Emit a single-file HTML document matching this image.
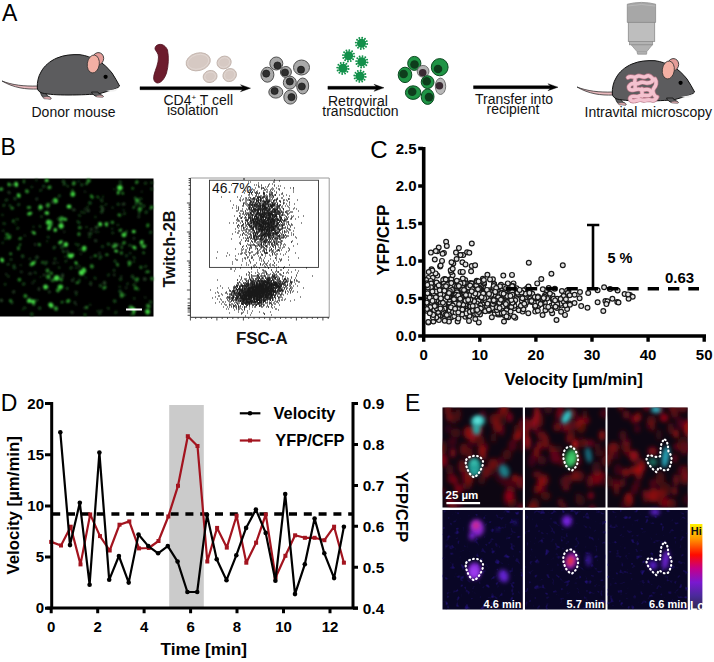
<!DOCTYPE html>
<html><head><meta charset="utf-8"><style>
html,body{margin:0;padding:0;background:#fff;width:714px;height:662px;overflow:hidden}
svg{display:block;font-family:"Liberation Sans",sans-serif}
</style></head><body>
<svg width="714" height="662" viewBox="0 0 714 662">

<defs>
<filter id="blur1" x="-5%" y="-5%" width="110%" height="110%"><feGaussianBlur stdDeviation="0.9"/></filter>
<filter id="bl15" x="-10%" y="-10%" width="120%" height="120%"><feGaussianBlur stdDeviation="1.9"/></filter>
<filter id="bl2" x="-60%" y="-60%" width="220%" height="220%"><feGaussianBlur stdDeviation="2"/></filter>
<filter id="redn0" x="0" y="0" width="100%" height="100%" color-interpolation-filters="sRGB">
<feTurbulence type="fractalNoise" baseFrequency="0.11 0.075" numOctaves="1" seed="3"/><feGaussianBlur stdDeviation="1.3"/>
<feColorMatrix type="matrix" values="1.7 0 0 0 -0.7  0 0 0 0 0.025  -0.2 0 0 0 0.17  0 0 0 0 1"/>
</filter>
<filter id="blun0" x="0" y="0" width="100%" height="100%" color-interpolation-filters="sRGB">
<feTurbulence type="fractalNoise" baseFrequency="0.2" numOctaves="2" seed="43"/>
<feColorMatrix type="matrix" values="0 0 0 0 0.17  0 0 0 0 0.08  0 0 0 0 0.62  0 0 2.6 0 -1.62"/>
</filter>
<filter id="redn1" x="0" y="0" width="100%" height="100%" color-interpolation-filters="sRGB">
<feTurbulence type="fractalNoise" baseFrequency="0.11 0.075" numOctaves="1" seed="8"/><feGaussianBlur stdDeviation="1.3"/>
<feColorMatrix type="matrix" values="1.7 0 0 0 -0.7  0 0 0 0 0.025  -0.2 0 0 0 0.17  0 0 0 0 1"/>
</filter>
<filter id="blun1" x="0" y="0" width="100%" height="100%" color-interpolation-filters="sRGB">
<feTurbulence type="fractalNoise" baseFrequency="0.2" numOctaves="2" seed="48"/>
<feColorMatrix type="matrix" values="0 0 0 0 0.17  0 0 0 0 0.08  0 0 0 0 0.62  0 0 2.6 0 -1.62"/>
</filter>
<filter id="redn2" x="0" y="0" width="100%" height="100%" color-interpolation-filters="sRGB">
<feTurbulence type="fractalNoise" baseFrequency="0.11 0.075" numOctaves="1" seed="13"/><feGaussianBlur stdDeviation="1.3"/>
<feColorMatrix type="matrix" values="1.7 0 0 0 -0.7  0 0 0 0 0.025  -0.2 0 0 0 0.17  0 0 0 0 1"/>
</filter>
<filter id="blun2" x="0" y="0" width="100%" height="100%" color-interpolation-filters="sRGB">
<feTurbulence type="fractalNoise" baseFrequency="0.2" numOctaves="2" seed="53"/>
<feColorMatrix type="matrix" values="0 0 0 0 0.17  0 0 0 0 0.08  0 0 0 0 0.62  0 0 2.6 0 -1.62"/>
</filter>
<linearGradient id="cbar" x1="0" y1="0" x2="0" y2="1">
<stop offset="0" stop-color="#fff200"/><stop offset="0.17" stop-color="#ff9a00"/><stop offset="0.36" stop-color="#ff0a00"/>
<stop offset="0.52" stop-color="#c4008a"/><stop offset="0.68" stop-color="#7a18d0"/><stop offset="0.84" stop-color="#4a2a9a"/><stop offset="1" stop-color="#302848"/>
</linearGradient>
<clipPath id="clipE"><rect x="442.5" y="407.5" width="80.3" height="100"/><rect x="525" y="407.5" width="80.5" height="100"/><rect x="607.5" y="407.5" width="80.2" height="100"/>
<rect x="442.5" y="510" width="80.3" height="99.5"/><rect x="525" y="510" width="80.5" height="99.5"/><rect x="607.5" y="510" width="80.2" height="99.5"/></clipPath>
</defs>

<rect width="714" height="662" fill="#fff"/>
<g id="A">
<text x="2" y="20.5" font-size="23" font-weight="normal" text-anchor="start" fill="#000" >A</text>
<g transform="translate(0,0)">
<path d="M2,81 C12,85 24,86.5 38,86 L38,89 C26,89.5 14,88 2,81 Z" fill="#e9b9bd" stroke="#333" stroke-width="0.8"/>
<path d="M40,88 C40,93 41.5,96 43.5,97.8 L51,99 C51.5,97.8 49.5,96.6 47.5,96 C46.5,94.5 46.5,92.5 46,90.5 Z" fill="#5c5c5e" stroke="#111" stroke-width="0.8"/>
<path d="M43,97.5 C45,96.5 48,96.3 50.5,97.3 C51.5,98 51,99.2 49.5,99.2 L44,98.8 Z" fill="#e2a9ae" stroke="#555" stroke-width="0.5"/>
<path d="M37.3,88 C37,82 38.5,76 41,72 C44,66 50,61 57,58 C64,55 72,54.3 80,54.7 C86,55.5 91,57.5 97,60 C103,63 108,68 112,73 C115,77.5 117.5,82 119.6,86 C118,88 115.5,89 112,90 C108,91 104,92.5 100,93.5 C92,94.5 80,95 68,95 C58,95 48,94.5 42,93 C39,92 37.5,90 37.3,88 Z" fill="#5c5c5e" stroke="#111" stroke-width="1"/>
<path d="M91.5,92 C92.5,94.5 94.5,96 97,96.5 L103.2,96.8 C103.6,95.8 102,95 100,94.6 C99,93.8 98.5,93 98,92 Z" fill="#5c5c5e" stroke="#111" stroke-width="0.8"/>
<path d="M96,96 C98,95 101,94.8 103,95.8 C103.8,96.5 103.2,97.2 102,97.2 L96.5,97 Z" fill="#e2a9ae" stroke="#555" stroke-width="0.5"/>
<path d="M106,91 C110,90 114,89.5 118,88 L116,91 C113,92 109,92 106,91 Z" fill="#f2f2f2"/>
<ellipse cx="98" cy="58.8" rx="5.6" ry="6.3" fill="#e49c98" stroke="#333" stroke-width="0.8" transform="rotate(20 98 58.8)"/>
<ellipse cx="93.3" cy="64" rx="6" ry="9" fill="#f3b0a4" stroke="#333" stroke-width="0.8" transform="rotate(8 93.3 64)"/>
<circle cx="105.6" cy="76.8" r="2.1" fill="#000"/>
</g>
<text x="31.5" y="116.5" font-size="14" font-weight="normal" text-anchor="start" fill="#111" >Donor mouse</text>
<path d="M156,46 C159,43 165,44 167.5,50 C169,57 168.5,66 166.5,73 C164.5,79 161,83 157.5,83 C154,82.5 153,79 154,75 C155.5,69 158.5,64 158.5,57 C158.5,53 155.5,51 155,49 C155,47.5 155.5,46.5 156,46 Z" fill="#6d1c2d" stroke="#4e0f1e" stroke-width="0.8"/>
<ellipse cx="198.2" cy="61.8" rx="12.3" ry="8.8" transform="rotate(-15 198.2 61.8)" fill="#d6c9c3" stroke="#c3b5ae" stroke-width="0.9"/>
<ellipse cx="198.2" cy="61.8" rx="10.700000000000001" ry="7.200000000000001" transform="rotate(-15 198.2 61.8)" fill="none" stroke="#e2d8d3" stroke-width="0.8"/>
<ellipse cx="224.1" cy="62.5" rx="7.2" ry="6.3" transform="rotate(-20 224.1 62.5)" fill="#d6c9c3" stroke="#c3b5ae" stroke-width="0.9"/>
<ellipse cx="224.1" cy="62.5" rx="5.6" ry="4.699999999999999" transform="rotate(-20 224.1 62.5)" fill="none" stroke="#e2d8d3" stroke-width="0.8"/>
<ellipse cx="210.1" cy="76.5" rx="7" ry="6" transform="rotate(-15 210.1 76.5)" fill="#d6c9c3" stroke="#c3b5ae" stroke-width="0.9"/>
<ellipse cx="210.1" cy="76.5" rx="5.4" ry="4.4" transform="rotate(-15 210.1 76.5)" fill="none" stroke="#e2d8d3" stroke-width="0.8"/>
<ellipse cx="229.7" cy="75.1" rx="7" ry="6.3" transform="rotate(-35 229.7 75.1)" fill="#d6c9c3" stroke="#c3b5ae" stroke-width="0.9"/>
<ellipse cx="229.7" cy="75.1" rx="5.4" ry="4.699999999999999" transform="rotate(-35 229.7 75.1)" fill="none" stroke="#e2d8d3" stroke-width="0.8"/>
<path d="M140,86.7 H242.5 L240.5,84.7 L250.5,88.2 L240.5,91.7 L242.5,89.7 H140 Z" fill="#000" stroke="#000" stroke-width="0.4" stroke-linejoin="round"/>
<text x="163.5" y="105.1" font-size="14" font-weight="normal" text-anchor="start" fill="#111" >CD4<tspan font-size="8" dy="-5">+</tspan><tspan dy="5"> T cell</tspan></text>
<text x="167" y="115.1" font-size="14" font-weight="normal" text-anchor="start" fill="#111" >isolation</text>
<ellipse cx="276.3" cy="63.5" rx="6.5" ry="6.5" fill="#a9a9a9" stroke="#505050" stroke-width="1"/>
<circle cx="277.5" cy="65.5" r="3.6" fill="#2e2e2e" stroke="#111" stroke-width="0.6"/>
<ellipse cx="267.4" cy="74.7" rx="6.5" ry="7.5" fill="#a9a9a9" stroke="#505050" stroke-width="1"/>
<circle cx="266.2" cy="73.6" r="3.6" fill="#2e2e2e" stroke="#111" stroke-width="0.6"/>
<ellipse cx="285.9" cy="72" rx="5.5" ry="5.5" fill="#a9a9a9" stroke="#505050" stroke-width="1"/>
<circle cx="285" cy="72.5" r="3.6" fill="#2e2e2e" stroke="#111" stroke-width="0.6"/>
<ellipse cx="301.5" cy="67.5" rx="8" ry="7.5" fill="#a9a9a9" stroke="#505050" stroke-width="1"/>
<circle cx="301" cy="69.7" r="3.6" fill="#2e2e2e" stroke="#111" stroke-width="0.6"/>
<ellipse cx="289.8" cy="82.6" rx="6.5" ry="6.5" fill="#a9a9a9" stroke="#505050" stroke-width="1"/>
<circle cx="289.8" cy="81.5" r="3.6" fill="#2e2e2e" stroke="#111" stroke-width="0.6"/>
<ellipse cx="302.7" cy="86" rx="6" ry="8" fill="#a9a9a9" stroke="#505050" stroke-width="1"/>
<circle cx="301.8" cy="86.5" r="3.6" fill="#2e2e2e" stroke="#111" stroke-width="0.6"/>
<ellipse cx="275.8" cy="92.1" rx="7" ry="6" fill="#a9a9a9" stroke="#505050" stroke-width="1"/>
<circle cx="274.6" cy="91" r="3.6" fill="#2e2e2e" stroke="#111" stroke-width="0.6"/>
<ellipse cx="290.3" cy="97.1" rx="6.5" ry="7" fill="#a9a9a9" stroke="#505050" stroke-width="1"/>
<circle cx="291.5" cy="97.1" r="3.6" fill="#2e2e2e" stroke="#111" stroke-width="0.6"/>
<g fill="#12904a"><circle cx="361.5" cy="43.3" r="4.5"/><circle cx="367.2" cy="44" r="0.95"/><circle cx="366" cy="46.8" r="0.95"/><circle cx="363.7" cy="48.6" r="0.95"/><circle cx="360.8" cy="49" r="0.95"/><circle cx="358" cy="47.8" r="0.95"/><circle cx="356.2" cy="45.5" r="0.95"/><circle cx="355.8" cy="42.6" r="0.95"/><circle cx="357" cy="39.8" r="0.95"/><circle cx="359.3" cy="38" r="0.95"/><circle cx="362.2" cy="37.6" r="0.95"/><circle cx="365" cy="38.8" r="0.95"/><circle cx="366.8" cy="41.1" r="0.95"/></g>
<path d="M365.3,43.8L366.9,44M364.5,45.6L365.8,46.6M363,46.8L363.6,48.3M361,47.1L360.8,48.7M359.2,46.3L358.2,47.6M358,44.8L356.5,45.4M357.7,42.8L356.1,42.6M358.5,41L357.2,40M360,39.8L359.4,38.3M362,39.5L362.2,37.9M363.8,40.3L364.8,39M365,41.8L366.5,41.2" stroke="#12904a" stroke-width="0.9"/>
<g fill="#12904a"><circle cx="348.6" cy="55.8" r="4.5"/><circle cx="354.3" cy="56.5" r="0.95"/><circle cx="353.1" cy="59.3" r="0.95"/><circle cx="350.8" cy="61.1" r="0.95"/><circle cx="347.9" cy="61.5" r="0.95"/><circle cx="345.1" cy="60.3" r="0.95"/><circle cx="343.3" cy="58" r="0.95"/><circle cx="342.9" cy="55.1" r="0.95"/><circle cx="344.1" cy="52.3" r="0.95"/><circle cx="346.4" cy="50.5" r="0.95"/><circle cx="349.3" cy="50.1" r="0.95"/><circle cx="352.1" cy="51.3" r="0.95"/><circle cx="353.9" cy="53.6" r="0.95"/></g>
<path d="M352.4,56.3L354,56.5M351.6,58.1L352.9,59.1M350.1,59.3L350.7,60.8M348.1,59.6L347.9,61.2M346.3,58.8L345.3,60.1M345.1,57.3L343.6,57.9M344.8,55.3L343.2,55.1M345.6,53.5L344.3,52.5M347.1,52.3L346.5,50.8M349.1,52L349.3,50.4M350.9,52.8L351.9,51.5M352.1,54.3L353.6,53.7" stroke="#12904a" stroke-width="0.9"/>
<g fill="#12904a"><circle cx="361.8" cy="61.8" r="4.5"/><circle cx="367.5" cy="62.5" r="0.95"/><circle cx="366.3" cy="65.3" r="0.95"/><circle cx="364" cy="67.1" r="0.95"/><circle cx="361.1" cy="67.5" r="0.95"/><circle cx="358.3" cy="66.3" r="0.95"/><circle cx="356.5" cy="64" r="0.95"/><circle cx="356.1" cy="61.1" r="0.95"/><circle cx="357.3" cy="58.3" r="0.95"/><circle cx="359.6" cy="56.5" r="0.95"/><circle cx="362.5" cy="56.1" r="0.95"/><circle cx="365.3" cy="57.3" r="0.95"/><circle cx="367.1" cy="59.6" r="0.95"/></g>
<path d="M365.6,62.3L367.2,62.5M364.8,64.1L366.1,65.1M363.3,65.3L363.9,66.8M361.3,65.6L361.1,67.2M359.5,64.8L358.5,66.1M358.3,63.3L356.8,63.9M358,61.3L356.4,61.1M358.8,59.5L357.5,58.5M360.3,58.3L359.7,56.8M362.3,58L362.5,56.4M364.1,58.8L365.1,57.5M365.3,60.3L366.8,59.7" stroke="#12904a" stroke-width="0.9"/>
<g fill="#12904a"><circle cx="342.9" cy="68.3" r="4.5"/><circle cx="348.6" cy="69" r="0.95"/><circle cx="347.4" cy="71.8" r="0.95"/><circle cx="345.1" cy="73.6" r="0.95"/><circle cx="342.2" cy="74" r="0.95"/><circle cx="339.4" cy="72.8" r="0.95"/><circle cx="337.6" cy="70.5" r="0.95"/><circle cx="337.2" cy="67.6" r="0.95"/><circle cx="338.4" cy="64.8" r="0.95"/><circle cx="340.7" cy="63" r="0.95"/><circle cx="343.6" cy="62.6" r="0.95"/><circle cx="346.4" cy="63.8" r="0.95"/><circle cx="348.2" cy="66.1" r="0.95"/></g>
<path d="M346.7,68.8L348.3,69M345.9,70.6L347.2,71.6M344.4,71.8L345,73.3M342.4,72.1L342.2,73.7M340.6,71.3L339.6,72.6M339.4,69.8L337.9,70.4M339.1,67.8L337.5,67.6M339.9,66L338.6,65M341.4,64.8L340.8,63.3M343.4,64.5L343.6,62.9M345.2,65.3L346.2,64M346.4,66.8L347.9,66.2" stroke="#12904a" stroke-width="0.9"/>
<g fill="#12904a"><circle cx="360" cy="76.2" r="4.5"/><circle cx="365.7" cy="76.9" r="0.95"/><circle cx="364.5" cy="79.7" r="0.95"/><circle cx="362.2" cy="81.5" r="0.95"/><circle cx="359.3" cy="81.9" r="0.95"/><circle cx="356.5" cy="80.7" r="0.95"/><circle cx="354.7" cy="78.4" r="0.95"/><circle cx="354.3" cy="75.5" r="0.95"/><circle cx="355.5" cy="72.7" r="0.95"/><circle cx="357.8" cy="70.9" r="0.95"/><circle cx="360.7" cy="70.5" r="0.95"/><circle cx="363.5" cy="71.7" r="0.95"/><circle cx="365.3" cy="74" r="0.95"/></g>
<path d="M363.8,76.7L365.4,76.9M363,78.5L364.3,79.5M361.5,79.7L362.1,81.2M359.5,80L359.3,81.6M357.7,79.2L356.7,80.5M356.5,77.7L355,78.3M356.2,75.7L354.6,75.5M357,73.9L355.7,72.9M358.5,72.7L357.9,71.2M360.5,72.4L360.7,70.8M362.3,73.2L363.3,71.9M363.5,74.7L365,74.1" stroke="#12904a" stroke-width="0.9"/>
<path d="M327.9,86.3 H376 L374,84.3 L384,87.8 L374,91.3 L376,89.3 H327.9 Z" fill="#000" stroke="#000" stroke-width="0.4" stroke-linejoin="round"/>
<text x="328" y="106" font-size="14" font-weight="normal" text-anchor="start" fill="#111" >Retroviral</text>
<text x="322.3" y="116.1" font-size="14" font-weight="normal" text-anchor="start" fill="#111" >transduction</text>
<ellipse cx="414.3" cy="63.4" rx="6.6" ry="7" fill="#1f9445" stroke="#0d4a22" stroke-width="1"/>
<circle cx="414.5" cy="64.5" r="4.3" fill="#0e3d1c"/>
<ellipse cx="405" cy="74.9" rx="6.8" ry="7.7" fill="#1f9445" stroke="#0d4a22" stroke-width="1"/>
<circle cx="403.6" cy="74" r="4.3" fill="#0e3d1c"/>
<ellipse cx="423.1" cy="71.3" rx="5.9" ry="5.9" fill="#b0b0b0" stroke="#666" stroke-width="0.9"/>
<circle cx="422.7" cy="72.7" r="3.8" fill="#3a2a33"/>
<ellipse cx="439.7" cy="67.2" rx="8.4" ry="8.6" fill="#1f9445" stroke="#0d4a22" stroke-width="1"/>
<circle cx="438" cy="69" r="4.3" fill="#0e3d1c"/>
<ellipse cx="427.6" cy="82.1" rx="6.4" ry="6.4" fill="#1f9445" stroke="#0d4a22" stroke-width="1"/>
<circle cx="426.7" cy="81.3" r="4.3" fill="#0e3d1c"/>
<ellipse cx="440.5" cy="86.3" rx="5.2" ry="8.2" fill="#b8b8b8" stroke="#666" stroke-width="0.9"/>
<circle cx="439.4" cy="85.8" r="3.8" fill="#3a2a33"/>
<ellipse cx="413.1" cy="92.6" rx="7.7" ry="6.8" fill="#1f9445" stroke="#0d4a22" stroke-width="1"/>
<circle cx="412.2" cy="91.7" r="4.3" fill="#0e3d1c"/>
<ellipse cx="427.6" cy="96.7" rx="6.4" ry="7.7" fill="#1f9445" stroke="#0d4a22" stroke-width="1"/>
<circle cx="429" cy="97.1" r="4.3" fill="#0e3d1c"/>
<path d="M473.5,85.7 H550 L548,83.7 L558,87.2 L548,90.7 L550,88.7 H473.5 Z" fill="#000" stroke="#000" stroke-width="0.4" stroke-linejoin="round"/>
<text x="475" y="104.2" font-size="14" font-weight="normal" text-anchor="start" fill="#111" >Transfer into</text>
<text x="486.5" y="113.8" font-size="14" font-weight="normal" text-anchor="start" fill="#111" >recipient</text>
<path d="M627.3,4.2 Q641.5,0.6 655.6,4.2 V22.4 H627.3 Z" fill="#a7a7a7" stroke="#8c8c8c" stroke-width="0.8"/>
<path d="M627.6,6 Q641.5,3 655.3,6" fill="none" stroke="#b8b8b8" stroke-width="1"/>
<rect x="628.3" y="22.4" width="26.4" height="19" fill="#bebebe" stroke="#8c8c8c" stroke-width="0.8"/>
<rect x="629.5" y="41.4" width="23.2" height="3.4" fill="#b3b3b3" stroke="#8c8c8c" stroke-width="0.7"/>
<path d="M631.2,44.8 L652.3,44.8 L646.8,51.6 L646.6,54.2 L637.6,54.2 L637,51.6 Z" fill="#b2b2b2" stroke="#8c8c8c" stroke-width="0.7"/>
<path d="M637,51.6 H646.8" stroke="#999" stroke-width="0.6"/>
<g transform="translate(575,6)">
<path d="M2,81 C12,85 24,86.5 38,86 L38,89 C26,89.5 14,88 2,81 Z" fill="#e9b9bd" stroke="#333" stroke-width="0.8"/>
<path d="M40,88 C40,93 41.5,96 43.5,97.8 L51,99 C51.5,97.8 49.5,96.6 47.5,96 C46.5,94.5 46.5,92.5 46,90.5 Z" fill="#5c5c5e" stroke="#111" stroke-width="0.8"/>
<path d="M43,97.5 C45,96.5 48,96.3 50.5,97.3 C51.5,98 51,99.2 49.5,99.2 L44,98.8 Z" fill="#e2a9ae" stroke="#555" stroke-width="0.5"/>
<path d="M37.3,88 C37,82 38.5,76 41,72 C44,66 50,61 57,58 C64,55 72,54.3 80,54.7 C86,55.5 91,57.5 97,60 C103,63 108,68 112,73 C115,77.5 117.5,82 119.6,86 C118,88 115.5,89 112,90 C108,91 104,92.5 100,93.5 C92,94.5 80,95 68,95 C58,95 48,94.5 42,93 C39,92 37.5,90 37.3,88 Z" fill="#5c5c5e" stroke="#111" stroke-width="1"/>
<path d="M91.5,92 C92.5,94.5 94.5,96 97,96.5 L103.2,96.8 C103.6,95.8 102,95 100,94.6 C99,93.8 98.5,93 98,92 Z" fill="#5c5c5e" stroke="#111" stroke-width="0.8"/>
<path d="M96,96 C98,95 101,94.8 103,95.8 C103.8,96.5 103.2,97.2 102,97.2 L96.5,97 Z" fill="#e2a9ae" stroke="#555" stroke-width="0.5"/>
<path d="M106,91 C110,90 114,89.5 118,88 L116,91 C113,92 109,92 106,91 Z" fill="#f2f2f2"/>
<ellipse cx="98" cy="58.8" rx="5.6" ry="6.3" fill="#e49c98" stroke="#333" stroke-width="0.8" transform="rotate(20 98 58.8)"/>
<ellipse cx="93.3" cy="64" rx="6" ry="9" fill="#f3b0a4" stroke="#333" stroke-width="0.8" transform="rotate(8 93.3 64)"/>
<circle cx="105.6" cy="76.8" r="2.1" fill="#000"/>
<path d="M53,71.5 c3,-2.5 6,1 9,-1 c3,-2 6,2 9,0 c3,-2 5,0 6.5,2 c1,3 -2,4.5 -5,4.5 c-3,0 -5,-2 -8,0 c-3,2 -6,-1 -9,1.5 c-2.5,2 -2,5 1,5.5 c3,0.5 6,-2 9,-0.5 c3,1.5 6,-1.5 9,0.5 c2.5,2 2,5 -1,5.5 c-3,0.5 -6,-1.5 -9,0.5 c-3,2 -6,-1 -8.5,1 c-2,2 0,4.5 3,4 c3,-0.5 5,-2 8,-1 c3,1 6,-1 9,0 c3,1 5,-1 6,-3 M80,73 c2,3 1,7 -1,9 c-2,2 -1,6 1,8 M60,74 c-1,3 1,5 0,8 M67,83 c-1,2 1,4 0,7" fill="none" stroke="#b87888" stroke-width="4.8" stroke-linecap="round" stroke-linejoin="round"/>
<path d="M53,71.5 c3,-2.5 6,1 9,-1 c3,-2 6,2 9,0 c3,-2 5,0 6.5,2 c1,3 -2,4.5 -5,4.5 c-3,0 -5,-2 -8,0 c-3,2 -6,-1 -9,1.5 c-2.5,2 -2,5 1,5.5 c3,0.5 6,-2 9,-0.5 c3,1.5 6,-1.5 9,0.5 c2.5,2 2,5 -1,5.5 c-3,0.5 -6,-1.5 -9,0.5 c-3,2 -6,-1 -8.5,1 c-2,2 0,4.5 3,4 c3,-0.5 5,-2 8,-1 c3,1 6,-1 9,0 c3,1 5,-1 6,-3 M80,73 c2,3 1,7 -1,9 c-2,2 -1,6 1,8 M60,74 c-1,3 1,5 0,8 M67,83 c-1,2 1,4 0,7" fill="none" stroke="#f4c2cf" stroke-width="3.4" stroke-linecap="round" stroke-linejoin="round"/>
</g>
<text x="584.5" y="116.7" font-size="14" font-weight="normal" text-anchor="start" fill="#111" >Intravital microscopy</text>
</g>
<g id="B">
<text x="0.5" y="155.3" font-size="23" font-weight="normal" text-anchor="start" fill="#000" >B</text>
<rect x="0" y="178.5" width="153.5" height="138" fill="#000"/>
<g filter="url(#blur1)">
<ellipse cx="69.3" cy="255.6" rx="2.3" ry="1.9" transform="rotate(83 69.3 255.6)" fill="#3ccc3c"/>
<ellipse cx="122.4" cy="244.2" rx="1.4" ry="0.9" transform="rotate(33 122.4 244.2)" fill="#1a4a1e"/>
<ellipse cx="90.9" cy="233.5" rx="1.6" ry="1.3" transform="rotate(133 90.9 233.5)" fill="#1a4a1e"/>
<ellipse cx="10" cy="205.7" rx="1.4" ry="1.1" transform="rotate(5 10 205.7)" fill="#1e5220"/>
<ellipse cx="79.4" cy="266.4" rx="1.4" ry="1" transform="rotate(119 79.4 266.4)" fill="#1a4a1e"/>
<ellipse cx="107.9" cy="222.6" rx="1.1" ry="1" transform="rotate(52 107.9 222.6)" fill="#173f1a"/>
<ellipse cx="17.3" cy="219.3" rx="1.6" ry="1.1" transform="rotate(3 17.3 219.3)" fill="#1a4a1e"/>
<ellipse cx="72" cy="312.3" rx="1.6" ry="1.4" transform="rotate(13 72 312.3)" fill="#2a4a2c"/>
<ellipse cx="51.9" cy="222" rx="1.8" ry="1.2" transform="rotate(73 51.9 222)" fill="#1a4a1e"/>
<ellipse cx="2.7" cy="242.8" rx="1.2" ry="0.9" transform="rotate(122 2.7 242.8)" fill="#1e5220"/>
<ellipse cx="64.3" cy="231.8" rx="1" ry="0.9" transform="rotate(178 64.3 231.8)" fill="#2a4a2c"/>
<ellipse cx="151.7" cy="182.7" rx="1.5" ry="1.3" transform="rotate(179 151.7 182.7)" fill="#1a4a1e"/>
<ellipse cx="150.4" cy="208.8" rx="1.3" ry="0.9" transform="rotate(139 150.4 208.8)" fill="#1a4a1e"/>
<ellipse cx="12.2" cy="208.2" rx="1.7" ry="1.4" transform="rotate(2 12.2 208.2)" fill="#2a8a2c"/>
<ellipse cx="145.8" cy="245.3" rx="1.2" ry="0.8" transform="rotate(155 145.8 245.3)" fill="#1e5220"/>
<ellipse cx="124.5" cy="213.7" rx="1.8" ry="1.3" transform="rotate(133 124.5 213.7)" fill="#173f1a"/>
<ellipse cx="134.2" cy="261.5" rx="1" ry="1" transform="rotate(18 134.2 261.5)" fill="#1e5220"/>
<ellipse cx="112.7" cy="232.9" rx="1.4" ry="1.2" transform="rotate(162 112.7 232.9)" fill="#1a4a1e"/>
<ellipse cx="20.1" cy="244.7" rx="1.4" ry="0.9" transform="rotate(110 20.1 244.7)" fill="#2a8a2c"/>
<ellipse cx="114.1" cy="189.3" rx="1" ry="0.7" transform="rotate(44 114.1 189.3)" fill="#1e5220"/>
<ellipse cx="14.9" cy="198.7" rx="1.7" ry="1.3" transform="rotate(59 14.9 198.7)" fill="#1e5220"/>
<ellipse cx="90.1" cy="304.7" rx="1.3" ry="0.8" transform="rotate(64 90.1 304.7)" fill="#1a4a1e"/>
<ellipse cx="73.8" cy="278.6" rx="1.1" ry="0.9" transform="rotate(179 73.8 278.6)" fill="#1a4a1e"/>
<ellipse cx="136.9" cy="279.5" rx="2.3" ry="1.6" transform="rotate(142 136.9 279.5)" fill="#269026"/>
<ellipse cx="72.5" cy="190.5" rx="1.3" ry="1" transform="rotate(169 72.5 190.5)" fill="#2a8a2c"/>
<ellipse cx="95.4" cy="231.6" rx="1.1" ry="0.9" transform="rotate(109 95.4 231.6)" fill="#2a4a2c"/>
<ellipse cx="133.8" cy="278.3" rx="1.5" ry="1.2" transform="rotate(132 133.8 278.3)" fill="#1a4a1e"/>
<ellipse cx="79.3" cy="249.5" rx="1" ry="1" transform="rotate(15 79.3 249.5)" fill="#1a4a1e"/>
<ellipse cx="76.1" cy="263" rx="1.8" ry="1.3" transform="rotate(46 76.1 263)" fill="#3ccc3c"/>
<ellipse cx="79.3" cy="281.8" rx="1.4" ry="1" transform="rotate(167 79.3 281.8)" fill="#173f1a"/>
<ellipse cx="101.6" cy="206.8" rx="1.8" ry="1.7" transform="rotate(145 101.6 206.8)" fill="#173f1a"/>
<ellipse cx="34.2" cy="304.3" rx="1.3" ry="1.3" transform="rotate(24 34.2 304.3)" fill="#1a4a1e"/>
<ellipse cx="108.4" cy="308.3" rx="1.4" ry="1" transform="rotate(30 108.4 308.3)" fill="#1e5220"/>
<ellipse cx="126.5" cy="231.6" rx="1.6" ry="1.5" transform="rotate(120 126.5 231.6)" fill="#173f1a"/>
<ellipse cx="49.4" cy="291.9" rx="1.6" ry="1.1" transform="rotate(109 49.4 291.9)" fill="#2a4a2c"/>
<ellipse cx="47.7" cy="286.9" rx="1.4" ry="0.9" transform="rotate(24 47.7 286.9)" fill="#2a4a2c"/>
<ellipse cx="36.8" cy="199" rx="1.4" ry="1.2" transform="rotate(113 36.8 199)" fill="#2a4a2c"/>
<ellipse cx="145.7" cy="272.4" rx="1.2" ry="0.7" transform="rotate(85 145.7 272.4)" fill="#173f1a"/>
<ellipse cx="81.8" cy="184.9" rx="1.5" ry="1.5" transform="rotate(140 81.8 184.9)" fill="#1e5220"/>
<ellipse cx="60.4" cy="286.9" rx="2.7" ry="2.4" transform="rotate(15 60.4 286.9)" fill="#3ccc3c"/>
<ellipse cx="69" cy="206.6" rx="2.4" ry="2" transform="rotate(1 69 206.6)" fill="#46dc46"/>
<ellipse cx="71" cy="267.9" rx="1.7" ry="1.5" transform="rotate(129 71 267.9)" fill="#1a4a1e"/>
<ellipse cx="33.2" cy="301.5" rx="2.3" ry="2.1" transform="rotate(175 33.2 301.5)" fill="#46dc46"/>
<ellipse cx="40.5" cy="277" rx="1" ry="0.8" transform="rotate(90 40.5 277)" fill="#173f1a"/>
<ellipse cx="117" cy="245.8" rx="1.1" ry="1" transform="rotate(145 117 245.8)" fill="#1e5220"/>
<ellipse cx="81.5" cy="272.7" rx="2.8" ry="2.7" transform="rotate(84 81.5 272.7)" fill="#46dc46"/>
<ellipse cx="143.8" cy="246.5" rx="2" ry="1.6" transform="rotate(15 143.8 246.5)" fill="#46dc46"/>
<ellipse cx="126.5" cy="255.8" rx="1.8" ry="1.3" transform="rotate(92 126.5 255.8)" fill="#173f1a"/>
<ellipse cx="145.2" cy="297.5" rx="1.1" ry="0.9" transform="rotate(54 145.2 297.5)" fill="#2a4a2c"/>
<ellipse cx="87.5" cy="207.1" rx="1.5" ry="0.9" transform="rotate(90 87.5 207.1)" fill="#1a4a1e"/>
<ellipse cx="78.9" cy="234.1" rx="1.8" ry="1.6" transform="rotate(101 78.9 234.1)" fill="#2a8a2c"/>
<ellipse cx="141.6" cy="242" rx="2.2" ry="1.5" transform="rotate(144 141.6 242)" fill="#46dc46"/>
<ellipse cx="20.2" cy="238.5" rx="1.8" ry="1.3" transform="rotate(162 20.2 238.5)" fill="#2a8a2c"/>
<ellipse cx="64.4" cy="184" rx="1.9" ry="1.2" transform="rotate(126 64.4 184)" fill="#1e5220"/>
<ellipse cx="35.3" cy="272.7" rx="1.6" ry="1" transform="rotate(63 35.3 272.7)" fill="#1a4a1e"/>
<ellipse cx="129.6" cy="264.2" rx="2.3" ry="1.3" transform="rotate(126 129.6 264.2)" fill="#269026"/>
<ellipse cx="63.4" cy="251.5" rx="1.6" ry="1.3" transform="rotate(36 63.4 251.5)" fill="#1e5220"/>
<ellipse cx="129.5" cy="262.6" rx="2.1" ry="1.9" transform="rotate(41 129.5 262.6)" fill="#2a8a2c"/>
<ellipse cx="48.7" cy="222.5" rx="2.8" ry="2.7" transform="rotate(39 48.7 222.5)" fill="#3ccc3c"/>
<ellipse cx="135.2" cy="197.9" rx="1.4" ry="1.4" transform="rotate(69 135.2 197.9)" fill="#1e5220"/>
<ellipse cx="31.3" cy="264.8" rx="1.9" ry="1.4" transform="rotate(17 31.3 264.8)" fill="#2f9a30"/>
<ellipse cx="18.4" cy="248.3" rx="2.1" ry="1.3" transform="rotate(90 18.4 248.3)" fill="#2a8a2c"/>
<ellipse cx="73.8" cy="183.3" rx="2.3" ry="1.8" transform="rotate(110 73.8 183.3)" fill="#2a8a2c"/>
<ellipse cx="28.9" cy="207.5" rx="2.3" ry="1.4" transform="rotate(178 28.9 207.5)" fill="#2a8a2c"/>
<ellipse cx="21.3" cy="271.9" rx="1.4" ry="1" transform="rotate(17 21.3 271.9)" fill="#2a4a2c"/>
<ellipse cx="65.9" cy="261.1" rx="1.8" ry="1.2" transform="rotate(126 65.9 261.1)" fill="#173f1a"/>
<ellipse cx="55.3" cy="230" rx="1.9" ry="1.7" transform="rotate(108 55.3 230)" fill="#46dc46"/>
<ellipse cx="135.9" cy="288.2" rx="2" ry="1.5" transform="rotate(154 135.9 288.2)" fill="#269026"/>
<ellipse cx="29.8" cy="258.9" rx="1.3" ry="0.8" transform="rotate(137 29.8 258.9)" fill="#1e5220"/>
<ellipse cx="124" cy="234.8" rx="2.5" ry="2.3" transform="rotate(158 124 234.8)" fill="#3ccc3c"/>
<ellipse cx="62.3" cy="277.6" rx="1.4" ry="0.9" transform="rotate(61 62.3 277.6)" fill="#2a4a2c"/>
<ellipse cx="150.6" cy="301.9" rx="1.9" ry="1.3" transform="rotate(49 150.6 301.9)" fill="#1e5220"/>
<ellipse cx="100.6" cy="256.9" rx="1.9" ry="1.6" transform="rotate(70 100.6 256.9)" fill="#1a4a1e"/>
<ellipse cx="116" cy="312.3" rx="1.7" ry="1.2" transform="rotate(110 116 312.3)" fill="#173f1a"/>
<ellipse cx="77.2" cy="282.8" rx="1.6" ry="1.1" transform="rotate(1 77.2 282.8)" fill="#2f9a30"/>
<ellipse cx="84.1" cy="248.6" rx="2.8" ry="2.4" transform="rotate(102 84.1 248.6)" fill="#3ccc3c"/>
<ellipse cx="84" cy="270.2" rx="2.7" ry="2.1" transform="rotate(69 84 270.2)" fill="#3ccc3c"/>
<ellipse cx="130.2" cy="253.2" rx="1.4" ry="1" transform="rotate(77 130.2 253.2)" fill="#173f1a"/>
<ellipse cx="91.3" cy="229.4" rx="1.5" ry="1.1" transform="rotate(117 91.3 229.4)" fill="#2a4a2c"/>
<ellipse cx="5.1" cy="284.3" rx="1.4" ry="1.2" transform="rotate(113 5.1 284.3)" fill="#1a4a1e"/>
<ellipse cx="136.5" cy="281" rx="1.9" ry="1.2" transform="rotate(177 136.5 281)" fill="#1e5220"/>
<ellipse cx="65.9" cy="244.5" rx="2.3" ry="2.3" transform="rotate(43 65.9 244.5)" fill="#46dc46"/>
<ellipse cx="22.8" cy="309.6" rx="1" ry="0.8" transform="rotate(127 22.8 309.6)" fill="#1a4a1e"/>
<ellipse cx="31.8" cy="187" rx="1.4" ry="1.2" transform="rotate(22 31.8 187)" fill="#173f1a"/>
<ellipse cx="91.8" cy="266.3" rx="2.1" ry="1.9" transform="rotate(65 91.8 266.3)" fill="#2a8a2c"/>
<ellipse cx="144.8" cy="279.1" rx="1.8" ry="1.6" transform="rotate(20 144.8 279.1)" fill="#2a4a2c"/>
<ellipse cx="42.5" cy="262.3" rx="1.5" ry="1" transform="rotate(125 42.5 262.3)" fill="#2a8a2c"/>
<ellipse cx="29.7" cy="213.6" rx="2.7" ry="1.6" transform="rotate(164 29.7 213.6)" fill="#3ccc3c"/>
<ellipse cx="2.4" cy="215" rx="1.2" ry="0.9" transform="rotate(6 2.4 215)" fill="#1a4a1e"/>
<ellipse cx="138.8" cy="201.7" rx="1.4" ry="1.1" transform="rotate(176 138.8 201.7)" fill="#2a4a2c"/>
<ellipse cx="52.9" cy="280.6" rx="1.4" ry="1.3" transform="rotate(13 52.9 280.6)" fill="#269026"/>
<ellipse cx="127.5" cy="283.8" rx="1.4" ry="0.9" transform="rotate(134 127.5 283.8)" fill="#1e5220"/>
<ellipse cx="99.7" cy="313.5" rx="1.7" ry="1.6" transform="rotate(98 99.7 313.5)" fill="#173f1a"/>
<ellipse cx="99.7" cy="258.4" rx="1.5" ry="1.2" transform="rotate(58 99.7 258.4)" fill="#173f1a"/>
<ellipse cx="124.1" cy="242.6" rx="1.6" ry="1.6" transform="rotate(1 124.1 242.6)" fill="#269026"/>
<ellipse cx="13.3" cy="221" rx="1.6" ry="1" transform="rotate(124 13.3 221)" fill="#2f9a30"/>
<ellipse cx="100.2" cy="224.2" rx="2.2" ry="1.9" transform="rotate(58 100.2 224.2)" fill="#46dc46"/>
<ellipse cx="67.1" cy="288.4" rx="1.4" ry="1.3" transform="rotate(57 67.1 288.4)" fill="#1e5220"/>
<ellipse cx="13.7" cy="291.9" rx="1.5" ry="1.4" transform="rotate(121 13.7 291.9)" fill="#2a4a2c"/>
<ellipse cx="121.4" cy="253" rx="1.5" ry="1.3" transform="rotate(101 121.4 253)" fill="#2f9a30"/>
<ellipse cx="123.6" cy="209.9" rx="1.3" ry="0.8" transform="rotate(28 123.6 209.9)" fill="#173f1a"/>
<ellipse cx="10.7" cy="253.8" rx="1.4" ry="1.2" transform="rotate(15 10.7 253.8)" fill="#2f9a30"/>
<ellipse cx="13.8" cy="265.6" rx="1.6" ry="1.1" transform="rotate(134 13.8 265.6)" fill="#1e5220"/>
<ellipse cx="74.8" cy="302.5" rx="1.3" ry="1.2" transform="rotate(82 74.8 302.5)" fill="#2a4a2c"/>
<ellipse cx="102.5" cy="246.6" rx="1.6" ry="1.6" transform="rotate(129 102.5 246.6)" fill="#173f1a"/>
<ellipse cx="115.3" cy="313.1" rx="1.3" ry="0.9" transform="rotate(0 115.3 313.1)" fill="#173f1a"/>
<ellipse cx="145.6" cy="266.4" rx="1.7" ry="1.3" transform="rotate(127 145.6 266.4)" fill="#173f1a"/>
<ellipse cx="139.2" cy="213.2" rx="1.6" ry="1.2" transform="rotate(114 139.2 213.2)" fill="#173f1a"/>
<ellipse cx="65.2" cy="219.4" rx="2.1" ry="1.4" transform="rotate(10 65.2 219.4)" fill="#3ccc3c"/>
<ellipse cx="118.2" cy="204.2" rx="1.5" ry="1.5" transform="rotate(82 118.2 204.2)" fill="#1a4a1e"/>
<ellipse cx="48.2" cy="206.7" rx="1.5" ry="1.2" transform="rotate(105 48.2 206.7)" fill="#1e5220"/>
<ellipse cx="67.7" cy="300.8" rx="1.8" ry="1.6" transform="rotate(163 67.7 300.8)" fill="#173f1a"/>
<ellipse cx="129.9" cy="245.4" rx="1.6" ry="1.4" transform="rotate(172 129.9 245.4)" fill="#1a4a1e"/>
<ellipse cx="73.9" cy="209.8" rx="1.7" ry="1.3" transform="rotate(170 73.9 209.8)" fill="#2a4a2c"/>
<ellipse cx="119.9" cy="187.8" rx="2.7" ry="2.6" transform="rotate(160 119.9 187.8)" fill="#46dc46"/>
<ellipse cx="121.3" cy="276.3" rx="1.1" ry="0.8" transform="rotate(28 121.3 276.3)" fill="#2a4a2c"/>
<ellipse cx="138.1" cy="289.4" rx="1.6" ry="1.3" transform="rotate(133 138.1 289.4)" fill="#1a4a1e"/>
<ellipse cx="23.7" cy="284" rx="1.8" ry="1.6" transform="rotate(147 23.7 284)" fill="#1a4a1e"/>
<ellipse cx="54.1" cy="263" rx="1.6" ry="1" transform="rotate(160 54.1 263)" fill="#2a4a2c"/>
<ellipse cx="3.9" cy="205.3" rx="1.7" ry="1.3" transform="rotate(122 3.9 205.3)" fill="#1a4a1e"/>
<ellipse cx="83" cy="251" rx="1.3" ry="0.9" transform="rotate(149 83 251)" fill="#1a4a1e"/>
<ellipse cx="85" cy="314.6" rx="1.4" ry="0.8" transform="rotate(12 85 314.6)" fill="#269026"/>
<ellipse cx="60.5" cy="242.3" rx="2.5" ry="1.5" transform="rotate(149 60.5 242.3)" fill="#46dc46"/>
<ellipse cx="108.5" cy="244.2" rx="1.7" ry="1.6" transform="rotate(20 108.5 244.2)" fill="#1e5220"/>
<ellipse cx="137.1" cy="200.5" rx="2.1" ry="2.1" transform="rotate(168 137.1 200.5)" fill="#2f9a30"/>
<ellipse cx="84.9" cy="191.7" rx="1.1" ry="0.8" transform="rotate(67 84.9 191.7)" fill="#2a4a2c"/>
<ellipse cx="86" cy="277.7" rx="1.1" ry="0.7" transform="rotate(148 86 277.7)" fill="#1a4a1e"/>
<ellipse cx="20.8" cy="265.1" rx="1" ry="0.8" transform="rotate(34 20.8 265.1)" fill="#1a4a1e"/>
<ellipse cx="16.2" cy="184.4" rx="2.6" ry="1.9" transform="rotate(78 16.2 184.4)" fill="#46dc46"/>
<ellipse cx="141" cy="198.8" rx="1.6" ry="1.3" transform="rotate(26 141 198.8)" fill="#173f1a"/>
<ellipse cx="95.1" cy="278.1" rx="1.7" ry="1.2" transform="rotate(57 95.1 278.1)" fill="#1a4a1e"/>
<ellipse cx="40.4" cy="205.5" rx="1.5" ry="1" transform="rotate(79 40.4 205.5)" fill="#2a4a2c"/>
<ellipse cx="120.1" cy="291.4" rx="1.7" ry="1.6" transform="rotate(28 120.1 291.4)" fill="#1e5220"/>
<ellipse cx="54.2" cy="247.6" rx="1.9" ry="1.5" transform="rotate(128 54.2 247.6)" fill="#1e5220"/>
<ellipse cx="86.7" cy="183.6" rx="1.4" ry="1.1" transform="rotate(139 86.7 183.6)" fill="#2f9a30"/>
<ellipse cx="106.3" cy="224.4" rx="2.3" ry="1.5" transform="rotate(65 106.3 224.4)" fill="#3ccc3c"/>
<ellipse cx="37" cy="256.9" rx="1.8" ry="1.2" transform="rotate(11 37 256.9)" fill="#2a4a2c"/>
<ellipse cx="91.8" cy="196.6" rx="2.3" ry="1.5" transform="rotate(51 91.8 196.6)" fill="#269026"/>
<ellipse cx="55.8" cy="202.4" rx="1.4" ry="1.1" transform="rotate(146 55.8 202.4)" fill="#1e5220"/>
<ellipse cx="47.5" cy="270.6" rx="2" ry="1.8" transform="rotate(68 47.5 270.6)" fill="#2a8a2c"/>
<ellipse cx="24.9" cy="235.6" rx="1.1" ry="0.8" transform="rotate(95 24.9 235.6)" fill="#2a4a2c"/>
<ellipse cx="79.5" cy="215.6" rx="1.6" ry="1" transform="rotate(59 79.5 215.6)" fill="#1e5220"/>
<ellipse cx="61.9" cy="247.2" rx="1.8" ry="1.7" transform="rotate(62 61.9 247.2)" fill="#173f1a"/>
<ellipse cx="114.5" cy="245.6" rx="2.7" ry="2" transform="rotate(150 114.5 245.6)" fill="#46dc46"/>
<ellipse cx="18.7" cy="195.5" rx="2.3" ry="1.8" transform="rotate(59 18.7 195.5)" fill="#3ccc3c"/>
<ellipse cx="49.4" cy="187.4" rx="2.1" ry="1.7" transform="rotate(162 49.4 187.4)" fill="#2f9a30"/>
<ellipse cx="134.3" cy="298.4" rx="1.2" ry="1.2" transform="rotate(151 134.3 298.4)" fill="#1a4a1e"/>
<ellipse cx="72.8" cy="194.2" rx="2.5" ry="2.4" transform="rotate(98 72.8 194.2)" fill="#3ccc3c"/>
<ellipse cx="151.9" cy="278.7" rx="1.9" ry="1.5" transform="rotate(66 151.9 278.7)" fill="#2a8a2c"/>
<ellipse cx="34.5" cy="280.8" rx="1.1" ry="1" transform="rotate(162 34.5 280.8)" fill="#1a4a1e"/>
<ellipse cx="134.2" cy="257.7" rx="1.7" ry="1" transform="rotate(53 134.2 257.7)" fill="#1e5220"/>
<ellipse cx="10.5" cy="300.8" rx="1.7" ry="1.4" transform="rotate(71 10.5 300.8)" fill="#2a8a2c"/>
<ellipse cx="47.2" cy="241.4" rx="1.1" ry="1" transform="rotate(58 47.2 241.4)" fill="#173f1a"/>
<ellipse cx="133.7" cy="207.4" rx="1.4" ry="0.9" transform="rotate(124 133.7 207.4)" fill="#2f9a30"/>
<ellipse cx="136.8" cy="182.2" rx="1.9" ry="1.5" transform="rotate(125 136.8 182.2)" fill="#2a8a2c"/>
<ellipse cx="29.9" cy="298.8" rx="1.7" ry="1.2" transform="rotate(19 29.9 298.8)" fill="#2a4a2c"/>
<ellipse cx="132.3" cy="276.3" rx="1.8" ry="1.4" transform="rotate(125 132.3 276.3)" fill="#1a4a1e"/>
<ellipse cx="26.6" cy="296.3" rx="1.2" ry="1.1" transform="rotate(124 26.6 296.3)" fill="#2a4a2c"/>
<ellipse cx="120.4" cy="230.3" rx="1.9" ry="1.3" transform="rotate(159 120.4 230.3)" fill="#2f9a30"/>
<ellipse cx="136.2" cy="204.4" rx="1.6" ry="1.3" transform="rotate(23 136.2 204.4)" fill="#1a4a1e"/>
<ellipse cx="67.5" cy="251.3" rx="1.5" ry="1.1" transform="rotate(8 67.5 251.3)" fill="#2a4a2c"/>
<ellipse cx="64.9" cy="256.8" rx="1.2" ry="0.8" transform="rotate(177 64.9 256.8)" fill="#1a4a1e"/>
<ellipse cx="29.1" cy="301.1" rx="2.3" ry="2" transform="rotate(6 29.1 301.1)" fill="#46dc46"/>
<ellipse cx="1.4" cy="300.4" rx="1.7" ry="1.6" transform="rotate(11 1.4 300.4)" fill="#2a4a2c"/>
<ellipse cx="100.4" cy="285.7" rx="1.8" ry="1.5" transform="rotate(91 100.4 285.7)" fill="#1e5220"/>
<ellipse cx="90.7" cy="284.1" rx="1.6" ry="1.3" transform="rotate(78 90.7 284.1)" fill="#2a4a2c"/>
<ellipse cx="119.8" cy="286.8" rx="1.2" ry="1" transform="rotate(88 119.8 286.8)" fill="#173f1a"/>
<ellipse cx="40.5" cy="207.3" rx="2.2" ry="2.1" transform="rotate(9 40.5 207.3)" fill="#46dc46"/>
<ellipse cx="23.9" cy="182.4" rx="1.4" ry="1" transform="rotate(78 23.9 182.4)" fill="#1a4a1e"/>
<ellipse cx="12" cy="302.5" rx="1.7" ry="1.2" transform="rotate(97 12 302.5)" fill="#1e5220"/>
<ellipse cx="9.2" cy="237.4" rx="2.1" ry="1.9" transform="rotate(147 9.2 237.4)" fill="#269026"/>
<ellipse cx="76.3" cy="267.8" rx="1.2" ry="1" transform="rotate(68 76.3 267.8)" fill="#173f1a"/>
<ellipse cx="10.2" cy="235.4" rx="1.9" ry="1.2" transform="rotate(38 10.2 235.4)" fill="#173f1a"/>
<ellipse cx="115.1" cy="261.1" rx="1.5" ry="1.5" transform="rotate(134 115.1 261.1)" fill="#1a4a1e"/>
<ellipse cx="37.3" cy="300.2" rx="1.3" ry="1" transform="rotate(70 37.3 300.2)" fill="#1a4a1e"/>
<ellipse cx="147.7" cy="271.8" rx="2" ry="1.3" transform="rotate(175 147.7 271.8)" fill="#2a8a2c"/>
<ellipse cx="84.3" cy="212.6" rx="1.3" ry="1" transform="rotate(167 84.3 212.6)" fill="#1e5220"/>
<ellipse cx="7" cy="234.4" rx="1.7" ry="1.4" transform="rotate(10 7 234.4)" fill="#269026"/>
<ellipse cx="140.5" cy="203.9" rx="1.5" ry="1.1" transform="rotate(168 140.5 203.9)" fill="#2a8a2c"/>
<ellipse cx="33.5" cy="226.9" rx="1.1" ry="0.8" transform="rotate(98 33.5 226.9)" fill="#1e5220"/>
<ellipse cx="90.7" cy="282.5" rx="1.6" ry="1.1" transform="rotate(88 90.7 282.5)" fill="#173f1a"/>
<ellipse cx="31.9" cy="231.7" rx="1.3" ry="0.9" transform="rotate(124 31.9 231.7)" fill="#1a4a1e"/>
<ellipse cx="79.4" cy="280.1" rx="1.6" ry="1.1" transform="rotate(102 79.4 280.1)" fill="#1a4a1e"/>
<ellipse cx="55.5" cy="200.7" rx="2.6" ry="2.3" transform="rotate(64 55.5 200.7)" fill="#3ccc3c"/>
<ellipse cx="4.1" cy="223.5" rx="1.8" ry="1.3" transform="rotate(14 4.1 223.5)" fill="#1a4a1e"/>
<ellipse cx="46.6" cy="262.1" rx="1.5" ry="1" transform="rotate(33 46.6 262.1)" fill="#1e5220"/>
<ellipse cx="48.2" cy="237.2" rx="1.6" ry="1.2" transform="rotate(24 48.2 237.2)" fill="#173f1a"/>
<ellipse cx="101.6" cy="199.9" rx="1.6" ry="1.3" transform="rotate(50 101.6 199.9)" fill="#173f1a"/>
<ellipse cx="79" cy="228" rx="1.6" ry="1" transform="rotate(66 79 228)" fill="#1a4a1e"/>
<ellipse cx="113.8" cy="245.2" rx="1.7" ry="1.4" transform="rotate(137 113.8 245.2)" fill="#1a4a1e"/>
<ellipse cx="139.8" cy="209.2" rx="2.4" ry="2.2" transform="rotate(119 139.8 209.2)" fill="#2a8a2c"/>
<ellipse cx="119.3" cy="215" rx="1.8" ry="1.4" transform="rotate(21 119.3 215)" fill="#2f9a30"/>
<ellipse cx="44" cy="275" rx="1.2" ry="1.1" transform="rotate(166 44 275)" fill="#2a4a2c"/>
<ellipse cx="101.4" cy="212.4" rx="1.4" ry="0.9" transform="rotate(61 101.4 212.4)" fill="#2a4a2c"/>
<ellipse cx="106.9" cy="254.7" rx="1.7" ry="1.2" transform="rotate(4 106.9 254.7)" fill="#2a8a2c"/>
<ellipse cx="138.8" cy="216.7" rx="1.3" ry="1.1" transform="rotate(152 138.8 216.7)" fill="#2a4a2c"/>
<ellipse cx="11.9" cy="184.8" rx="1.3" ry="1.2" transform="rotate(67 11.9 184.8)" fill="#1e5220"/>
<ellipse cx="98" cy="231.9" rx="1" ry="0.9" transform="rotate(161 98 231.9)" fill="#1e5220"/>
<ellipse cx="117.5" cy="264.7" rx="1.8" ry="1.2" transform="rotate(73 117.5 264.7)" fill="#2f9a30"/>
<ellipse cx="133.8" cy="231.6" rx="1.9" ry="1.6" transform="rotate(6 133.8 231.6)" fill="#46dc46"/>
<ellipse cx="75.8" cy="243.9" rx="1.2" ry="0.9" transform="rotate(108 75.8 243.9)" fill="#1e5220"/>
<ellipse cx="36.4" cy="180.1" rx="1.2" ry="1" transform="rotate(70 36.4 180.1)" fill="#1a4a1e"/>
<ellipse cx="95.3" cy="255.7" rx="1.7" ry="1.2" transform="rotate(174 95.3 255.7)" fill="#2a8a2c"/>
<ellipse cx="48.3" cy="276.7" rx="2.4" ry="2.2" transform="rotate(123 48.3 276.7)" fill="#2a8a2c"/>
<ellipse cx="51.3" cy="273.1" rx="1.8" ry="1.3" transform="rotate(52 51.3 273.1)" fill="#269026"/>
<ellipse cx="81.6" cy="212" rx="1.2" ry="0.9" transform="rotate(58 81.6 212)" fill="#1e5220"/>
<ellipse cx="133.5" cy="313.5" rx="1.6" ry="1.5" transform="rotate(159 133.5 313.5)" fill="#269026"/>
<ellipse cx="117.6" cy="244.9" rx="1.8" ry="1.1" transform="rotate(155 117.6 244.9)" fill="#2a4a2c"/>
<ellipse cx="61" cy="279.8" rx="2" ry="1.4" transform="rotate(45 61 279.8)" fill="#269026"/>
<ellipse cx="50.4" cy="225.1" rx="2.2" ry="1.8" transform="rotate(151 50.4 225.1)" fill="#2f9a30"/>
<ellipse cx="97.8" cy="197" rx="1.5" ry="0.9" transform="rotate(48 97.8 197)" fill="#269026"/>
<ellipse cx="102.1" cy="211.2" rx="1.5" ry="1.5" transform="rotate(2 102.1 211.2)" fill="#1e5220"/>
<ellipse cx="41.5" cy="216.6" rx="1.3" ry="1.2" transform="rotate(119 41.5 216.6)" fill="#1e5220"/>
<ellipse cx="8.4" cy="276.3" rx="1.3" ry="1.1" transform="rotate(7 8.4 276.3)" fill="#1a4a1e"/>
<ellipse cx="62.1" cy="302.1" rx="1.5" ry="0.9" transform="rotate(154 62.1 302.1)" fill="#2f9a30"/>
<ellipse cx="121.9" cy="293.2" rx="1.6" ry="1.4" transform="rotate(70 121.9 293.2)" fill="#173f1a"/>
<ellipse cx="102.9" cy="209.2" rx="1.4" ry="1.3" transform="rotate(155 102.9 209.2)" fill="#2a4a2c"/>
<ellipse cx="134" cy="238.4" rx="1.2" ry="1" transform="rotate(159 134 238.4)" fill="#2a4a2c"/>
<ellipse cx="95.4" cy="217" rx="1.3" ry="0.9" transform="rotate(86 95.4 217)" fill="#1a4a1e"/>
<ellipse cx="23.9" cy="181" rx="1.3" ry="0.9" transform="rotate(120 23.9 181)" fill="#2a8a2c"/>
<ellipse cx="151.6" cy="207.3" rx="1.8" ry="1.6" transform="rotate(87 151.6 207.3)" fill="#2f9a30"/>
<ellipse cx="85.2" cy="209" rx="1.2" ry="0.8" transform="rotate(148 85.2 209)" fill="#2a4a2c"/>
<ellipse cx="131.6" cy="314.2" rx="1.7" ry="1.1" transform="rotate(150 131.6 314.2)" fill="#1a4a1e"/>
<ellipse cx="143.6" cy="252.8" rx="1.3" ry="1.1" transform="rotate(48 143.6 252.8)" fill="#2a8a2c"/>
<ellipse cx="78.7" cy="181.4" rx="1" ry="0.8" transform="rotate(172 78.7 181.4)" fill="#1e5220"/>
<ellipse cx="120.6" cy="279.3" rx="1.7" ry="1.6" transform="rotate(144 120.6 279.3)" fill="#1a4a1e"/>
<ellipse cx="142.4" cy="245.1" rx="2.3" ry="1.9" transform="rotate(73 142.4 245.1)" fill="#2a8a2c"/>
<ellipse cx="88.1" cy="210.7" rx="1.6" ry="1.5" transform="rotate(66 88.1 210.7)" fill="#2a4a2c"/>
<ellipse cx="95.7" cy="240.7" rx="1.6" ry="1.3" transform="rotate(12 95.7 240.7)" fill="#2a4a2c"/>
<ellipse cx="51.6" cy="280.1" rx="1.5" ry="1.3" transform="rotate(133 51.6 280.1)" fill="#1e5220"/>
<ellipse cx="53.5" cy="201" rx="1" ry="0.8" transform="rotate(32 53.5 201)" fill="#1a4a1e"/>
<ellipse cx="61.9" cy="223.4" rx="1.2" ry="1.1" transform="rotate(171 61.9 223.4)" fill="#2a4a2c"/>
<ellipse cx="11" cy="259.5" rx="1.4" ry="1.4" transform="rotate(57 11 259.5)" fill="#173f1a"/>
<ellipse cx="62.6" cy="275.3" rx="1.6" ry="1.6" transform="rotate(49 62.6 275.3)" fill="#2a4a2c"/>
<ellipse cx="134.1" cy="285" rx="1.7" ry="1.4" transform="rotate(1 134.1 285)" fill="#1a4a1e"/>
<ellipse cx="33.1" cy="263.2" rx="2.4" ry="1.9" transform="rotate(154 33.1 263.2)" fill="#3ccc3c"/>
<ellipse cx="19.3" cy="279.7" rx="1.8" ry="1.7" transform="rotate(78 19.3 279.7)" fill="#269026"/>
<ellipse cx="35.7" cy="261.1" rx="1" ry="0.9" transform="rotate(92 35.7 261.1)" fill="#173f1a"/>
<ellipse cx="43.9" cy="186.2" rx="1.5" ry="1.1" transform="rotate(58 43.9 186.2)" fill="#2a4a2c"/>
<ellipse cx="112.4" cy="222.3" rx="1.7" ry="1.6" transform="rotate(178 112.4 222.3)" fill="#2a8a2c"/>
<ellipse cx="114.7" cy="301.1" rx="1.8" ry="1.7" transform="rotate(33 114.7 301.1)" fill="#1e5220"/>
<ellipse cx="126.2" cy="287.7" rx="1.1" ry="1" transform="rotate(178 126.2 287.7)" fill="#2a4a2c"/>
<ellipse cx="38.9" cy="289" rx="1.8" ry="1.2" transform="rotate(96 38.9 289)" fill="#2a4a2c"/>
<ellipse cx="146.2" cy="212.2" rx="1.7" ry="1.6" transform="rotate(79 146.2 212.2)" fill="#1a4a1e"/>
<ellipse cx="121.8" cy="295.4" rx="2.3" ry="2.1" transform="rotate(98 121.8 295.4)" fill="#2a8a2c"/>
<ellipse cx="123.6" cy="204.1" rx="1.9" ry="1.3" transform="rotate(167 123.6 204.1)" fill="#2a4a2c"/>
<ellipse cx="18.7" cy="204.5" rx="1.6" ry="1.5" transform="rotate(152 18.7 204.5)" fill="#1a4a1e"/>
<ellipse cx="14.3" cy="267.6" rx="1.9" ry="1.8" transform="rotate(56 14.3 267.6)" fill="#173f1a"/>
<ellipse cx="58.1" cy="290.2" rx="2.3" ry="2" transform="rotate(152 58.1 290.2)" fill="#2a8a2c"/>
<ellipse cx="105.9" cy="204.4" rx="1.4" ry="0.9" transform="rotate(124 105.9 204.4)" fill="#1a4a1e"/>
<ellipse cx="40" cy="226.4" rx="1.3" ry="0.8" transform="rotate(55 40 226.4)" fill="#2a8a2c"/>
<ellipse cx="112.2" cy="228.6" rx="1.1" ry="1" transform="rotate(73 112.2 228.6)" fill="#173f1a"/>
<ellipse cx="57.6" cy="262.7" rx="1.1" ry="0.7" transform="rotate(24 57.6 262.7)" fill="#173f1a"/>
<ellipse cx="36.5" cy="258.2" rx="1.3" ry="1.2" transform="rotate(157 36.5 258.2)" fill="#173f1a"/>
<ellipse cx="35.1" cy="244.5" rx="1.2" ry="1" transform="rotate(74 35.1 244.5)" fill="#2a4a2c"/>
<ellipse cx="64.3" cy="218" rx="1.3" ry="1.1" transform="rotate(171 64.3 218)" fill="#1e5220"/>
<ellipse cx="3.3" cy="230.6" rx="1.3" ry="1" transform="rotate(155 3.3 230.6)" fill="#1a4a1e"/>
<ellipse cx="124.9" cy="294.8" rx="1.1" ry="1" transform="rotate(98 124.9 294.8)" fill="#1a4a1e"/>
<ellipse cx="120.3" cy="182.2" rx="1.6" ry="1.6" transform="rotate(106 120.3 182.2)" fill="#1a4a1e"/>
<ellipse cx="101.9" cy="201" rx="1.5" ry="1.2" transform="rotate(30 101.9 201)" fill="#1a4a1e"/>
<ellipse cx="147.5" cy="311.8" rx="2.6" ry="2.3" transform="rotate(71 147.5 311.8)" fill="#3ccc3c"/>
<ellipse cx="151.6" cy="189" rx="1.6" ry="1.1" transform="rotate(72 151.6 189)" fill="#1e5220"/>
<ellipse cx="76.1" cy="292.1" rx="1.7" ry="1" transform="rotate(17 76.1 292.1)" fill="#2a4a2c"/>
<ellipse cx="101.2" cy="310.9" rx="1.4" ry="0.9" transform="rotate(159 101.2 310.9)" fill="#2a4a2c"/>
<ellipse cx="130.8" cy="307.5" rx="2.2" ry="1.8" transform="rotate(4 130.8 307.5)" fill="#3ccc3c"/>
<ellipse cx="118.2" cy="192.7" rx="1.9" ry="1.3" transform="rotate(101 118.2 192.7)" fill="#3ccc3c"/>
<ellipse cx="78" cy="221.6" rx="1.5" ry="1.2" transform="rotate(44 78 221.6)" fill="#1e5220"/>
<ellipse cx="89.9" cy="203" rx="1.8" ry="1.7" transform="rotate(24 89.9 203)" fill="#1e5220"/>
<ellipse cx="22.7" cy="256.2" rx="1.9" ry="1.7" transform="rotate(111 22.7 256.2)" fill="#1a4a1e"/>
<ellipse cx="63.4" cy="181.4" rx="1.7" ry="1.5" transform="rotate(147 63.4 181.4)" fill="#1e5220"/>
<ellipse cx="45.4" cy="263.5" rx="1.8" ry="1.5" transform="rotate(88 45.4 263.5)" fill="#1a4a1e"/>
<ellipse cx="59.9" cy="220.4" rx="1.6" ry="1.2" transform="rotate(96 59.9 220.4)" fill="#173f1a"/>
<ellipse cx="31.8" cy="314.1" rx="1.9" ry="1.8" transform="rotate(24 31.8 314.1)" fill="#1a4a1e"/>
<ellipse cx="60.6" cy="220.4" rx="1.7" ry="1.3" transform="rotate(46 60.6 220.4)" fill="#2f9a30"/>
<ellipse cx="59.1" cy="267.6" rx="1.3" ry="1" transform="rotate(21 59.1 267.6)" fill="#1e5220"/>
<ellipse cx="80.7" cy="253.9" rx="1.1" ry="0.8" transform="rotate(40 80.7 253.9)" fill="#2a4a2c"/>
<ellipse cx="55.3" cy="308.4" rx="1.7" ry="1.2" transform="rotate(94 55.3 308.4)" fill="#1a4a1e"/>
<ellipse cx="2.1" cy="260.1" rx="2.4" ry="1.8" transform="rotate(65 2.1 260.1)" fill="#46dc46"/>
<ellipse cx="32.7" cy="283" rx="1.1" ry="1" transform="rotate(33 32.7 283)" fill="#2a4a2c"/>
<ellipse cx="9" cy="192.5" rx="1.7" ry="1.3" transform="rotate(48 9 192.5)" fill="#2a4a2c"/>
<ellipse cx="61.7" cy="218.6" rx="2.4" ry="2.2" transform="rotate(15 61.7 218.6)" fill="#2f9a30"/>
<ellipse cx="5.9" cy="200.2" rx="1.3" ry="1.3" transform="rotate(51 5.9 200.2)" fill="#173f1a"/>
<ellipse cx="8.2" cy="264.3" rx="1.6" ry="1" transform="rotate(166 8.2 264.3)" fill="#1e5220"/>
<ellipse cx="88.6" cy="180.8" rx="2" ry="2" transform="rotate(75 88.6 180.8)" fill="#2a8a2c"/>
<ellipse cx="27" cy="191.3" rx="2.1" ry="1.8" transform="rotate(25 27 191.3)" fill="#2a8a2c"/>
<ellipse cx="68.2" cy="301.1" rx="2.4" ry="1.7" transform="rotate(150 68.2 301.1)" fill="#269026"/>
<ellipse cx="108.5" cy="274.9" rx="1.6" ry="1" transform="rotate(124 108.5 274.9)" fill="#1e5220"/>
<ellipse cx="15.6" cy="223.8" rx="1.1" ry="0.8" transform="rotate(170 15.6 223.8)" fill="#173f1a"/>
<ellipse cx="5.7" cy="238.3" rx="1.8" ry="1.5" transform="rotate(121 5.7 238.3)" fill="#173f1a"/>
<ellipse cx="78.2" cy="245" rx="1.7" ry="1.2" transform="rotate(153 78.2 245)" fill="#1a4a1e"/>
<ellipse cx="53.3" cy="202.1" rx="1.5" ry="1.1" transform="rotate(106 53.3 202.1)" fill="#173f1a"/>
<ellipse cx="55.1" cy="258.8" rx="1.3" ry="1.1" transform="rotate(176 55.1 258.8)" fill="#1e5220"/>
<ellipse cx="96.5" cy="227.4" rx="1.8" ry="1.7" transform="rotate(8 96.5 227.4)" fill="#2a4a2c"/>
<ellipse cx="58" cy="276.7" rx="1.5" ry="1.5" transform="rotate(111 58 276.7)" fill="#173f1a"/>
<ellipse cx="59.4" cy="195.9" rx="1.6" ry="1.3" transform="rotate(111 59.4 195.9)" fill="#1e5220"/>
<ellipse cx="6.3" cy="274.3" rx="1.3" ry="0.9" transform="rotate(99 6.3 274.3)" fill="#2a4a2c"/>
<ellipse cx="122.7" cy="193.2" rx="1.5" ry="1.2" transform="rotate(39 122.7 193.2)" fill="#269026"/>
<ellipse cx="53" cy="202" rx="1.9" ry="1.4" transform="rotate(30 53 202)" fill="#2a4a2c"/>
<ellipse cx="56" cy="308.4" rx="2.2" ry="2" transform="rotate(52 56 308.4)" fill="#2f9a30"/>
<ellipse cx="17.7" cy="228.3" rx="1.6" ry="1.1" transform="rotate(160 17.7 228.3)" fill="#1e5220"/>
<ellipse cx="40.7" cy="190.2" rx="1.8" ry="1.2" transform="rotate(142 40.7 190.2)" fill="#173f1a"/>
<ellipse cx="25.2" cy="296" rx="1.9" ry="1.7" transform="rotate(109 25.2 296)" fill="#269026"/>
<ellipse cx="114.3" cy="274.9" rx="1.3" ry="1" transform="rotate(114 114.3 274.9)" fill="#2a4a2c"/>
<ellipse cx="99.4" cy="253.2" rx="1.3" ry="0.9" transform="rotate(123 99.4 253.2)" fill="#2a4a2c"/>
<ellipse cx="86.5" cy="227.1" rx="1.1" ry="1.1" transform="rotate(170 86.5 227.1)" fill="#1a4a1e"/>
<ellipse cx="46.7" cy="180.4" rx="2" ry="1.5" transform="rotate(173 46.7 180.4)" fill="#46dc46"/>
<ellipse cx="132.7" cy="188.3" rx="1.3" ry="1.1" transform="rotate(12 132.7 188.3)" fill="#269026"/>
<ellipse cx="148.1" cy="311.6" rx="2.2" ry="1.9" transform="rotate(97 148.1 311.6)" fill="#3ccc3c"/>
<ellipse cx="80.5" cy="227.8" rx="1.6" ry="1.3" transform="rotate(35 80.5 227.8)" fill="#173f1a"/>
<ellipse cx="30.1" cy="273.6" rx="1.8" ry="1.1" transform="rotate(169 30.1 273.6)" fill="#2a4a2c"/>
<ellipse cx="39.7" cy="209.6" rx="1.5" ry="1.4" transform="rotate(27 39.7 209.6)" fill="#1e5220"/>
<ellipse cx="130.7" cy="306.2" rx="1.5" ry="1.3" transform="rotate(88 130.7 306.2)" fill="#2a4a2c"/>
<ellipse cx="141.9" cy="191.7" rx="1" ry="0.7" transform="rotate(172 141.9 191.7)" fill="#2a4a2c"/>
<ellipse cx="145.5" cy="183.2" rx="1.6" ry="1.3" transform="rotate(149 145.5 183.2)" fill="#1a4a1e"/>
<ellipse cx="1.1" cy="189.2" rx="2.2" ry="1.6" transform="rotate(175 1.1 189.2)" fill="#2f9a30"/>
<ellipse cx="34.1" cy="232.9" rx="1.8" ry="1.4" transform="rotate(43 34.1 232.9)" fill="#46dc46"/>
<ellipse cx="79.7" cy="227.5" rx="1.8" ry="1.1" transform="rotate(167 79.7 227.5)" fill="#2a8a2c"/>
<ellipse cx="39.3" cy="244.7" rx="1.6" ry="1.3" transform="rotate(59 39.3 244.7)" fill="#2f9a30"/>
<ellipse cx="90.9" cy="257.5" rx="1.3" ry="0.8" transform="rotate(4 90.9 257.5)" fill="#2a4a2c"/>
<ellipse cx="112.6" cy="207.6" rx="1.1" ry="0.9" transform="rotate(44 112.6 207.6)" fill="#1e5220"/>
<ellipse cx="67.7" cy="186.1" rx="1.6" ry="1" transform="rotate(24 67.7 186.1)" fill="#1a4a1e"/>
<ellipse cx="150.6" cy="232.3" rx="1.7" ry="1.3" transform="rotate(142 150.6 232.3)" fill="#1e5220"/>
<ellipse cx="58.3" cy="218.8" rx="1.4" ry="1.3" transform="rotate(133 58.3 218.8)" fill="#1a4a1e"/>
<ellipse cx="8.9" cy="184.4" rx="2" ry="1.2" transform="rotate(76 8.9 184.4)" fill="#3ccc3c"/>
<ellipse cx="133.6" cy="309.7" rx="2.7" ry="1.8" transform="rotate(61 133.6 309.7)" fill="#46dc46"/>
<ellipse cx="143.8" cy="206" rx="1.8" ry="1.6" transform="rotate(122 143.8 206)" fill="#173f1a"/>
<ellipse cx="56.5" cy="278.1" rx="2.7" ry="2.7" transform="rotate(26 56.5 278.1)" fill="#46dc46"/>
<ellipse cx="103.1" cy="196.6" rx="1.2" ry="1" transform="rotate(104 103.1 196.6)" fill="#173f1a"/>
<ellipse cx="116.1" cy="251.1" rx="2" ry="1.3" transform="rotate(14 116.1 251.1)" fill="#46dc46"/>
<ellipse cx="148.3" cy="306.1" rx="2.4" ry="2" transform="rotate(33 148.3 306.1)" fill="#2a8a2c"/>
<ellipse cx="45.5" cy="287" rx="2.4" ry="2.3" transform="rotate(82 45.5 287)" fill="#46dc46"/>
<ellipse cx="6.9" cy="199.9" rx="1.4" ry="1.2" transform="rotate(122 6.9 199.9)" fill="#1a4a1e"/>
<ellipse cx="43.5" cy="186.1" rx="1.9" ry="1.1" transform="rotate(148 43.5 186.1)" fill="#173f1a"/>
<ellipse cx="121.7" cy="247.4" rx="1.5" ry="0.8" transform="rotate(83 121.7 247.4)" fill="#2f9a30"/>
<ellipse cx="147.8" cy="225.4" rx="2.1" ry="1.4" transform="rotate(101 147.8 225.4)" fill="#269026"/>
<ellipse cx="48.9" cy="228.1" rx="2.2" ry="1.8" transform="rotate(104 48.9 228.1)" fill="#46dc46"/>
<ellipse cx="39.7" cy="308.2" rx="1.6" ry="1.5" transform="rotate(121 39.7 308.2)" fill="#1e5220"/>
<ellipse cx="71.7" cy="255.8" rx="2.7" ry="2" transform="rotate(137 71.7 255.8)" fill="#46dc46"/>
<ellipse cx="24.8" cy="307.9" rx="1.6" ry="1.2" transform="rotate(17 24.8 307.9)" fill="#1a4a1e"/>
<ellipse cx="76.1" cy="304.5" rx="1" ry="0.8" transform="rotate(68 76.1 304.5)" fill="#2a4a2c"/>
<ellipse cx="76.2" cy="294.3" rx="1.3" ry="1.1" transform="rotate(10 76.2 294.3)" fill="#1a4a1e"/>
<ellipse cx="97.8" cy="311" rx="1.1" ry="1" transform="rotate(79 97.8 311)" fill="#1e5220"/>
<ellipse cx="89.1" cy="233.8" rx="1.6" ry="1" transform="rotate(35 89.1 233.8)" fill="#2a4a2c"/>
<ellipse cx="84.8" cy="307.7" rx="1.3" ry="1.2" transform="rotate(86 84.8 307.7)" fill="#2a4a2c"/>
<ellipse cx="140.9" cy="267.3" rx="1.6" ry="1.4" transform="rotate(80 140.9 267.3)" fill="#2a8a2c"/>
<ellipse cx="104.5" cy="287.7" rx="2.2" ry="1.4" transform="rotate(145 104.5 287.7)" fill="#2f9a30"/>
<ellipse cx="46.8" cy="213" rx="2.3" ry="1.7" transform="rotate(4 46.8 213)" fill="#46dc46"/>
<ellipse cx="141.8" cy="267" rx="1.1" ry="1.1" transform="rotate(120 141.8 267)" fill="#173f1a"/>
<ellipse cx="47.9" cy="205.1" rx="2.4" ry="2" transform="rotate(136 47.9 205.1)" fill="#2a8a2c"/>
<ellipse cx="114.1" cy="270.3" rx="1.4" ry="1.2" transform="rotate(73 114.1 270.3)" fill="#1a4a1e"/>
<ellipse cx="86.9" cy="307.4" rx="1.7" ry="1.2" transform="rotate(88 86.9 307.4)" fill="#2a8a2c"/>
<ellipse cx="134.4" cy="247.5" rx="2.4" ry="1.6" transform="rotate(41 134.4 247.5)" fill="#3ccc3c"/>
<ellipse cx="78.9" cy="222.7" rx="1.6" ry="1.4" transform="rotate(33 78.9 222.7)" fill="#1a4a1e"/>
<ellipse cx="50.9" cy="305.2" rx="2.8" ry="2.3" transform="rotate(52 50.9 305.2)" fill="#46dc46"/>
<ellipse cx="117.9" cy="225" rx="1.4" ry="0.9" transform="rotate(94 117.9 225)" fill="#1a4a1e"/>
<ellipse cx="72.4" cy="280.5" rx="1.5" ry="1.1" transform="rotate(35 72.4 280.5)" fill="#2a4a2c"/>
<ellipse cx="61.1" cy="225.9" rx="2.7" ry="2.5" transform="rotate(53 61.1 225.9)" fill="#46dc46"/>
<ellipse cx="33.5" cy="304.2" rx="1.4" ry="1" transform="rotate(164 33.5 304.2)" fill="#2f9a30"/>
<ellipse cx="104.5" cy="282.9" rx="1.8" ry="1.8" transform="rotate(115 104.5 282.9)" fill="#2a4a2c"/>
<ellipse cx="89.5" cy="236.7" rx="1.2" ry="1.2" transform="rotate(15 89.5 236.7)" fill="#1e5220"/>
</g>
<rect x="126" y="308.5" width="16" height="2" fill="#fff"/>
<path d="M190.5,178 H329.2 V317.3" fill="none" stroke="#9a9a9a" stroke-width="1"/>
<path d="M190.4,178 V317.3 H329.2" fill="none" stroke="#333" stroke-width="1"/>
<path d="M186.9,290h3.5M188.6,281.3h1.8M188.6,276.2h1.8M188.6,272.5h1.8M188.6,269.7h1.8M188.6,267.4h1.8M188.6,265.5h1.8M188.6,263.8h1.8M188.6,262.3h1.8M186.9,261h3.5M188.6,252.3h1.8M188.6,247.2h1.8M188.6,243.5h1.8M188.6,240.7h1.8M188.6,238.4h1.8M188.6,236.5h1.8M188.6,234.8h1.8M188.6,233.3h1.8M186.9,232h3.5M188.6,223.3h1.8M188.6,218.2h1.8M188.6,214.5h1.8M188.6,211.7h1.8M188.6,209.4h1.8M188.6,207.5h1.8M188.6,205.8h1.8M188.6,204.3h1.8M186.9,203h3.5M188.6,194.3h1.8M188.6,189.2h1.8M188.6,185.5h1.8M188.6,182.7h1.8M188.6,180.4h1.8M188.6,178.5h1.8M187.6,299h2.8M187.6,303h2.8M187.6,305.5h2.8M187.6,307.2h2.8M187.6,308.5h2.8M187.6,310h2.8M187.6,312h2.8M187.6,315.3h2.8M190.4,317.3v3.2M195.7,317.3v1.6M201,317.3v1.6M206.3,317.3v1.6M211.6,317.3v1.6M216.9,317.3v3.2M222.2,317.3v1.6M227.5,317.3v1.6M232.8,317.3v1.6M238.1,317.3v1.6M243.4,317.3v3.2M248.7,317.3v1.6M254,317.3v1.6M259.3,317.3v1.6M264.6,317.3v1.6M269.9,317.3v3.2M275.2,317.3v1.6M280.5,317.3v1.6M285.8,317.3v1.6M291.1,317.3v1.6M296.4,317.3v3.2M301.7,317.3v1.6M307,317.3v1.6M312.3,317.3v1.6M317.6,317.3v1.6M322.9,317.3v3.2M328.2,317.3v1.6" stroke="#333" stroke-width="0.9"/>
<rect x="209.5" y="180.2" width="109" height="87.2" fill="none" stroke="#333" stroke-width="0.9"/>
<path d="M252 203h1M272 188h1M263 188h1M277 224h1M279 214h1M269 217h1M256 222h1M251 214h1M272 222h1M260 252h1M265 212h1M266 213h1M260 215h1M287 222h1M266 230h1M287 219h1M258 256h1M248 214h1M272 254h1M254 185h1M272 213h1M260 227h1M267 225h1M260 239h1M281 222h1M260 231h1M270 206h1M259 235h1M263 216h1M267 220h1M264 193h1M284 225h1M255 234h1M268 221h1M276 254h1M271 244h1M288 207h1M259 231h1M246 215h1M279 237h1M271 193h1M290 230h1M273 228h1M246 198h1M251 247h1M255 216h1M262 229h1M270 225h1M266 225h1M278 220h1M258 226h1M247 204h1M253 224h1M288 233h1M277 225h1M268 214h1M261 185h1M251 201h1M274 231h1M277 244h1M261 236h1M286 222h1M276 219h1M247 221h1M255 221h1M259 225h1M241 249h1M279 216h1M255 220h1M272 227h1M269 192h1M252 239h1M267 199h1M255 199h1M253 237h1M262 237h1M267 199h1M257 254h1M256 205h1M278 223h1M264 242h1M245 225h1M253 199h1M255 237h1M263 193h1M252 242h1M276 205h1M292 217h1M251 218h1M275 245h1M276 215h1M258 199h1M264 212h1M267 202h1M259 207h1M251 202h1M253 202h1M271 222h1M250 227h1M268 242h1M262 217h1M257 222h1M270 223h1M262 229h1M266 224h1M254 223h1M253 207h1M266 252h1M276 221h1M262 235h1M280 240h1M262 223h1M261 216h1M255 216h1M240 201h1M269 207h1M271 202h1M260 226h1M253 209h1M292 212h1M257 211h1M265 220h1M276 233h1M260 215h1M249 197h1M256 231h1M266 232h1M275 219h1M288 214h1M257 214h1M277 219h1M256 226h1M277 220h1M262 236h1M276 235h1M256 224h1M269 194h1M278 223h1M261 254h1M266 210h1M264 229h1M274 220h1M255 210h1M255 204h1M264 213h1M265 208h1M255 217h1M261 237h1M254 223h1M264 201h1M273 224h1M241 228h1M275 209h1M284 224h1M252 228h1M260 200h1M240 223h1M256 229h1M269 213h1M259 246h1M284 233h1M261 206h1M260 245h1M270 217h1M251 222h1M255 220h1M273 237h1M266 216h1M267 247h1M269 200h1M282 225h1M303 216h1M263 216h1M269 212h1M248 191h1M263 213h1M258 251h1M273 237h1M259 225h1M262 217h1M273 230h1M268 223h1M248 209h1M269 215h1M256 225h1M254 210h1M274 216h1M280 229h1M274 238h1M240 218h1M250 213h1M263 239h1M264 245h1M259 219h1M266 234h1M264 211h1M261 200h1M279 232h1M269 225h1M258 214h1M274 210h1M256 243h1M282 226h1M270 224h1M280 215h1M265 228h1M281 218h1M267 213h1M257 210h1M265 234h1M257 211h1M260 225h1M272 203h1M268 206h1M272 207h1M253 209h1M264 206h1M267 223h1M265 224h1M274 211h1M265 220h1M242 225h1M256 209h1M260 222h1M268 228h1M257 230h1M269 215h1M264 232h1M269 231h1M266 237h1M289 229h1M247 244h1M258 200h1M238 225h1M277 236h1M260 241h1M264 212h1M265 224h1M265 226h1M240 242h1M258 230h1M256 222h1M263 197h1M269 230h1M252 189h1M257 208h1M266 220h1M282 231h1M262 223h1M233 205h1M254 218h1M268 224h1M275 211h1M268 219h1M265 225h1M261 223h1M264 235h1M263 225h1M293 231h1M270 236h1M253 230h1M273 227h1M275 233h1M278 212h1M269 213h1M278 223h1M250 221h1M253 234h1M261 189h1M260 235h1M268 212h1M272 229h1M281 235h1M269 209h1M268 225h1M265 227h1M251 228h1M265 226h1M263 216h1M267 232h1M261 225h1M256 226h1M265 202h1M277 209h1M265 202h1M246 229h1M249 190h1M262 198h1M262 247h1M260 225h1M271 224h1M263 242h1M264 226h1M266 202h1M268 222h1M272 231h1M282 194h1M258 213h1M255 226h1M264 222h1M247 206h1M264 214h1M258 218h1M261 205h1M283 212h1M272 230h1M275 213h1M254 226h1M267 187h1M236 211h1M260 216h1M269 207h1M293 235h1M279 225h1M242 222h1M259 226h1M263 230h1M255 215h1M265 210h1M260 229h1M285 219h1M273 205h1M260 225h1M271 206h1M271 223h1M279 235h1M270 215h1M267 208h1M256 194h1M250 201h1M263 222h1M250 218h1M269 234h1M263 224h1M260 233h1M248 223h1M239 243h1M274 191h1M259 200h1M245 213h1M255 235h1M259 204h1M264 226h1M273 228h1M248 208h1M262 208h1M272 216h1M264 215h1M265 199h1M287 214h1M256 194h1M263 201h1M268 238h1M271 214h1M278 219h1M264 221h1M259 226h1M251 194h1M277 211h1M261 225h1M259 203h1M262 207h1M270 214h1M262 231h1M248 198h1M272 239h1M265 210h1M278 229h1M275 195h1M263 205h1M252 228h1M272 214h1M262 240h1M271 219h1M270 222h1M251 212h1M267 229h1M251 208h1M258 198h1M276 228h1M279 190h1M256 246h1M249 193h1M267 243h1M271 207h1M270 227h1M267 226h1M273 237h1M279 236h1M263 194h1M270 199h1M289 205h1M244 193h1M269 225h1M271 225h1M256 231h1M257 198h1M274 229h1M254 216h1M275 234h1M253 235h1M236 220h1M269 219h1M266 197h1M263 227h1M254 222h1M263 188h1M258 228h1M248 220h1M268 202h1M262 233h1M272 207h1M275 226h1M266 242h1M272 226h1M275 231h1M278 220h1M245 241h1M273 228h1M265 219h1M266 207h1M273 222h1M254 224h1M261 220h1M270 259h1M253 226h1M272 227h1M281 215h1M261 220h1M250 235h1M251 227h1M277 209h1M263 217h1M283 225h1M245 235h1M276 193h1M235 256h1M265 190h1M276 242h1M239 237h1M272 221h1M257 225h1M256 222h1M262 214h1M270 235h1M274 227h1M283 204h1M265 223h1M278 189h1M260 216h1M267 253h1M267 219h1M269 235h1M263 244h1M251 238h1M272 235h1M281 218h1M269 225h1M258 209h1M256 232h1M240 200h1M265 239h1M263 239h1M264 213h1M247 222h1M283 223h1M253 228h1M249 203h1M277 227h1M275 225h1M263 223h1M261 235h1M250 192h1M255 233h1M259 187h1M296 209h1M262 229h1M269 218h1M247 227h1M254 217h1M273 215h1M245 211h1M271 231h1M250 220h1M268 236h1M269 223h1M261 227h1M273 219h1M261 245h1M264 209h1M272 203h1M253 233h1M265 232h1M273 210h1M270 215h1M267 224h1M264 202h1M268 221h1M270 206h1M267 218h1M260 216h1M262 201h1M259 213h1M270 219h1M280 230h1M268 224h1M249 225h1M278 207h1M279 230h1M268 215h1M265 209h1M264 221h1M265 203h1M275 212h1M269 229h1M262 255h1M266 227h1M262 225h1M251 229h1M261 213h1M273 234h1M260 206h1M243 205h1M270 230h1M251 220h1M276 210h1M258 207h1M269 194h1M263 227h1M264 234h1M271 214h1M254 205h1M270 219h1M266 208h1M277 234h1M273 205h1M293 234h1M253 233h1M263 209h1M256 227h1M268 224h1M262 206h1M267 217h1M262 229h1M283 213h1M275 211h1M274 230h1M265 224h1M256 215h1M275 232h1M289 208h1M259 222h1M265 213h1M260 219h1M278 220h1M256 224h1M236 206h1M258 224h1M240 216h1M253 234h1M273 215h1M270 204h1M267 224h1M276 215h1M241 230h1M253 212h1M261 244h1M264 237h1M265 201h1M269 228h1M258 198h1M295 253h1M269 227h1M275 230h1M249 200h1M273 240h1M276 233h1M264 234h1M281 229h1M278 238h1M257 237h1M256 207h1M282 198h1M263 233h1M269 215h1M255 227h1M270 220h1M254 200h1M264 220h1M273 217h1M274 204h1M246 232h1M260 208h1M263 203h1M261 201h1M266 212h1M264 220h1M269 197h1M266 217h1M252 216h1M270 228h1M286 217h1M266 248h1M258 208h1M260 212h1M264 223h1M256 204h1M264 203h1M256 225h1M264 207h1M249 206h1M249 227h1M272 225h1M268 214h1M266 221h1M265 214h1M253 224h1M269 205h1M262 220h1M270 197h1M250 200h1M251 205h1M274 205h1M287 226h1M272 220h1M274 226h1M273 229h1M271 226h1M276 222h1M259 242h1M259 226h1M287 213h1M262 211h1M255 229h1M262 222h1M246 226h1M257 193h1M257 198h1M281 198h1M268 206h1M256 202h1M277 206h1M258 223h1M261 230h1M257 197h1M269 238h1M270 209h1M277 232h1M261 226h1M264 222h1M271 233h1M265 222h1M238 208h1M269 210h1M268 218h1M265 222h1M278 228h1M265 204h1M268 206h1M278 212h1M258 218h1M254 227h1M268 211h1M259 246h1M277 229h1M268 242h1M260 217h1M263 206h1M255 246h1M266 208h1M262 214h1M260 219h1M249 195h1M262 217h1M252 218h1M259 223h1M262 236h1M279 231h1M265 233h1M272 228h1M273 216h1M273 229h1M269 219h1M260 229h1M259 206h1M282 238h1M257 239h1M243 228h1M272 225h1M263 231h1M270 205h1M257 234h1M273 206h1M249 226h1M256 210h1M259 224h1M244 230h1M261 233h1M253 208h1M270 235h1M264 216h1M279 237h1M268 218h1M278 231h1M261 241h1M276 225h1M270 232h1M260 204h1M277 199h1M249 200h1M270 236h1M258 238h1M282 241h1M251 238h1M289 210h1M248 238h1M270 221h1M264 197h1M256 223h1M270 234h1M275 215h1M264 241h1M250 227h1M256 223h1M284 228h1M260 211h1M250 220h1M241 218h1M266 208h1M256 237h1M278 250h1M277 226h1M263 238h1M272 224h1M284 220h1M267 236h1M270 222h1M276 260h1M261 230h1M269 224h1M283 221h1M283 209h1M266 210h1M269 231h1M271 225h1M262 204h1M274 222h1M277 198h1M262 197h1M276 212h1M254 232h1M264 224h1M264 236h1M268 225h1M265 234h1M277 217h1M274 201h1M256 213h1M257 228h1M250 198h1M267 209h1M265 222h1M258 215h1M274 222h1M266 230h1M257 204h1M261 243h1M271 252h1M275 234h1M260 198h1M242 221h1M253 204h1M271 225h1M251 223h1M279 235h1M257 234h1M244 215h1M260 238h1M252 207h1M261 231h1M250 223h1M261 214h1M251 226h1M266 227h1M267 219h1M255 220h1M273 223h1M270 233h1M268 218h1M254 238h1M263 218h1M266 232h1M274 212h1M264 237h1M258 221h1M256 200h1M251 222h1M268 185h1M262 217h1M248 219h1M256 239h1M254 235h1M252 206h1M280 211h1M260 198h1M266 240h1M262 217h1M265 210h1M251 220h1M261 196h1M239 226h1M251 226h1M274 220h1M258 185h1M281 234h1M257 205h1M270 193h1M272 234h1M252 205h1M284 215h1M266 216h1M243 233h1M282 214h1M255 241h1M248 215h1M250 198h1M258 183h1M252 220h1M257 204h1M291 233h1M259 236h1M271 223h1M272 216h1M258 245h1M265 242h1M243 206h1M255 222h1M264 234h1M270 221h1M270 231h1M268 186h1M259 229h1M260 240h1M259 221h1M256 218h1M276 241h1M274 231h1M266 203h1M271 212h1M268 219h1M274 212h1M273 221h1M282 220h1M263 194h1M274 222h1M241 226h1M270 216h1M278 220h1M263 226h1M253 228h1M255 224h1M276 216h1M258 244h1M265 236h1M271 227h1M280 221h1M248 216h1M258 205h1M260 226h1M270 222h1M263 222h1M260 209h1M265 233h1M257 220h1M272 208h1M269 223h1M276 209h1M260 242h1M287 231h1M279 213h1M276 226h1M272 204h1M267 231h1M277 228h1M269 235h1M283 203h1M245 221h1M282 248h1M273 209h1M271 213h1M274 220h1M283 209h1M281 212h1M272 226h1M251 193h1M263 217h1M259 231h1M268 230h1M254 218h1M263 235h1M279 215h1M265 187h1M287 228h1M271 226h1M263 196h1M255 209h1M262 205h1M267 230h1M267 223h1M290 212h1M258 232h1M261 245h1M258 220h1M283 200h1M276 226h1M267 241h1M259 230h1M260 239h1M252 219h1M259 205h1M276 216h1M271 189h1M254 206h1M269 199h1M268 235h1M266 223h1M261 208h1M264 224h1M281 225h1M257 232h1M254 192h1M262 211h1M271 220h1M251 209h1M259 250h1M251 205h1M278 242h1M261 240h1M264 208h1M264 233h1M280 219h1M251 223h1M260 211h1M269 224h1M252 210h1M280 219h1M284 188h1M253 220h1M254 222h1M265 202h1M284 247h1M246 215h1M250 214h1M260 217h1M277 238h1M261 226h1M272 199h1M265 206h1M277 239h1M268 242h1M262 209h1M279 222h1M268 202h1M272 220h1M263 205h1M256 214h1M266 239h1M246 199h1M254 209h1M255 203h1M257 226h1M260 207h1M271 223h1M254 237h1M257 206h1M268 209h1M254 239h1M260 206h1M266 218h1M243 213h1M270 214h1M269 204h1M274 216h1M256 202h1M274 220h1M260 225h1M263 215h1M268 214h1M274 254h1M246 220h1M260 229h1M243 249h1M273 250h1M277 207h1M263 244h1M277 210h1M267 240h1M279 216h1M269 229h1M262 217h1M275 221h1M264 237h1M277 230h1M260 209h1M253 211h1M268 202h1M255 206h1M267 215h1M281 241h1M265 219h1M276 209h1M275 204h1M261 225h1M266 198h1M256 222h1M248 245h1M257 222h1M295 219h1M268 229h1M263 206h1M248 223h1M262 240h1M267 230h1M253 215h1M269 216h1M272 215h1M262 226h1M252 257h1M251 241h1M281 218h1M269 235h1M269 230h1M261 228h1M259 204h1M262 231h1M268 226h1M260 222h1M256 218h1M266 209h1M281 194h1M272 217h1M276 214h1M274 210h1M256 217h1M265 207h1M277 206h1M262 222h1M263 235h1M255 234h1M277 222h1M286 200h1M258 200h1M231 185h1M268 205h1M238 220h1M250 213h1M259 240h1M238 221h1M301 223h1M268 219h1M273 227h1M271 205h1M264 227h1M264 228h1M276 240h1M267 229h1M260 215h1M272 203h1M277 205h1M263 209h1M255 226h1M246 239h1M246 229h1M261 216h1M268 239h1M266 210h1M265 235h1M253 224h1M278 212h1M263 233h1M258 220h1M261 224h1M252 195h1M276 210h1M254 232h1M258 217h1M252 215h1M268 236h1M273 203h1M261 230h1M255 206h1M261 236h1M252 231h1M272 211h1M251 215h1M260 211h1M265 253h1M275 238h1M264 237h1M257 223h1M277 254h1M270 223h1M264 207h1M271 245h1M272 220h1M262 206h1M279 221h1M277 208h1M273 233h1M263 212h1M293 246h1M279 212h1M280 230h1M284 220h1M262 205h1M248 195h1M260 220h1M281 250h1M258 187h1M268 226h1M260 206h1M257 222h1M266 195h1M263 205h1M253 221h1M255 223h1M237 226h1M266 213h1M255 196h1M252 245h1M268 219h1M257 210h1M251 223h1M274 205h1M271 214h1M268 207h1M273 245h1M258 215h1M275 211h1M250 182h1M258 236h1M256 217h1M237 211h1M262 210h1M258 202h1M253 236h1M251 237h1M249 237h1M263 229h1M262 227h1M290 188h1M257 225h1M280 202h1M265 233h1M259 220h1M267 235h1M269 226h1M257 213h1M289 203h1M260 210h1M265 207h1M272 210h1M258 198h1M259 197h1M261 227h1M246 246h1M273 224h1M260 235h1M269 214h1M266 222h1M255 240h1M249 226h1M254 219h1M262 223h1M282 215h1M271 227h1M267 204h1M264 196h1M277 243h1M266 228h1M264 194h1M261 234h1M264 208h1M232 234h1M283 247h1M293 190h1M265 230h1M258 223h1M277 213h1M271 207h1M237 219h1M270 228h1M274 206h1M267 201h1M265 203h1M266 233h1M276 213h1M280 226h1M280 221h1M252 220h1M254 205h1M241 221h1M279 205h1M262 198h1M269 237h1M264 230h1M272 218h1M273 196h1M262 222h1M271 240h1M262 207h1M259 215h1M254 199h1M267 202h1M264 220h1M263 235h1M268 223h1M281 216h1M249 211h1M275 206h1M255 226h1M291 216h1M276 243h1M258 210h1M261 209h1M264 202h1M261 218h1M287 201h1M265 209h1M264 213h1M255 216h1M256 222h1M275 228h1M265 229h1M262 227h1M294 228h1M286 232h1M260 224h1M253 227h1M277 228h1M274 222h1M259 193h1M269 234h1M274 217h1M271 228h1M271 211h1M251 190h1M259 214h1M255 221h1M249 222h1M281 218h1M244 218h1M257 220h1M260 210h1M267 235h1M262 221h1M247 248h1M254 219h1M248 225h1M253 219h1M257 214h1M260 206h1M262 207h1M260 213h1M252 221h1M270 222h1M246 225h1M272 195h1M274 186h1M267 228h1M277 241h1M268 232h1M280 246h1M267 231h1M250 207h1M279 226h1M251 216h1M245 217h1M274 195h1M263 224h1M262 221h1M256 207h1M264 193h1M263 198h1M256 240h1M260 212h1M273 209h1M257 218h1M271 207h1M263 193h1M250 217h1M257 222h1M272 190h1M267 221h1M260 221h1M255 225h1M266 246h1M243 203h1M268 234h1M250 203h1M258 224h1M254 232h1M280 217h1M276 199h1M253 227h1M273 201h1M259 226h1M263 208h1M264 231h1M258 201h1M278 214h1M242 222h1M274 236h1M274 220h1M268 227h1M282 226h1M247 233h1M266 218h1M262 231h1M264 224h1M264 234h1M252 225h1M270 220h1M280 245h1M261 238h1M257 249h1M278 214h1M273 229h1M260 202h1M262 235h1M275 227h1M269 208h1M258 222h1M262 206h1M250 236h1M263 226h1M253 201h1M274 225h1M274 210h1M260 224h1M261 239h1M278 211h1M276 218h1M274 227h1M262 224h1M286 237h1M269 216h1M291 242h1M269 231h1M266 230h1M277 224h1M265 215h1M259 221h1M270 190h1M274 208h1M276 239h1M282 232h1M257 249h1M261 243h1M256 220h1M253 221h1M272 236h1M248 215h1M256 237h1M269 237h1M266 246h1M268 232h1M273 226h1M257 217h1M281 243h1M262 230h1M247 236h1M264 189h1M255 216h1M261 220h1M256 195h1M282 208h1M253 199h1M261 238h1M278 250h1M258 219h1M280 220h1M269 248h1M254 205h1M271 212h1M262 239h1M269 242h1M257 221h1M269 227h1M243 204h1M271 194h1M246 209h1M259 232h1M271 215h1M254 207h1M278 227h1M271 192h1M244 234h1M288 229h1M256 196h1M251 226h1M268 212h1M272 243h1M270 214h1M252 215h1M257 246h1M261 245h1M259 224h1M271 219h1M267 223h1M263 223h1M279 250h1M264 243h1M265 223h1M270 221h1M276 217h1M265 225h1M258 210h1M270 235h1M262 207h1M258 217h1M261 219h1M287 206h1M253 212h1M250 234h1M249 209h1M254 225h1M263 211h1M260 229h1M271 249h1M258 242h1M288 232h1M247 224h1M276 233h1M268 210h1M274 229h1M267 196h1M273 226h1M272 215h1M283 237h1M270 207h1M258 197h1M268 213h1M261 188h1M268 204h1M240 244h1M284 221h1M241 218h1M274 209h1M275 236h1M271 231h1M253 213h1M252 199h1M273 217h1M274 217h1M254 240h1M277 219h1M270 195h1M258 239h1M267 220h1M280 242h1M254 214h1M268 206h1M271 231h1M266 200h1M263 220h1M269 221h1M261 245h1M280 213h1M251 236h1M257 203h1M268 203h1M256 217h1M265 214h1M277 233h1M286 230h1M269 236h1M264 237h1M259 214h1M236 208h1M269 229h1M266 227h1M292 225h1M268 220h1M272 204h1M270 250h1M276 235h1M257 200h1M265 229h1M258 211h1M250 205h1M282 226h1M276 219h1M256 214h1M270 214h1M275 231h1M251 226h1M272 253h1M254 217h1M264 216h1M283 209h1M264 236h1M283 228h1M279 218h1M277 219h1M279 201h1M275 214h1M262 220h1M269 219h1M251 210h1M269 233h1M264 222h1M256 228h1M261 198h1M286 212h1M264 240h1M258 196h1M271 231h1M257 212h1M274 214h1M263 215h1M288 199h1M274 218h1M280 186h1M268 224h1M248 182h1M285 227h1M258 206h1M273 234h1M257 220h1M279 208h1M272 238h1M243 199h1M287 218h1M275 226h1M275 241h1M282 235h1M253 206h1M285 212h1M263 200h1M252 215h1M272 223h1M260 206h1M244 228h1M251 235h1M271 195h1M266 240h1M250 224h1M271 226h1M265 246h1M267 207h1M255 210h1M256 217h1M249 250h1M269 216h1M281 241h1M250 227h1M253 208h1M270 216h1M270 212h1M273 227h1M245 217h1M239 200h1M269 234h1M251 211h1M260 204h1M280 236h1M266 215h1M265 219h1M258 202h1M263 226h1M264 241h1M245 214h1M272 239h1M263 224h1M267 227h1M266 224h1M275 219h1M265 205h1M256 219h1M272 218h1M283 215h1M268 216h1M280 220h1M252 211h1M239 231h1M291 218h1M273 235h1M262 212h1M279 206h1M271 229h1M255 193h1M273 221h1M272 205h1M259 228h1M267 223h1M259 223h1M267 233h1M269 228h1M263 260h1M251 229h1M238 209h1M276 192h1M277 204h1M272 212h1M257 212h1M272 216h1M273 221h1M255 240h1M258 216h1M280 243h1M268 237h1M271 207h1M258 221h1M278 214h1M259 208h1M262 207h1M269 233h1M266 192h1M248 218h1M279 213h1M273 219h1M277 204h1M251 211h1M265 223h1M287 228h1M253 231h1M243 230h1M264 206h1M260 212h1M271 218h1M276 212h1M283 255h1M270 242h1M264 228h1M270 191h1M277 208h1M260 214h1M274 221h1M263 218h1M259 236h1M253 222h1M263 222h1M258 209h1M273 230h1M256 199h1M260 224h1M254 206h1M236 223h1M256 233h1M270 222h1M267 229h1M267 227h1M277 212h1M250 221h1M260 249h1M263 205h1M265 221h1M282 227h1M276 224h1M254 218h1M257 253h1M282 215h1M238 210h1M262 210h1M268 227h1M273 230h1M259 214h1M273 228h1M243 227h1M280 205h1M263 247h1M262 239h1M257 218h1M256 217h1M267 211h1M266 211h1M276 222h1M276 207h1M264 238h1M257 239h1M263 229h1M268 221h1M271 230h1M258 236h1M258 220h1M273 201h1M267 229h1M275 232h1M253 202h1M266 250h1M275 212h1M269 227h1M264 215h1M252 203h1M271 222h1M265 236h1M276 200h1M263 222h1M257 218h1M258 253h1M262 234h1M253 190h1M278 229h1M262 214h1M272 229h1M255 239h1M280 217h1M231 239h1M275 215h1M251 223h1M277 234h1M262 204h1M244 203h1M252 204h1M278 206h1M238 228h1M269 219h1M271 221h1M276 207h1M266 208h1M263 229h1M268 226h1M274 245h1M243 212h1M276 220h1M275 249h1M275 232h1M268 215h1M263 241h1M283 238h1M264 202h1M266 213h1M272 206h1M249 237h1M261 221h1M264 217h1M257 216h1M255 228h1M260 201h1M260 229h1M265 215h1M249 208h1M263 218h1M278 232h1M268 201h1M281 219h1M240 235h1M265 228h1M262 223h1M252 212h1M270 239h1M248 224h1M269 196h1M262 214h1M250 210h1M268 234h1M256 218h1M272 227h1M248 232h1M286 219h1M289 196h1M249 218h1M282 226h1M270 209h1M261 216h1M275 215h1M257 223h1M283 196h1M253 229h1M261 242h1M249 200h1M277 223h1M267 220h1M257 210h1M271 229h1M272 219h1M243 224h1M266 223h1M252 207h1M285 228h1M266 201h1M266 253h1M272 275h1M242 209h1M250 214h1M276 216h1M253 255h1M270 221h1M276 202h1M266 231h1M284 232h1M283 235h1M274 180h1M280 239h1M269 224h1M268 214h1M253 221h1M277 209h1M281 219h1M261 222h1M279 206h1M275 238h1M263 236h1M267 226h1M247 224h1M259 193h1M280 209h1M265 246h1M264 213h1M289 225h1M275 247h1M275 216h1M260 219h1M283 235h1M258 212h1M266 226h1M265 209h1M284 231h1M262 228h1M255 214h1M252 217h1M256 217h1M237 218h1M267 235h1M253 223h1M256 237h1M270 218h1M235 232h1M281 222h1M256 233h1M263 209h1M279 230h1M277 220h1M277 214h1M258 201h1M266 200h1M258 199h1M264 250h1M254 209h1M258 210h1M266 253h1M267 234h1M254 211h1M272 227h1M265 213h1M259 221h1M292 241h1M253 226h1M270 225h1M239 216h1M275 216h1M257 219h1M268 214h1M262 229h1M263 191h1M255 225h1M269 217h1M265 208h1M272 215h1M279 201h1M262 229h1M262 216h1M256 214h1M262 214h1M261 210h1M249 209h1M269 232h1M261 199h1M267 218h1M257 229h1M274 210h1M261 228h1M255 224h1M280 224h1M273 212h1M243 228h1M291 212h1M264 211h1M258 230h1M271 197h1M267 213h1M270 266h1M257 236h1M249 230h1M284 223h1M279 209h1M254 238h1M269 245h1M269 202h1M265 198h1M267 190h1M266 189h1M263 215h1M272 251h1M283 237h1M263 213h1M278 206h1M267 234h1M258 202h1M246 205h1M255 246h1M285 216h1M257 224h1M253 220h1M262 215h1M263 227h1M271 230h1M246 213h1M248 241h1M237 219h1M260 231h1M275 243h1M242 200h1M246 220h1M278 250h1M271 225h1M269 220h1M298 211h1M275 227h1M272 184h1M241 211h1M248 230h1M279 230h1M269 243h1M264 224h1M257 223h1M263 220h1M257 224h1M255 235h1M264 204h1M256 225h1M250 205h1M265 228h1M262 209h1M265 202h1M273 228h1M283 210h1M243 179h1M284 221h1M274 209h1M272 214h1M294 208h1M276 188h1M258 200h1M278 236h1M285 238h1M272 193h1M264 209h1M254 210h1M275 208h1M250 232h1M267 200h1M253 235h1M260 217h1M264 229h1M259 220h1M266 201h1M276 238h1M265 217h1M263 204h1M284 203h1M250 202h1M271 243h1M259 197h1M257 223h1M260 226h1M256 201h1M250 202h1M261 240h1M269 201h1M269 231h1M261 232h1M260 207h1M272 255h1M243 204h1M259 223h1M286 236h1M269 222h1M255 211h1M274 224h1M259 216h1M259 228h1M241 218h1M249 207h1M265 218h1M281 237h1M253 221h1M270 212h1M245 223h1M263 215h1M263 249h1M256 210h1M275 211h1M271 213h1M256 211h1M281 222h1M255 219h1M260 234h1M245 191h1M261 186h1M264 224h1M276 244h1M279 236h1M284 220h1M257 221h1M268 213h1M277 222h1M297 200h1M261 220h1M253 223h1M258 208h1M246 235h1M267 210h1M261 219h1M263 220h1M257 209h1M276 214h1M274 242h1M254 231h1M263 206h1M261 219h1M263 226h1M252 220h1M267 234h1M291 225h1M271 212h1M282 220h1M255 219h1M258 194h1M267 205h1M270 214h1M273 182h1M271 223h1M257 201h1M266 223h1M294 204h1M268 218h1M264 205h1M258 229h1M262 206h1M266 224h1M275 226h1M262 202h1M287 215h1M275 210h1M248 217h1M260 214h1M253 215h1M252 220h1M250 219h1M262 228h1M283 221h1M261 247h1M267 208h1M263 230h1M273 222h1M289 202h1M244 190h1M278 227h1M273 219h1M290 227h1M245 198h1M283 235h1M245 204h1M263 224h1M258 210h1M268 228h1M277 232h1M265 214h1M272 246h1M265 240h1M272 246h1M260 217h1M256 238h1M265 228h1M263 222h1M270 223h1M258 245h1M273 212h1M263 193h1M272 219h1M257 191h1M264 216h1M274 200h1M262 218h1M266 221h1M250 213h1M281 238h1M259 224h1M257 214h1M266 230h1M266 214h1M265 228h1M256 201h1M259 224h1M290 226h1M261 217h1M251 199h1M272 254h1M270 234h1M238 233h1M247 222h1M263 209h1M253 224h1M261 229h1M281 259h1M270 217h1M275 221h1M265 204h1M253 222h1M278 225h1M264 253h1M258 211h1M272 205h1M253 202h1M264 210h1M277 204h1M266 197h1M268 261h1M261 188h1M262 232h1M293 188h1M263 213h1M261 238h1M274 222h1M242 206h1M256 192h1M271 249h1M266 231h1M260 211h1M282 223h1M279 230h1M275 232h1M274 212h1M271 250h1M275 213h1M264 210h1M272 222h1M249 205h1M268 227h1M262 231h1M254 239h1M253 238h1M251 193h1M240 198h1M255 233h1M267 230h1M252 242h1M274 212h1M259 230h1M253 213h1M281 221h1M255 234h1M237 227h1M272 245h1M262 235h1M273 224h1M261 231h1M261 215h1M260 237h1M250 216h1M268 231h1M267 226h1M293 188h1M241 240h1M245 202h1M267 221h1M271 207h1M279 237h1M272 221h1M264 197h1M249 218h1M257 214h1M255 236h1M266 246h1M278 211h1M269 231h1M254 212h1M263 222h1M256 229h1M289 250h1M269 184h1M265 242h1M263 210h1M250 207h1M253 210h1M264 232h1M259 236h1M258 225h1M296 238h1M250 243h1M270 216h1M268 230h1M272 221h1M252 205h1M271 237h1M254 202h1M257 198h1M269 225h1M263 205h1M260 198h1M267 198h1M243 233h1M258 206h1M269 209h1M256 236h1M272 220h1M263 227h1M257 207h1M254 222h1M255 234h1M271 235h1M272 235h1M253 220h1M257 244h1M266 238h1M275 218h1M250 230h1M245 220h1M271 214h1M252 219h1M249 225h1M268 232h1M265 236h1M261 231h1M279 215h1M263 226h1M255 205h1M261 218h1M249 204h1M250 211h1M258 231h1M263 245h1M264 202h1M255 219h1M268 220h1M256 215h1M274 185h1M249 208h1M274 263h1M243 228h1M274 223h1M262 212h1M274 222h1M257 193h1M270 239h1M277 203h1M256 207h1M266 232h1M256 215h1M262 210h1M259 213h1M256 192h1M273 212h1M270 217h1M257 227h1M262 223h1M255 235h1M265 205h1M279 211h1M263 193h1M253 239h1M256 221h1M256 200h1M281 229h1M267 220h1M275 216h1M274 215h1M249 225h1M262 230h1M259 209h1M273 223h1M279 207h1M273 234h1M259 215h1M278 186h1M254 198h1M258 226h1M255 193h1M264 212h1M288 222h1M262 211h1M267 227h1M267 203h1M271 220h1M259 229h1M276 201h1M263 204h1M263 235h1M278 236h1M254 209h1M269 215h1M261 215h1M264 242h1M242 217h1M266 234h1M258 229h1M260 209h1M249 234h1M279 231h1M253 220h1M258 223h1M277 238h1M261 230h1M269 240h1M260 201h1M276 224h1M259 225h1M264 206h1M272 207h1M266 250h1M274 226h1M261 226h1M258 211h1M287 211h1M272 223h1M256 200h1M266 234h1M290 219h1M253 237h1M280 218h1M242 235h1M250 209h1M268 218h1M268 224h1M260 258h1M262 207h1M255 211h1M254 221h1M281 211h1M279 229h1M275 216h1M267 224h1M254 217h1M249 213h1M251 227h1M253 209h1M257 219h1M262 242h1M269 218h1M276 226h1M286 211h1M267 240h1M282 233h1M288 236h1M259 230h1M262 226h1M260 228h1M277 225h1M274 200h1M259 218h1M256 223h1M242 226h1M269 238h1M253 223h1M287 236h1M271 215h1M273 209h1M270 211h1M295 237h1M262 224h1M266 233h1M279 189h1M264 228h1M288 251h1M259 221h1M260 236h1M255 207h1M266 205h1M274 203h1M261 216h1M261 231h1M280 201h1M260 199h1M266 223h1M275 229h1M256 263h1M277 233h1M262 229h1M272 196h1M252 222h1M276 234h1M264 190h1M273 197h1M273 252h1M271 227h1M248 213h1M255 204h1M262 206h1M273 224h1M249 209h1M253 230h1M274 205h1M253 222h1M273 230h1M277 219h1M249 224h1M266 236h1M265 238h1M245 218h1M265 207h1M279 220h1M260 226h1M275 223h1M258 213h1M273 233h1M270 228h1M247 220h1M256 239h1M262 228h1M269 201h1M254 200h1M260 220h1M273 236h1M263 217h1M262 188h1M246 201h1M246 221h1M278 224h1M264 195h1M274 214h1M282 229h1M291 219h1M266 218h1M254 190h1M260 239h1M255 212h1M269 218h1M273 242h1M266 204h1M269 214h1M265 225h1M269 210h1M255 209h1M256 217h1M279 239h1M255 224h1M261 219h1M264 207h1M261 230h1M282 228h1M255 197h1M243 224h1M253 230h1M268 209h1M254 222h1M291 235h1M275 200h1M288 224h1M281 244h1M263 222h1M265 217h1M267 214h1M266 217h1M276 237h1M251 205h1M274 234h1M276 200h1M275 203h1M270 205h1M250 223h1M267 212h1M261 247h1M265 228h1M274 182h1M267 224h1M250 218h1M256 204h1M259 221h1M257 233h1M277 220h1M255 203h1M252 205h1M271 227h1M268 235h1M257 249h1M268 224h1M264 215h1M273 224h1M254 231h1M249 207h1M272 216h1M254 224h1M270 238h1M269 213h1M267 226h1M227 253h1M261 215h1M272 219h1M250 226h1M286 217h1M249 250h1M248 205h1M259 239h1M273 205h1M280 233h1M283 245h1M286 213h1M276 233h1M252 201h1M268 215h1M265 222h1M277 220h1M246 203h1M268 233h1M259 209h1M264 206h1M252 211h1M243 246h1M269 210h1M250 213h1M265 229h1M252 229h1M272 205h1M252 220h1M274 224h1M266 200h1M284 237h1M280 202h1M265 208h1M264 234h1M261 223h1M270 242h1M267 216h1M268 230h1M270 206h1M260 239h1M263 202h1M248 205h1M250 213h1M245 232h1M277 214h1M247 200h1M272 230h1M257 237h1M267 202h1M247 210h1M254 236h1M266 204h1M265 218h1M251 204h1M263 214h1M249 217h1M258 186h1M270 227h1M263 217h1M261 222h1M254 205h1M269 226h1M259 231h1M250 221h1M263 223h1M285 232h1M274 253h1M258 224h1M261 218h1M265 240h1M261 225h1M260 211h1M271 219h1M269 231h1M272 193h1M267 211h1M253 230h1M239 213h1M267 204h1M288 260h1M285 220h1M265 196h1M282 213h1M252 211h1M262 217h1M261 216h1M268 216h1M261 244h1M269 229h1M239 221h1M269 220h1M271 222h1M269 201h1M271 206h1M246 231h1M250 239h1M260 217h1M277 224h1M249 255h1M276 226h1M264 208h1M260 207h1M265 226h1M251 208h1M255 215h1M270 226h1M272 211h1M259 215h1M265 226h1M273 220h1M259 224h1M237 233h1M264 221h1M252 230h1M263 224h1M259 206h1M288 199h1M250 204h1M264 215h1M249 205h1M268 202h1M264 194h1M268 211h1M287 219h1M272 228h1M276 231h1M272 233h1M256 235h1M262 227h1M288 222h1M253 234h1M268 223h1M249 215h1M272 216h1M286 195h1M254 233h1M278 233h1M270 195h1M257 212h1M272 233h1M262 217h1M254 245h1M245 200h1M274 233h1M265 241h1M280 217h1M282 215h1M270 247h1M257 201h1M269 217h1M267 192h1M279 222h1M253 219h1M262 226h1M243 214h1M265 218h1M256 213h1M280 205h1M258 227h1M276 224h1M274 243h1M251 218h1M269 225h1M267 229h1M272 230h1M252 215h1M253 228h1M275 226h1M263 218h1M252 192h1M293 216h1M261 232h1M268 223h1M258 206h1M282 228h1M273 204h1M256 228h1M273 224h1M286 220h1M275 246h1M271 222h1M260 227h1M272 198h1M267 201h1M249 194h1M270 201h1M266 221h1M252 227h1M264 213h1M251 225h1M251 202h1M237 226h1M273 247h1M248 207h1M282 206h1M272 210h1M268 235h1M251 221h1M255 188h1M270 223h1M265 234h1M263 223h1M267 230h1M256 216h1M265 219h1M262 207h1M267 211h1M271 217h1M278 247h1M257 197h1M242 231h1M281 207h1M273 189h1M276 244h1M274 239h1M263 235h1M264 228h1M242 214h1M260 227h1M268 210h1M267 223h1M256 185h1M259 203h1M260 197h1M280 220h1M291 272h1M260 207h1M283 203h1M256 229h1M279 251h1M260 200h1M268 244h1M285 212h1M260 222h1M262 217h1M254 226h1M281 212h1M274 234h1M260 211h1M261 218h1M263 201h1M285 206h1M263 225h1M256 201h1M264 208h1M248 234h1M257 213h1M278 236h1M257 252h1M271 208h1M265 224h1M247 214h1M274 229h1M256 232h1M254 211h1M262 211h1M263 204h1M251 209h1M289 199h1M282 224h1M249 215h1M266 236h1M255 227h1M273 215h1M261 222h1M260 230h1M259 226h1M262 233h1M252 223h1M254 204h1M253 222h1M249 217h1M245 252h1M272 195h1M269 229h1M248 200h1M245 227h1M264 220h1M288 217h1M250 238h1M269 241h1M258 209h1M268 215h1M271 238h1M264 217h1M261 211h1M252 217h1M263 206h1M266 208h1M274 217h1M269 232h1M280 213h1M262 227h1M258 199h1M271 231h1M271 203h1M279 217h1M271 236h1M262 228h1M273 201h1M273 233h1M276 217h1M260 219h1M275 220h1M256 217h1M275 216h1M253 198h1M270 205h1M273 202h1M257 234h1M251 213h1M259 207h1M275 195h1M274 243h1M270 233h1M265 217h1M272 219h1M273 206h1M240 211h1M249 249h1M264 204h1M245 223h1M272 224h1M254 238h1M279 212h1M277 245h1M284 218h1M259 244h1M275 234h1M261 203h1M258 237h1M255 209h1M263 230h1M289 213h1M269 228h1M245 211h1M237 197h1M258 233h1M274 243h1M265 231h1M270 217h1M254 245h1M264 231h1M283 201h1M254 237h1M250 203h1M261 214h1M262 212h1M267 215h1M269 237h1M269 209h1M260 225h1M261 209h1M264 223h1M264 229h1M270 227h1M271 206h1M277 212h1M250 221h1M262 211h1M264 241h1M257 206h1M245 230h1M268 226h1M254 198h1M251 252h1M262 231h1M256 205h1M269 222h1M272 230h1M283 225h1M256 205h1M264 229h1M276 215h1M261 236h1M242 211h1M256 218h1M284 236h1M271 200h1M269 250h1M247 221h1M277 225h1M269 195h1M268 206h1M265 249h1M286 204h1M240 214h1M288 224h1M267 230h1M250 229h1M264 230h1M272 205h1M247 229h1M251 193h1M260 225h1M279 231h1M263 224h1M250 216h1M272 215h1M250 246h1M262 213h1M260 227h1M260 199h1M261 221h1M256 219h1M257 219h1M285 235h1M250 201h1M262 218h1M273 220h1M274 223h1M274 229h1M260 204h1M233 223h1M238 225h1M260 206h1M269 213h1M272 251h1M257 232h1M252 192h1M238 207h1M260 201h1M258 213h1M270 214h1M280 210h1M261 227h1M268 200h1M268 213h1M268 229h1M246 218h1M261 225h1M253 221h1M279 181h1M256 219h1M265 222h1M271 222h1M265 235h1M275 195h1M274 204h1M291 218h1M263 234h1M298 217h1M260 229h1M266 215h1M272 219h1M268 201h1M243 225h1M265 243h1M267 245h1M253 205h1M268 205h1M253 198h1M277 210h1M276 227h1M278 208h1M274 242h1M264 213h1M273 236h1M265 223h1M279 195h1M273 218h1M269 219h1M265 207h1M234 216h1M263 207h1M264 206h1M261 219h1M268 220h1M273 221h1M259 197h1M271 229h1M239 216h1M266 229h1M261 228h1M288 211h1M281 225h1M261 226h1M269 211h1M273 222h1M267 213h1M279 221h1M273 197h1M266 199h1M278 245h1M274 228h1M282 212h1M261 259h1M262 216h1M255 216h1M268 217h1M257 218h1M260 214h1M274 245h1M254 213h1M268 222h1M257 213h1M270 213h1M284 200h1M277 223h1M250 226h1M267 220h1M273 210h1M253 236h1M262 227h1M268 222h1M271 220h1M254 286h1M265 287h1M263 294h1M255 293h1M245 298h1M244 285h1M263 287h1M278 272h1M268 287h1M255 288h1M268 283h1M255 296h1M265 289h1M278 297h1M260 290h1M257 278h1M261 288h1M263 288h1M265 295h1M266 284h1M259 291h1M276 283h1M265 288h1M268 295h1M264 299h1M239 282h1M257 300h1M277 286h1M258 304h1M237 299h1M249 303h1M284 285h1M247 291h1M267 297h1M256 305h1M259 297h1M237 304h1M251 292h1M267 290h1M241 291h1M238 293h1M253 299h1M287 282h1M262 286h1M290 282h1M262 291h1M256 305h1M240 296h1M258 295h1M239 287h1M248 283h1M270 290h1M286 282h1M242 293h1M262 287h1M280 286h1M249 288h1M237 285h1M242 297h1M243 305h1M244 296h1M262 307h1M280 285h1M250 295h1M265 291h1M244 288h1M266 287h1M284 279h1M264 281h1M256 299h1M264 284h1M269 278h1M256 288h1M255 291h1M261 293h1M263 296h1M260 297h1M249 295h1M272 305h1M274 304h1M242 299h1M261 288h1M270 285h1M267 292h1M261 285h1M275 278h1M269 282h1M257 281h1M281 275h1M291 289h1M271 288h1M241 285h1M259 288h1M263 286h1M255 287h1M264 286h1M269 293h1M253 295h1M291 282h1M246 284h1M249 289h1M249 294h1M282 288h1M241 291h1M236 300h1M262 281h1M258 280h1M272 276h1M247 293h1M259 285h1M262 292h1M261 290h1M271 286h1M270 287h1M244 295h1M258 300h1M248 299h1M275 295h1M279 288h1M258 293h1M229 298h1M252 293h1M242 302h1M263 290h1M252 292h1M233 301h1M245 288h1M241 301h1M244 289h1M273 285h1M252 297h1M234 306h1M254 293h1M278 282h1M270 281h1M264 288h1M260 290h1M267 288h1M267 295h1M242 285h1M229 297h1M258 293h1M255 296h1M230 291h1M266 282h1M274 292h1M251 283h1M267 291h1M241 292h1M286 281h1M256 285h1M257 285h1M266 298h1M249 291h1M266 295h1M246 284h1M260 291h1M265 294h1M248 297h1M263 300h1M249 289h1M242 297h1M243 300h1M256 293h1M260 291h1M265 282h1M248 290h1M240 293h1M257 295h1M269 293h1M252 284h1M267 295h1M272 292h1M272 288h1M242 291h1M256 299h1M248 295h1M240 298h1M246 302h1M271 284h1M263 276h1M268 281h1M270 286h1M263 292h1M268 289h1M258 295h1M260 294h1M243 291h1M261 278h1M248 297h1M243 299h1M232 304h1M247 291h1M271 283h1M249 293h1M247 299h1M272 279h1M265 290h1M254 298h1M256 305h1M263 288h1M263 294h1M258 294h1M285 291h1M243 300h1M282 276h1M257 284h1M249 294h1M238 310h1M291 290h1M263 301h1M235 307h1M244 300h1M265 297h1M269 297h1M254 291h1M280 295h1M252 291h1M268 291h1M266 288h1M275 279h1M273 291h1M258 292h1M268 284h1M265 291h1M245 304h1M261 285h1M248 298h1M249 297h1M251 292h1M258 289h1M273 288h1M243 294h1M260 295h1M267 292h1M271 293h1M257 290h1M259 286h1M273 288h1M255 293h1M262 286h1M256 292h1M255 289h1M258 292h1M249 302h1M255 293h1M278 287h1M261 281h1M271 302h1M267 281h1M244 298h1M270 288h1M278 286h1M249 295h1M252 282h1M250 293h1M239 299h1M271 283h1M242 291h1M259 284h1M262 291h1M254 302h1M233 287h1M268 288h1M268 281h1M268 280h1M232 295h1M263 288h1M277 284h1M259 292h1M245 303h1M226 309h1M277 289h1M240 295h1M248 291h1M255 296h1M244 299h1M279 297h1M253 291h1M256 295h1M250 288h1M247 297h1M275 298h1M265 293h1M233 288h1M274 291h1M253 283h1M259 283h1M275 284h1M255 302h1M267 295h1M260 293h1M239 286h1M255 296h1M249 285h1M241 290h1M272 290h1M269 287h1M266 287h1M262 294h1M233 297h1M258 280h1M235 287h1M264 286h1M259 292h1M254 296h1M248 292h1M253 291h1M258 297h1M264 282h1M277 283h1M272 286h1M259 295h1M278 284h1M235 293h1M259 289h1M261 293h1M251 294h1M254 286h1M258 282h1M246 307h1M254 293h1M253 294h1M256 302h1M286 287h1M270 284h1M248 285h1M250 293h1M271 281h1M238 312h1M257 289h1M272 300h1M256 286h1M260 298h1M252 300h1M260 294h1M278 290h1M250 293h1M250 296h1M246 303h1M243 303h1M237 294h1M274 287h1M266 289h1M249 284h1M279 289h1M243 299h1M242 286h1M272 291h1M275 284h1M245 296h1M255 294h1M297 292h1M268 299h1M259 300h1M251 303h1M283 285h1M259 284h1M246 287h1M247 305h1M260 298h1M267 298h1M277 292h1M234 300h1M252 278h1M253 291h1M256 285h1M264 292h1M240 301h1M269 287h1M280 284h1M248 298h1M262 289h1M261 291h1M267 283h1M265 278h1M238 289h1M244 291h1M260 285h1M246 296h1M235 291h1M255 291h1M273 291h1M251 292h1M261 292h1M255 297h1M252 284h1M266 293h1M238 296h1M246 297h1M263 291h1M251 281h1M256 284h1M259 288h1M259 289h1M245 290h1M240 301h1M260 283h1M254 291h1M259 292h1M248 296h1M261 295h1M263 292h1M227 297h1M247 284h1M273 290h1M284 283h1M269 291h1M257 296h1M263 294h1M266 294h1M284 282h1M262 278h1M258 300h1M256 298h1M278 290h1M251 296h1M245 293h1M268 307h1M252 290h1M273 298h1M266 290h1M246 292h1M267 298h1M252 301h1M244 289h1M253 294h1M261 290h1M266 295h1M273 285h1M255 294h1M259 300h1M291 283h1M287 278h1M257 294h1M256 291h1M233 296h1M256 296h1M259 299h1M249 290h1M263 283h1M255 293h1M246 296h1M272 300h1M263 286h1M265 300h1M228 297h1M275 284h1M249 300h1M236 289h1M254 299h1M242 303h1M254 298h1M284 288h1M276 302h1M260 291h1M251 298h1M285 277h1M267 294h1M258 300h1M260 296h1M233 297h1M276 285h1M257 287h1M244 298h1M258 295h1M276 288h1M244 292h1M245 285h1M256 301h1M260 286h1M261 288h1M258 297h1M246 291h1M232 299h1M270 297h1M262 291h1M266 287h1M261 274h1M241 286h1M279 285h1M269 280h1M265 286h1M253 282h1M260 288h1M238 306h1M261 281h1M231 300h1M252 295h1M271 295h1M291 287h1M264 293h1M257 290h1M251 287h1M242 286h1M244 303h1M230 297h1M265 297h1M275 286h1M248 293h1M255 296h1M243 299h1M259 292h1M244 290h1M252 294h1M266 293h1M262 288h1M262 292h1M274 291h1M233 293h1M263 286h1M235 300h1M241 297h1M261 291h1M252 296h1M248 295h1M249 291h1M272 299h1M269 283h1M248 299h1M267 284h1M241 314h1M255 294h1M273 288h1M254 287h1M265 290h1M297 281h1M241 313h1M268 293h1M237 297h1M253 291h1M248 289h1M262 284h1M290 280h1M246 289h1M248 297h1M259 283h1M256 286h1M235 298h1M248 295h1M239 296h1M253 289h1M267 295h1M265 287h1M264 286h1M253 288h1M295 284h1M267 284h1M261 289h1M242 290h1M258 292h1M243 299h1M244 298h1M266 293h1M246 287h1M249 303h1M260 291h1M257 292h1M226 292h1M258 289h1M233 294h1M260 279h1M265 298h1M251 292h1M260 288h1M244 295h1M256 295h1M254 292h1M266 289h1M265 297h1M230 295h1M261 304h1M256 286h1M245 279h1M280 283h1M254 292h1M254 297h1M263 286h1M255 281h1M239 299h1M267 282h1M232 296h1M252 285h1M273 278h1M238 309h1M238 298h1M223 302h1M282 291h1M277 301h1M258 291h1M257 294h1M246 286h1M271 293h1M249 294h1M223 307h1M259 294h1M251 288h1M255 291h1M254 283h1M227 297h1M282 279h1M287 285h1M278 291h1M296 276h1M255 307h1M275 284h1M247 289h1M250 298h1M263 281h1M245 302h1M257 287h1M270 300h1M263 293h1M259 287h1M248 280h1M242 293h1M264 305h1M260 285h1M231 294h1M246 296h1M233 295h1M257 288h1M231 298h1M240 280h1M252 286h1M262 297h1M254 286h1M256 292h1M260 289h1M247 293h1M254 291h1M269 295h1M253 291h1M243 286h1M253 285h1M271 293h1M245 297h1M262 291h1M242 292h1M250 292h1M258 294h1M260 286h1M258 303h1M268 294h1M279 279h1M269 291h1M254 301h1M269 283h1M259 288h1M265 297h1M244 289h1M266 307h1M264 282h1M261 281h1M247 291h1M245 286h1M257 293h1M246 293h1M274 276h1M289 289h1M233 306h1M274 292h1M261 290h1M290 291h1M245 301h1M252 288h1M268 291h1M265 288h1M260 305h1M239 294h1M256 296h1M234 292h1M263 298h1M239 294h1M250 303h1M269 300h1M263 285h1M257 299h1M248 285h1M242 287h1M243 294h1M266 290h1M234 293h1M272 284h1M247 291h1M262 285h1M254 286h1M269 294h1M258 292h1M243 290h1M242 307h1M275 275h1M249 306h1M248 297h1M256 305h1M259 298h1M258 289h1M274 283h1M244 292h1M267 305h1M259 299h1M255 296h1M236 295h1M263 293h1M250 292h1M247 290h1M278 294h1M254 307h1M266 282h1M268 287h1M256 285h1M249 298h1M262 287h1M250 280h1M248 281h1M239 289h1M252 305h1M245 304h1M244 285h1M272 285h1M256 296h1M241 286h1M259 297h1M251 285h1M275 291h1M275 292h1M272 289h1M249 292h1M252 295h1M287 272h1M283 283h1M235 288h1M267 289h1M276 291h1M242 300h1M249 299h1M254 292h1M262 288h1M264 301h1M268 295h1M275 287h1M251 294h1M256 278h1M255 287h1M236 286h1M259 303h1M281 285h1M261 301h1M263 283h1M283 290h1M263 284h1M257 299h1M282 277h1M280 285h1M251 292h1M251 295h1M234 287h1M275 272h1M264 291h1M255 287h1M265 292h1M246 297h1M271 281h1M270 287h1M270 274h1M274 285h1M276 292h1M237 290h1M267 283h1M240 292h1M248 294h1M284 288h1M261 290h1M239 291h1M247 283h1M246 294h1M226 293h1M262 295h1M269 291h1M262 289h1M260 296h1M252 289h1M253 289h1M263 302h1M283 276h1M265 294h1M262 294h1M263 284h1M247 305h1M229 305h1M257 298h1M238 293h1M272 280h1M265 295h1M258 276h1M243 302h1M261 306h1M236 307h1M230 294h1M274 307h1M252 293h1M246 298h1M274 279h1M250 301h1M269 291h1M256 286h1M256 292h1M248 304h1M251 291h1M248 294h1M261 290h1M256 297h1M276 283h1M269 277h1M268 294h1M274 295h1M232 300h1M239 282h1M256 288h1M260 295h1M257 300h1M242 290h1M257 301h1M267 280h1M273 287h1M278 293h1M279 290h1M248 283h1M246 292h1M240 295h1M248 302h1M259 291h1M257 283h1M248 299h1M251 297h1M241 304h1M229 291h1M255 287h1M237 291h1M269 295h1M261 289h1M233 297h1M233 291h1M249 291h1M280 283h1M273 273h1M233 290h1M268 289h1M237 280h1M258 287h1M248 295h1M250 300h1M236 299h1M239 287h1M249 292h1M259 293h1M269 292h1M270 296h1M265 284h1M251 277h1M276 283h1M255 305h1M251 282h1M256 296h1M254 296h1M265 288h1M233 296h1M253 292h1M254 292h1M254 285h1M249 279h1M244 295h1M263 302h1M265 277h1M261 286h1M259 298h1M261 285h1M257 287h1M245 295h1M259 285h1M263 287h1M219 296h1M264 295h1M246 298h1M267 282h1M248 289h1M266 295h1M259 284h1M253 290h1M272 278h1M257 293h1M263 293h1M283 295h1M269 286h1M277 282h1M251 299h1M278 292h1M260 298h1M274 297h1M239 301h1M269 298h1M266 295h1M244 309h1M246 298h1M249 305h1M275 299h1M267 289h1M253 290h1M251 290h1M263 289h1M249 290h1M259 291h1M268 279h1M271 292h1M264 292h1M291 282h1M247 295h1M260 302h1M248 293h1M242 294h1M260 280h1M275 284h1M266 289h1M263 295h1M240 294h1M246 297h1M265 281h1M257 292h1M266 297h1M263 290h1M254 302h1M265 303h1M258 286h1M255 293h1M262 300h1M252 297h1M248 291h1M280 289h1M271 289h1M250 295h1M260 293h1M247 296h1M269 283h1M251 298h1M253 299h1M275 277h1M285 292h1M271 304h1M256 294h1M248 296h1M270 285h1M246 297h1M264 284h1M281 286h1M262 293h1M257 295h1M263 287h1M257 277h1M245 295h1M217 288h1M250 299h1M246 281h1M259 287h1M275 298h1M272 295h1M266 303h1M278 303h1M247 295h1M270 289h1M254 290h1M273 295h1M258 300h1M271 291h1M257 302h1M268 292h1M264 283h1M249 296h1M251 292h1M257 293h1M260 282h1M267 290h1M256 286h1M244 303h1M266 297h1M263 291h1M263 306h1M277 285h1M274 285h1M263 291h1M259 298h1M254 294h1M251 281h1M238 297h1M271 292h1M260 285h1M253 302h1M262 284h1M251 293h1M260 286h1M261 295h1M236 302h1M252 295h1M249 294h1M225 293h1M263 305h1M259 290h1M272 294h1M247 293h1M270 295h1M274 285h1M250 298h1M263 293h1M236 298h1M285 286h1M259 296h1M266 286h1M254 293h1M254 298h1M279 300h1M262 286h1M259 291h1M266 287h1M272 291h1M255 292h1M253 289h1M268 279h1M253 287h1M267 289h1M264 301h1M271 291h1M245 292h1M242 296h1M253 295h1M284 279h1M248 290h1M269 294h1M272 290h1M287 294h1M231 293h1M249 307h1M256 303h1M247 288h1M238 291h1M266 288h1M252 291h1M259 293h1M277 279h1M269 292h1M252 302h1M268 289h1M264 293h1M255 294h1M239 288h1M285 292h1M271 284h1M254 298h1M257 299h1M258 284h1M252 296h1M267 280h1M257 283h1M229 302h1M249 293h1M256 297h1M238 294h1M257 301h1M277 272h1M258 291h1M234 293h1M282 292h1M221 294h1M266 278h1M246 284h1M272 298h1M270 285h1M271 298h1M245 294h1M255 291h1M246 286h1M267 292h1M276 284h1M271 287h1M251 297h1M281 285h1M268 294h1M249 297h1M271 284h1M230 299h1M274 276h1M258 303h1M234 306h1M248 296h1M246 293h1M252 289h1M262 287h1M236 289h1M257 298h1M248 285h1M258 293h1M281 284h1M264 284h1M255 293h1M242 286h1M279 287h1M243 294h1M244 299h1M266 299h1M252 291h1M255 292h1M262 292h1M242 296h1M270 291h1M238 294h1M284 289h1M257 289h1M254 298h1M256 287h1M243 290h1M266 282h1M252 307h1M265 286h1M236 292h1M245 300h1M274 297h1M233 305h1M255 296h1M251 298h1M247 302h1M262 281h1M265 287h1M236 309h1M280 281h1M255 294h1M251 283h1M281 289h1M256 299h1M263 291h1M275 288h1M248 297h1M232 291h1M262 297h1M261 300h1M262 296h1M251 296h1M253 302h1M273 294h1M259 292h1M239 293h1M250 296h1M283 287h1M263 293h1M249 297h1M265 300h1M256 294h1M248 293h1M271 296h1M263 313h1M248 293h1M246 302h1M259 297h1M255 276h1M252 290h1M257 296h1M277 294h1M270 283h1M247 305h1M237 294h1M243 301h1M275 295h1M271 290h1M262 298h1M259 277h1M267 280h1M266 279h1M261 297h1M229 299h1M278 272h1M212 298h1M249 293h1M233 307h1M245 298h1M261 296h1M259 278h1M262 293h1M255 293h1M259 292h1M256 283h1M271 288h1M257 288h1M275 290h1M267 293h1M257 286h1M237 280h1M255 287h1M262 293h1M247 292h1M273 282h1M241 300h1M271 286h1M233 291h1M267 284h1M275 304h1M228 301h1M306 268h1M239 295h1M254 300h1M276 283h1M266 292h1M268 287h1M248 291h1M278 280h1M249 303h1M254 290h1M254 301h1M256 284h1M249 290h1M260 300h1M255 293h1M261 276h1M276 286h1M244 300h1M237 298h1M252 294h1M265 286h1M252 288h1M260 293h1M260 286h1M250 296h1M246 292h1M271 296h1M248 302h1M244 297h1M275 301h1M254 297h1M264 284h1M260 297h1M252 301h1M273 285h1M266 288h1M262 282h1M257 291h1M261 290h1M256 290h1M265 290h1M253 296h1M247 295h1M251 296h1M269 281h1M268 285h1M254 294h1M242 289h1M233 291h1M245 286h1M252 295h1M232 291h1M247 313h1M254 283h1M242 304h1M265 290h1M267 291h1M245 292h1M257 280h1M279 287h1M251 289h1M257 289h1M250 301h1M273 293h1M247 302h1M271 295h1M268 294h1M265 296h1M259 287h1M248 303h1M255 297h1M250 291h1M280 287h1M252 297h1M273 276h1M245 299h1M236 289h1M262 294h1M270 282h1M254 287h1M270 300h1M263 279h1M277 296h1M242 302h1M250 284h1M248 293h1M258 289h1M259 286h1M243 295h1M260 281h1M269 303h1M258 286h1M264 289h1M229 297h1M265 302h1M273 285h1M264 281h1M264 281h1M244 307h1M285 293h1M269 285h1M254 298h1M259 296h1M240 294h1M259 283h1M239 293h1M235 302h1M277 287h1M263 297h1M231 307h1M251 298h1M263 299h1M273 283h1M267 299h1M290 283h1M249 290h1M261 300h1M239 295h1M257 288h1M241 299h1M291 283h1M246 288h1M238 289h1M243 286h1M241 298h1M246 288h1M246 301h1M282 284h1M255 296h1M252 288h1M260 291h1M263 287h1M256 282h1M259 298h1M266 290h1M245 293h1M253 291h1M256 287h1M255 288h1M233 298h1M240 306h1M251 288h1M260 297h1M258 287h1M250 288h1M236 303h1M252 289h1M275 284h1M237 298h1M261 276h1M254 294h1M267 296h1M254 296h1M260 301h1M256 288h1M241 296h1M259 300h1M260 280h1M249 288h1M244 307h1M230 291h1M270 284h1M265 291h1M260 298h1M253 291h1M264 291h1M299 282h1M273 287h1M250 293h1M269 299h1M256 288h1M275 294h1M233 306h1M259 287h1M255 292h1M257 298h1M250 279h1M267 283h1M265 295h1M246 302h1M256 290h1M247 300h1M239 301h1M267 288h1M257 289h1M246 303h1M244 290h1M243 288h1M254 284h1M249 297h1M276 277h1M255 299h1M252 281h1M262 282h1M254 293h1M270 298h1M261 282h1M265 289h1M279 293h1M241 298h1M232 298h1M255 301h1M274 284h1M259 289h1M248 289h1M281 300h1M257 285h1M252 301h1M252 294h1M268 286h1M278 289h1M249 296h1M255 289h1M280 288h1M266 294h1M257 278h1M265 285h1M271 284h1M257 291h1M238 296h1M263 291h1M239 294h1M245 297h1M267 289h1M258 290h1M247 291h1M273 291h1M243 293h1M241 284h1M250 301h1M251 301h1M275 283h1M257 290h1M253 305h1M250 293h1M222 302h1M256 290h1M296 275h1M264 298h1M268 283h1M276 280h1M250 295h1M259 297h1M242 295h1M241 290h1M251 297h1M258 287h1M263 305h1M275 285h1M260 284h1M239 291h1M258 303h1M259 305h1M279 288h1M215 293h1M257 296h1M255 292h1M256 295h1M235 295h1M254 301h1M262 294h1M256 290h1M269 280h1M266 282h1M259 285h1M251 291h1M253 297h1M266 286h1M255 287h1M264 290h1M262 284h1M246 300h1M248 299h1M262 300h1M254 294h1M252 284h1M252 287h1M261 296h1M249 299h1M272 286h1M254 283h1M266 290h1M259 296h1M266 290h1M242 301h1M268 295h1M261 297h1M254 283h1M239 307h1M268 293h1M262 291h1M249 297h1M225 305h1M250 296h1M231 306h1M268 285h1M245 299h1M255 290h1M268 295h1M237 290h1M275 278h1M280 295h1M266 294h1M268 288h1M248 275h1M268 290h1M240 301h1M234 293h1M239 289h1M253 294h1M263 289h1M252 285h1M246 295h1M231 294h1M273 292h1M277 284h1M266 289h1M254 294h1M269 286h1M279 278h1M259 301h1M241 300h1M289 286h1M273 274h1M234 292h1M258 291h1M265 299h1M260 290h1M229 307h1M236 288h1M244 292h1M280 274h1M257 296h1M248 300h1M267 292h1M249 288h1M240 295h1M234 290h1M236 293h1M254 298h1M210 290h1M240 297h1M266 297h1M259 290h1M258 298h1M266 283h1M245 293h1M258 294h1M277 280h1M269 299h1M239 295h1M240 299h1M260 288h1M248 290h1M234 293h1M262 295h1M243 296h1M257 291h1M271 291h1M298 282h1M243 300h1M243 298h1M261 294h1M252 293h1M238 294h1M272 289h1M261 297h1M265 288h1M259 284h1M254 292h1M294 300h1M259 302h1M250 289h1M268 280h1M277 286h1M246 293h1M244 297h1M271 289h1M267 288h1M264 298h1M253 289h1M268 287h1M249 303h1M256 294h1M258 296h1M278 277h1M238 296h1M256 291h1M258 288h1M260 296h1M245 296h1M234 291h1M239 288h1M237 296h1M262 289h1M241 297h1M241 298h1M276 293h1M268 283h1M274 274h1M251 295h1M268 291h1M252 287h1M278 286h1M271 292h1M267 281h1M253 292h1M267 286h1M259 293h1M286 286h1M261 288h1M253 295h1M255 283h1M253 300h1M252 292h1M248 296h1M231 295h1M256 283h1M258 289h1M273 294h1M252 282h1M267 296h1M255 290h1M252 290h1M256 300h1M270 293h1M262 284h1M250 297h1M268 288h1M270 290h1M243 312h1M263 302h1M271 289h1M232 293h1M271 292h1M253 280h1M265 290h1M253 288h1M270 303h1M240 289h1M254 304h1M260 287h1M253 290h1M251 289h1M254 292h1M269 286h1M238 305h1M273 284h1M254 292h1M278 287h1M243 297h1M273 291h1M250 292h1M249 295h1M278 286h1M268 289h1M271 290h1M270 293h1M234 291h1M280 286h1M256 290h1M270 286h1M262 289h1M263 288h1M255 289h1M236 294h1M268 291h1M259 297h1M290 286h1M256 291h1M243 300h1M259 297h1M274 284h1M266 288h1M268 288h1M260 292h1M250 297h1M284 279h1M251 293h1M242 297h1M257 290h1M261 305h1M246 304h1M282 290h1M262 283h1M253 298h1M236 300h1M254 290h1M264 282h1M252 298h1M242 304h1M241 303h1M244 287h1M257 286h1M244 293h1M237 291h1M254 297h1M259 299h1M259 294h1M266 289h1M251 292h1M245 292h1M240 286h1M235 298h1M261 299h1M243 301h1M260 294h1M264 287h1M259 292h1M245 285h1M278 283h1M269 280h1M288 281h1M281 289h1M242 299h1M259 288h1M258 290h1M253 298h1M243 292h1M279 287h1M272 277h1M240 306h1M248 292h1M258 303h1M271 297h1M273 292h1M247 286h1M276 294h1M259 287h1M258 298h1M259 286h1M275 278h1M266 287h1M249 297h1M267 288h1M245 298h1M265 293h1M251 292h1M264 292h1M255 292h1M262 283h1M255 292h1M275 293h1M267 300h1M269 288h1M242 304h1M246 285h1M264 275h1M274 285h1M239 289h1M250 297h1M244 292h1M254 298h1M261 289h1M238 297h1M241 277h1M274 277h1M248 295h1M273 282h1M272 293h1M248 301h1M254 287h1M240 294h1M268 298h1M238 307h1M259 295h1M268 278h1M252 302h1M243 294h1M251 288h1M246 296h1M258 299h1M279 285h1M280 290h1M261 286h1M256 301h1M252 289h1M247 294h1M263 284h1M244 294h1M260 296h1M259 297h1M256 299h1M271 278h1M262 297h1M262 287h1M249 290h1M266 292h1M236 290h1M248 291h1M244 308h1M264 295h1M244 297h1M249 300h1M253 298h1M281 286h1M267 287h1M249 295h1M263 292h1M290 281h1M251 302h1M257 288h1M249 297h1M252 282h1M252 288h1M254 289h1M279 279h1M268 283h1M255 279h1M264 284h1M229 305h1M255 286h1M246 300h1M258 286h1M246 297h1M259 300h1M246 299h1M266 288h1M264 290h1M255 285h1M263 302h1M266 296h1M260 297h1M229 313h1M273 280h1M259 295h1M272 284h1M247 286h1M239 292h1M253 288h1M264 292h1M233 308h1M257 297h1M258 293h1M280 291h1M252 283h1M266 289h1M262 289h1M242 299h1M261 288h1M254 286h1M256 279h1M228 288h1M287 281h1M259 289h1M246 300h1M256 295h1M273 282h1M220 286h1M245 286h1M255 288h1M261 292h1M264 300h1M248 285h1M263 293h1M247 294h1M242 286h1M281 290h1M248 291h1M259 297h1M258 297h1M270 290h1M269 285h1M269 294h1M259 283h1M240 297h1M261 304h1M267 297h1M265 289h1M257 300h1M249 297h1M250 290h1M260 284h1M248 292h1M261 283h1M266 294h1M277 291h1M247 283h1M281 297h1M248 284h1M238 293h1M253 291h1M269 286h1M247 302h1M247 299h1M245 299h1M263 290h1M266 292h1M256 285h1M269 284h1M267 284h1M277 287h1M276 284h1M278 279h1M244 286h1M244 279h1M248 304h1M273 277h1M268 278h1M252 287h1M248 289h1M273 292h1M263 295h1M271 285h1M238 301h1M245 289h1M248 282h1M273 287h1M276 288h1M246 306h1M255 304h1M257 296h1M272 297h1M247 284h1M270 292h1M260 284h1M287 279h1M262 286h1M252 292h1M248 290h1M254 295h1M253 296h1M256 296h1M235 305h1M243 293h1M270 279h1M249 290h1M294 280h1M267 283h1M266 286h1M253 284h1M232 299h1M244 289h1M265 286h1M261 299h1M271 286h1M237 283h1M279 281h1M257 288h1M277 285h1M248 295h1M247 285h1M241 298h1M243 299h1M281 293h1M257 297h1M241 290h1M226 305h1M251 298h1M264 288h1M247 300h1M257 288h1M254 299h1M250 300h1M264 289h1M239 298h1M251 292h1M264 291h1M281 295h1M268 297h1M242 301h1M286 281h1M250 302h1M221 300h1M267 274h1M256 296h1M281 270h1M245 303h1M267 292h1M276 284h1M266 289h1M261 295h1M259 293h1M264 289h1M276 285h1M271 286h1M250 285h1M261 282h1M253 297h1M259 294h1M255 303h1M259 295h1M247 293h1M279 288h1M249 299h1M270 297h1M261 286h1M250 293h1M254 285h1M246 293h1M245 297h1M265 297h1M250 284h1M266 289h1M269 284h1M262 288h1M253 288h1M249 302h1M244 296h1M265 296h1M272 298h1M256 299h1M268 281h1M257 288h1M272 285h1M293 286h1M240 296h1M236 306h1M258 278h1M241 293h1M260 288h1M251 281h1M262 285h1M270 300h1M236 289h1M230 302h1M275 289h1M256 288h1M256 290h1M263 282h1M284 283h1M249 296h1M249 299h1M244 299h1M259 288h1M254 295h1M268 281h1M251 303h1M255 291h1M269 285h1M247 286h1M274 288h1M256 294h1M257 296h1M255 290h1M260 286h1M266 297h1M255 288h1M246 294h1M248 287h1M256 286h1M271 294h1M259 286h1M246 303h1M265 282h1M259 306h1M245 296h1M246 284h1M250 296h1M259 289h1M274 296h1M261 287h1M280 291h1M265 285h1M227 294h1M239 292h1M264 284h1M237 297h1M279 294h1M270 282h1M251 302h1M275 284h1M266 273h1M255 297h1M265 276h1M264 293h1M264 285h1M270 289h1M263 299h1M251 297h1M240 289h1M245 287h1M278 298h1M241 293h1M268 288h1M257 302h1M250 288h1M250 300h1M270 289h1M262 288h1M276 275h1M246 300h1M247 299h1M244 296h1M267 285h1M274 302h1M235 299h1M251 297h1M246 299h1M267 297h1M261 280h1M285 299h1M244 295h1M258 285h1M244 309h1M260 293h1M270 280h1M243 302h1M247 301h1M246 275h1M268 283h1M271 293h1M273 293h1M276 284h1M237 296h1M271 296h1M240 290h1M217 292h1M268 283h1M243 288h1M290 282h1M265 295h1M241 298h1M250 292h1M265 292h1M264 276h1M220 299h1M260 295h1M281 284h1M269 294h1M255 299h1M276 274h1M260 302h1M274 283h1M240 290h1M241 298h1M234 292h1M267 302h1M256 280h1M262 294h1M249 290h1M259 286h1M267 279h1M284 285h1M253 293h1M235 295h1M264 289h1M254 292h1M262 285h1M295 270h1M250 296h1M241 304h1M261 298h1M270 294h1M252 295h1M275 284h1M250 292h1M244 301h1M260 289h1M260 285h1M263 282h1M263 296h1M241 295h1M254 281h1M285 279h1M232 292h1M257 282h1M267 296h1M248 291h1M260 290h1M253 292h1M269 285h1M249 294h1M261 298h1M287 283h1M246 306h1M255 288h1M227 307h1M243 286h1M260 285h1M255 292h1M260 287h1M244 288h1M264 283h1M272 295h1M251 303h1M268 296h1M242 299h1M266 287h1M267 298h1M257 292h1M263 286h1M259 293h1M261 289h1M254 283h1M249 295h1M268 279h1M218 296h1M237 290h1M252 290h1M231 292h1M265 289h1M254 285h1M249 288h1M266 285h1M255 286h1M240 298h1M271 286h1M267 292h1M252 311h1M248 296h1M257 292h1M242 289h1M262 294h1M255 291h1M281 287h1M283 291h1M251 300h1M226 298h1M251 291h1M259 287h1M269 288h1M249 299h1M251 288h1M262 296h1M262 285h1M261 287h1M266 299h1M270 303h1M267 283h1M251 294h1M236 297h1M259 302h1M258 293h1M284 283h1M268 277h1M271 286h1M239 295h1M246 298h1M263 292h1M274 285h1M257 281h1M248 296h1M263 282h1M258 287h1M268 293h1M233 297h1M261 293h1M252 293h1M255 281h1M250 292h1M253 302h1M241 297h1M261 292h1M248 287h1M279 286h1M274 290h1M254 299h1M255 290h1M276 287h1M243 295h1M258 284h1M262 296h1M296 281h1M234 288h1M250 298h1M244 307h1M275 283h1M267 291h1M237 298h1M280 282h1M243 291h1M259 288h1M254 296h1M248 288h1M231 301h1M284 280h1M247 295h1M260 300h1M240 295h1M242 296h1M271 293h1M243 283h1M254 301h1M247 289h1M248 281h1M273 295h1M259 292h1M258 291h1M260 300h1M235 293h1M250 290h1M263 292h1M250 297h1M271 288h1M258 273h1M262 281h1M246 297h1M254 291h1M245 291h1M261 297h1M253 281h1M271 286h1M261 301h1M279 279h1M250 295h1M265 289h1M279 291h1M279 291h1M264 284h1M265 281h1M256 293h1M241 295h1M267 286h1M244 300h1M248 302h1M281 290h1M257 289h1M264 297h1M257 287h1M243 302h1M242 288h1M277 302h1M267 293h1M277 296h1M251 292h1M274 291h1M263 284h1M270 283h1M221 304h1M251 288h1M276 288h1M252 295h1M261 292h1M286 273h1M240 290h1M255 288h1M237 304h1M260 292h1M246 290h1M248 300h1M238 300h1M255 287h1M261 288h1M248 288h1M261 290h1M243 302h1M268 282h1M263 300h1M276 287h1M266 291h1M252 295h1M246 299h1M279 284h1M290 288h1M240 296h1M233 291h1M261 292h1M268 291h1M259 291h1M233 292h1M259 278h1M245 304h1M269 280h1M294 280h1M256 295h1M265 289h1M244 293h1M257 295h1M261 290h1M254 298h1M269 289h1M255 292h1M248 291h1M256 291h1M290 288h1M255 302h1M244 295h1M272 289h1M259 287h1M262 292h1M251 294h1M271 286h1M261 286h1M217 299h1M275 290h1M272 291h1M241 309h1M272 279h1M248 293h1M235 290h1M275 284h1M258 290h1M244 294h1M269 275h1M254 292h1M266 285h1M273 283h1M266 293h1M260 294h1M261 291h1M288 292h1M250 291h1M263 289h1M269 291h1M268 299h1M264 294h1M267 279h1M259 292h1M241 289h1M253 287h1M238 308h1M285 279h1M259 294h1M234 310h1M229 300h1M267 283h1M234 288h1M242 288h1M277 278h1M254 291h1M244 302h1M249 299h1M239 292h1M263 296h1M252 291h1M255 294h1M245 289h1M257 298h1M246 301h1M247 296h1M248 289h1M272 295h1M248 296h1M240 287h1M262 294h1M255 291h1M253 299h1M258 291h1M247 303h1M289 284h1M263 300h1M262 288h1M257 301h1M269 294h1M248 289h1M250 291h1M243 300h1M275 288h1M272 283h1M273 300h1M261 283h1M245 299h1M265 288h1M247 287h1M283 284h1M275 286h1M244 310h1M242 298h1M250 280h1M261 286h1M285 280h1M231 304h1M266 283h1M273 294h1M265 300h1M262 296h1M253 293h1M270 300h1M250 296h1M274 284h1M294 282h1M271 281h1M253 291h1M246 296h1M249 292h1M268 289h1M253 289h1M275 283h1M238 306h1M252 288h1M259 285h1M258 297h1M251 287h1M269 290h1M240 285h1M274 288h1M267 292h1M257 295h1M252 305h1M256 298h1M236 298h1M279 284h1M251 304h1M233 297h1M251 301h1M249 290h1M272 308h1M246 298h1M254 288h1M256 298h1M259 303h1M249 302h1M242 298h1M242 286h1M274 292h1M253 287h1M260 298h1M271 284h1M258 304h1M260 291h1M247 292h1M264 293h1M263 291h1M239 309h1M235 300h1M261 293h1M246 304h1M215 297h1M257 294h1M261 297h1M274 278h1M267 291h1M259 289h1M259 289h1M252 292h1M253 297h1M259 289h1M259 299h1M258 292h1M257 289h1M236 285h1M263 281h1M261 284h1M272 287h1M263 278h1M236 298h1M253 284h1M254 292h1M281 290h1M274 288h1M249 290h1M265 282h1M263 291h1M266 294h1M272 300h1M248 292h1M268 289h1M250 299h1M244 299h1M252 294h1M264 292h1M270 291h1M231 298h1M278 289h1M252 279h1M269 288h1M269 304h1M259 282h1M236 296h1M237 286h1M271 293h1M256 301h1M277 291h1M262 286h1M275 282h1M258 299h1M251 287h1M298 271h1M235 294h1M250 286h1M259 298h1M282 283h1M231 295h1M263 299h1M249 288h1M240 294h1M240 291h1M266 290h1M259 286h1M258 288h1M261 288h1M275 285h1M233 297h1M265 291h1M262 292h1M247 298h1M262 289h1M261 293h1M250 288h1M253 305h1M252 289h1M270 298h1M283 281h1M242 292h1M269 293h1M261 297h1M248 289h1M281 282h1M273 293h1M270 293h1M278 287h1M248 296h1M246 295h1M285 282h1M254 287h1M256 293h1M253 293h1M272 291h1M280 288h1M251 286h1M292 292h1M242 299h1M249 309h1M251 301h1M245 298h1M262 286h1M239 295h1M236 300h1M259 292h1M253 291h1M282 291h1M250 295h1M251 296h1M258 281h1M259 291h1M245 295h1M275 286h1M259 290h1M273 281h1M272 287h1M258 287h1M261 292h1M263 293h1M237 293h1M265 292h1M246 282h1M242 289h1M252 285h1M258 291h1M241 293h1M285 279h1M255 293h1M240 301h1M263 289h1M257 286h1M250 296h1M253 286h1M269 278h1M266 291h1M256 291h1M269 302h1M262 286h1M250 289h1M283 284h1M270 294h1M266 295h1M273 288h1M243 299h1M254 294h1M246 301h1M267 282h1M261 288h1M268 289h1M261 288h1M251 279h1M259 281h1M249 295h1M238 303h1M268 283h1M254 300h1M279 287h1M254 290h1M278 281h1M264 301h1M256 288h1M272 288h1M260 286h1M239 287h1M288 279h1M242 287h1M248 291h1M250 286h1M275 292h1M249 301h1M254 284h1M248 285h1M266 290h1M269 289h1M245 283h1M249 294h1M262 293h1M262 295h1M238 293h1M243 296h1M250 301h1M282 290h1M276 286h1M260 296h1M262 290h1M240 299h1M257 298h1M275 289h1M259 295h1M265 295h1M252 293h1M259 292h1M267 293h1M262 291h1M275 284h1M266 295h1M285 287h1M258 291h1M256 288h1M272 284h1M246 296h1M267 285h1M249 304h1M248 302h1M227 299h1M237 301h1M254 290h1M242 297h1M265 301h1M258 293h1M285 282h1M241 302h1M256 294h1M259 297h1M266 293h1M260 296h1M267 293h1M249 287h1M255 293h1M262 292h1M242 295h1M248 291h1M237 287h1M237 290h1M255 296h1M280 281h1M248 293h1M255 291h1M253 288h1M266 274h1M278 289h1M261 302h1M273 287h1M252 287h1M269 284h1M256 287h1M257 289h1M250 294h1M256 290h1M270 289h1M257 294h1M253 300h1M273 280h1M271 295h1M257 284h1M240 296h1M215 303h1M244 284h1M243 297h1M264 291h1M259 296h1M247 295h1M259 290h1M254 302h1M271 286h1M268 291h1M278 286h1M288 273h1M249 298h1M254 294h1M286 289h1M263 284h1M261 290h1M266 289h1M291 277h1M262 292h1M248 288h1M275 290h1M238 307h1M271 298h1M263 286h1M258 286h1M235 305h1M288 270h1M238 285h1M256 293h1M278 300h1M255 292h1M265 296h1M261 290h1M251 295h1M253 296h1M291 284h1M290 285h1M269 285h1M233 301h1M236 296h1M253 282h1M256 283h1M303 288h1M259 282h1M219 302h1M272 289h1M262 278h1M276 282h1M254 293h1M246 300h1M250 304h1M253 295h1M249 294h1M241 292h1M268 297h1M265 282h1M256 293h1M252 289h1M257 299h1M238 284h1M236 296h1M267 278h1M248 284h1M267 280h1M250 283h1M277 281h1M244 283h1M272 291h1M259 287h1M264 297h1M252 289h1M262 278h1M234 286h1M237 283h1M237 303h1M244 290h1M268 281h1M246 290h1M279 290h1M266 285h1M272 285h1M256 291h1M228 309h1M257 299h1M255 291h1M269 297h1M265 290h1M234 294h1M261 291h1M269 286h1M243 293h1M264 290h1M232 298h1M265 283h1M257 275h1M250 280h1M254 287h1M264 292h1M272 275h1M270 285h1M267 289h1M269 295h1M251 296h1M265 292h1M270 294h1M268 294h1M236 300h1M266 290h1M250 297h1M231 301h1M254 291h1M259 295h1M256 300h1M239 292h1M270 290h1M246 302h1M254 291h1M243 301h1M267 278h1M242 291h1M253 287h1M244 303h1M255 292h1M263 293h1M259 306h1M259 291h1M241 303h1M250 287h1M256 299h1M253 303h1M255 291h1M243 292h1M258 300h1M287 285h1M247 285h1M244 301h1M249 291h1M249 294h1M261 302h1M271 286h1M243 304h1M255 279h1M271 285h1M285 285h1M264 296h1M296 280h1M250 296h1M254 284h1M262 290h1M254 295h1M233 299h1M243 295h1M241 291h1M235 287h1M261 284h1M253 288h1M271 270h1M273 281h1M242 289h1M276 284h1M273 282h1M256 297h1M260 303h1M241 278h1M229 294h1M266 292h1M258 288h1M274 292h1M285 284h1M232 297h1M268 289h1M263 287h1M245 291h1M270 278h1M252 289h1M237 299h1M274 296h1M283 281h1M261 293h1M249 299h1M269 286h1M251 313h1M240 287h1M256 290h1M257 303h1M250 302h1M270 291h1M269 285h1M253 298h1M262 294h1M273 290h1M244 297h1M237 298h1M252 289h1M264 289h1M256 292h1M260 294h1M243 295h1M271 288h1M249 293h1M240 296h1M251 287h1M292 288h1M274 283h1M248 292h1M247 303h1M229 295h1M279 291h1M266 282h1M247 299h1M242 310h1M246 296h1M287 291h1M247 302h1M272 276h1M259 302h1M276 286h1M260 295h1M275 285h1M244 297h1M269 278h1M271 291h1M259 306h1M256 294h1M275 296h1M263 293h1M256 283h1M261 287h1M243 298h1M266 280h1M267 283h1M267 290h1M260 286h1M254 304h1M245 296h1M252 290h1M229 304h1M274 284h1M260 288h1M257 293h1M271 283h1M277 291h1M265 295h1M267 290h1M247 289h1M245 295h1M261 289h1M268 295h1M257 284h1M254 289h1M265 271h1M259 287h1M228 298h1M267 288h1M246 294h1M242 290h1M257 293h1M234 303h1M277 287h1M246 292h1M253 288h1M256 290h1M255 289h1M251 295h1M264 288h1M263 292h1M266 283h1M248 284h1M263 295h1M244 295h1M265 282h1M247 292h1M266 289h1M246 297h1M242 296h1M259 293h1M268 289h1M247 302h1M252 285h1M265 286h1M246 298h1M248 294h1M270 299h1M241 297h1M258 295h1M250 295h1M247 290h1M262 289h1M264 300h1M245 296h1M237 286h1M264 292h1M257 291h1M275 292h1M243 296h1M273 290h1M276 277h1M251 292h1M282 283h1M266 280h1M246 305h1M240 295h1M274 285h1M258 294h1M263 297h1M253 289h1M261 296h1M292 282h1M255 299h1M252 286h1M255 291h1M237 286h1M257 294h1M247 296h1M254 300h1M242 304h1M274 284h1M233 298h1M249 297h1M253 295h1M249 294h1M279 283h1M261 293h1M274 281h1M222 288h1M262 291h1M266 298h1M242 281h1M267 303h1M257 296h1M253 298h1M260 291h1M270 292h1M264 280h1M253 289h1M259 296h1M265 285h1M264 294h1M252 292h1M271 294h1M283 281h1M222 295h1M273 285h1M252 290h1M251 292h1M284 300h1M277 285h1M257 295h1M218 293h1M258 292h1M279 284h1M265 296h1M259 312h1M277 290h1M261 291h1M263 295h1M270 295h1M270 292h1M249 286h1M252 303h1M249 291h1M263 282h1M243 298h1M261 307h1M286 289h1M245 293h1M263 290h1M261 286h1M257 300h1M251 293h1M259 298h1M261 286h1M257 298h1M241 298h1M257 293h1M260 291h1M264 292h1M259 304h1M269 289h1M250 294h1M262 286h1M257 292h1M260 284h1M249 289h1M254 297h1M247 301h1M290 292h1M246 291h1M262 302h1M266 272h1M249 295h1M268 287h1M277 287h1M269 293h1M257 289h1M255 289h1M262 291h1M253 288h1M260 282h1M260 306h1M257 290h1M273 277h1M265 296h1M261 279h1M237 295h1M247 295h1M282 294h1M240 297h1M261 281h1M253 296h1M267 283h1M243 300h1M266 287h1M246 300h1M262 285h1M282 282h1M241 285h1M251 293h1M236 293h1M225 302h1M257 304h1M244 286h1M259 290h1M242 301h1M250 288h1M241 295h1M261 294h1M245 307h1M243 293h1M275 283h1M252 290h1M260 290h1M248 298h1M265 272h1M269 298h1M251 288h1M267 291h1M251 300h1M271 294h1M247 303h1M245 291h1M263 296h1M238 301h1M269 291h1M257 294h1M269 282h1M242 291h1M259 278h1M254 281h1M260 296h1M237 291h1M224 304h1M258 294h1M263 289h1M266 297h1M239 290h1M240 301h1M267 287h1M270 299h1M258 300h1M278 283h1M255 288h1M263 291h1M246 295h1M257 299h1M239 294h1M243 294h1M257 297h1M272 297h1M276 285h1M240 301h1M243 304h1M238 294h1M258 290h1M230 305h1M269 291h1M265 278h1M249 303h1M266 284h1M266 292h1M258 290h1M267 287h1M265 285h1M246 293h1M240 291h1M251 283h1M253 292h1M274 276h1M260 303h1M251 298h1M268 287h1M250 293h1M264 293h1M255 293h1M279 298h1M249 302h1M251 294h1M251 293h1M265 287h1M277 292h1M259 281h1M271 293h1M268 289h1M251 290h1M267 300h1M263 303h1M273 292h1M255 302h1M256 283h1M262 291h1M249 293h1M262 293h1M287 288h1M255 302h1M261 299h1M267 291h1M265 295h1M245 299h1M262 290h1M245 283h1M271 307h1M254 300h1M256 293h1M259 287h1M272 272h1M281 291h1M275 290h1M234 297h1M242 304h1M276 270h1M262 283h1M253 287h1M266 300h1M252 291h1M287 285h1M249 289h1M265 281h1M245 302h1M254 291h1M264 301h1M266 297h1M263 288h1M232 300h1M259 290h1M264 295h1M259 291h1M254 297h1M271 295h1M268 307h1M254 295h1M278 285h1M261 302h1M258 280h1M255 289h1M272 284h1M261 293h1M271 281h1M245 300h1M273 290h1M259 301h1M271 286h1M268 290h1M263 289h1M246 281h1M236 308h1M262 292h1M249 305h1M269 287h1M266 285h1M260 291h1M270 288h1M278 288h1M245 294h1M267 289h1M254 290h1M262 291h1M275 309h1M258 285h1M268 291h1M237 287h1M260 288h1M249 297h1M253 293h1M249 292h1M265 295h1M257 297h1M271 285h1M260 284h1M254 295h1M279 287h1M250 290h1M251 303h1M255 289h1M259 294h1M254 302h1M252 284h1M251 292h1M261 285h1M264 289h1M258 287h1M229 290h1M249 292h1M252 293h1M273 303h1M273 290h1M261 303h1M263 300h1M248 298h1M264 285h1M243 283h1M238 289h1M268 288h1M259 292h1M271 288h1M252 293h1M250 290h1M259 302h1M270 296h1M289 290h1M259 297h1M268 283h1M253 292h1M267 288h1M252 281h1M255 285h1M259 287h1M265 290h1M268 297h1M227 300h1M260 292h1M273 285h1M255 295h1M254 291h1M253 279h1M261 296h1M233 289h1M239 303h1M280 291h1M248 295h1M237 292h1M280 287h1M258 292h1M256 299h1M245 289h1M262 304h1M255 254h1M253 260h1M263 270h1M284 231h1M246 240h1M230 269h1M266 231h1M248 239h1M293 192h1M285 221h1M274 275h1M279 248h1M275 239h1M285 254h1M278 242h1M257 301h1M262 223h1M276 251h1M264 273h1M262 251h1M247 220h1M277 250h1M251 245h1M276 271h1M268 233h1M245 238h1M257 234h1M260 264h1M275 248h1M267 306h1M266 227h1M278 262h1M247 238h1M274 283h1M279 301h1M267 253h1M271 295h1M256 288h1M270 238h1M266 250h1M242 250h1M236 286h1M264 276h1M249 277h1M275 255h1M263 283h1M265 243h1M280 297h1M271 206h1M217 252h1M290 301h1M271 205h1M291 224h1M285 282h1M250 219h1M280 275h1M269 231h1M267 266h1M266 242h1M291 242h1M254 265h1M275 279h1M250 282h1M249 273h1M254 255h1M249 290h1M249 253h1M264 271h1M247 258h1M251 232h1M246 298h1M279 305h1M249 248h1M264 248h1M249 304h1M300 297h1M269 265h1M256 267h1M256 248h1M272 244h1M253 280h1M261 237h1M246 274h1M255 265h1M279 225h1M255 247h1M297 286h1M251 275h1M283 268h1M264 251h1M252 276h1M217 280h1M274 263h1M246 246h1M248 257h1M280 248h1M265 244h1M252 229h1M278 229h1M246 265h1M245 294h1M245 254h1M275 285h1M267 203h1M286 280h1M246 255h1M277 251h1M291 278h1M261 255h1M273 265h1M263 261h1M246 255h1M240 283h1M247 281h1M270 264h1M279 282h1M293 209h1M244 253h1M259 260h1M251 241h1M256 227h1M245 220h1M251 258h1M274 266h1M263 264h1M264 284h1M267 229h1M263 251h1M276 293h1M269 251h1M266 246h1M238 299h1M236 286h1M312 276h1M277 236h1M254 242h1M248 292h1M269 279h1M249 253h1M250 234h1M252 219h1M242 313h1M248 265h1M258 275h1M246 252h1M276 309h1M251 277h1M268 268h1M266 274h1M276 230h1M286 252h1M247 311h1M235 229h1M275 258h1M258 279h1M255 235h1M275 258h1M251 272h1M256 276h1M269 251h1M274 282h1M271 233h1M258 277h1M238 231h1M265 264h1M251 256h1M257 212h1M298 258h1M240 268h1M289 230h1M248 293h1M242 293h1M260 276h1M251 294h1M266 231h1M273 241h1M241 279h1M249 260h1M268 233h1M262 255h1M250 246h1M273 276h1M274 297h1M251 275h1M256 292h1M251 284h1M248 225h1M244 179h1M241 196h1M250 262h1M247 241h1M266 273h1M262 265h1M265 254h1M263 235h1M242 259h1M263 273h1M264 252h1M269 240h1M248 252h1M248 303h1M251 214h1M242 253h1M269 231h1M263 221h1M245 316h1M259 209h1M246 279h1M271 306h1M258 281h1M260 265h1M250 245h1M281 294h1M249 261h1M278 267h1M240 294h1M266 241h1M295 278h1M237 260h1M282 237h1M260 257h1M258 276h1M264 263h1M241 265h1M264 252h1M262 220h1M272 215h1M259 281h1M280 270h1M249 245h1M264 252h1M275 239h1M273 261h1M266 264h1M263 250h1M245 250h1M263 298h1M245 280h1M268 237h1M265 285h1M282 193h1M271 315h1M265 267h1M253 245h1M252 258h1M272 212h1M289 249h1M257 270h1M239 276h1M277 199h1M274 243h1M271 244h1M277 239h1M262 273h1M243 238h1M221 197h1M246 250h1M263 220h1M266 288h1M249 273h1M279 239h1M271 270h1M253 276h1M270 230h1M272 238h1M260 264h1M249 231h1M258 203h1M240 254h1M248 218h1M259 258h1M242 261h1M262 223h1M254 276h1M254 267h1M260 295h1M268 268h1M267 211h1M258 229h1M262 280h1M268 223h1M258 232h1M248 272h1M245 259h1M261 292h1M282 298h1M276 268h1M279 274h1M255 222h1M263 247h1M265 256h1M270 312h1M275 210h1M263 271h1M252 199h1M253 285h1M280 260h1M258 218h1M283 273h1M250 248h1M265 253h1M276 265h1M241 226h1M242 298h1M242 235h1M232 208h1M245 258h1M249 278h1M251 248h1M258 227h1M257 276h1M274 241h1M275 252h1M235 259h1M253 237h1M269 255h1M255 273h1M271 249h1M251 258h1M286 224h1M261 236h1M260 239h1M229 223h1M257 286h1M260 244h1M231 269h1M235 269h1M255 295h1M253 291h1M251 285h1M268 275h1M257 242h1M247 213h1M274 278h1M272 219h1M270 256h1M274 232h1M269 244h1M283 268h1M272 265h1M264 266h1M240 244h1M247 238h1M230 201h1M254 220h1M249 275h1M281 227h1M276 234h1M253 244h1M262 270h1M276 258h1M275 291h1M267 293h1M248 286h1M270 297h1M238 283h1M290 293h1M283 273h1M279 242h1M272 296h1M254 288h1M271 241h1M288 248h1M277 276h1M272 280h1M257 275h1M263 299h1M232 264h1M255 242h1M278 298h1M265 291h1M249 297h1M237 221h1M271 304h1M251 268h1M256 282h1M267 298h1M242 247h1M253 266h1M254 241h1M266 236h1M261 248h1M242 247h1M267 276h1M246 263h1M276 217h1M269 228h1M242 234h1M264 230h1M264 207h1M264 234h1M247 257h1M216 258h1M238 254h1M270 287h1M251 267h1M264 258h1M264 314h1M264 314h1M284 267h1M248 241h1M234 295h1M242 225h1M280 254h1M249 277h1M297 244h1M254 236h1M297 273h1M267 263h1M260 196h1M278 233h1M275 282h1M241 253h1M246 296h1M241 251h1M280 238h1M262 246h1M263 242h1M279 281h1M268 237h1M273 247h1M245 241h1M240 308h1M259 274h1M232 262h1M280 261h1M251 269h1M257 304h1M285 235h1M284 244h1M261 234h1M255 306h1M236 260h1M244 258h1M258 213h1M250 263h1M270 225h1M275 247h1M266 265h1M256 253h1M271 277h1M267 231h1M293 291h1M263 197h1M252 252h1M281 260h1M260 247h1M258 296h1M261 261h1M279 259h1M273 230h1M250 253h1M252 233h1M283 280h1M259 268h1M267 197h1M255 220h1M235 249h1M262 276h1M250 280h1M278 310h1M249 296h1M259 210h1M246 302h1M229 255h1M255 249h1M234 271h1M285 245h1M282 300h1M226 256h1M288 257h1M264 248h1M261 233h1M241 254h1M264 262h1M246 287h1M245 223h1M273 225h1M264 291h1M257 272h1M262 237h1M276 256h1M289 265h1M282 284h1M250 315h1M257 251h1M266 253h1" stroke="#000" stroke-width="1" opacity="0.9"/>
<text x="212" y="193.4" font-size="14" font-weight="normal" text-anchor="start" fill="#111" >46.7%</text>
<text transform="translate(175,287.5) rotate(-90)" font-size="16.4" font-weight="bold" fill="#111">Twitch-2B</text>
<text x="236" y="344" font-size="16.9" font-weight="bold" text-anchor="start" fill="#111" >FSC-A</text>
</g>
<g id="C">
<text x="370.3" y="158.3" font-size="24" font-weight="normal" text-anchor="start" fill="#000" >C</text>
<g fill="#e2e2e2" stroke="#181818" stroke-width="1.2">
<circle cx="474.6" cy="288.8" r="2.4"/>
<circle cx="501.4" cy="293.3" r="2.4"/>
<circle cx="456.7" cy="295.7" r="2.4"/>
<circle cx="510.1" cy="305.5" r="2.4"/>
<circle cx="457.6" cy="286.2" r="2.4"/>
<circle cx="529.8" cy="293.2" r="2.4"/>
<circle cx="517.9" cy="308.8" r="2.4"/>
<circle cx="427.2" cy="291.6" r="2.4"/>
<circle cx="427.9" cy="304" r="2.4"/>
<circle cx="469.2" cy="292.7" r="2.4"/>
<circle cx="546.7" cy="292.2" r="2.4"/>
<circle cx="478.8" cy="322.4" r="2.4"/>
<circle cx="490.2" cy="307.9" r="2.4"/>
<circle cx="433.2" cy="302" r="2.4"/>
<circle cx="468.4" cy="303.8" r="2.4"/>
<circle cx="451.5" cy="317.2" r="2.4"/>
<circle cx="453.5" cy="302.2" r="2.4"/>
<circle cx="428.8" cy="298.9" r="2.4"/>
<circle cx="480.9" cy="283.7" r="2.4"/>
<circle cx="489.4" cy="303.8" r="2.4"/>
<circle cx="597.6" cy="302.3" r="2.4"/>
<circle cx="440.2" cy="305.8" r="2.4"/>
<circle cx="425.8" cy="296.1" r="2.4"/>
<circle cx="495" cy="288.5" r="2.4"/>
<circle cx="445.1" cy="310.4" r="2.4"/>
<circle cx="484.1" cy="284" r="2.4"/>
<circle cx="501" cy="284.7" r="2.4"/>
<circle cx="483" cy="290.7" r="2.4"/>
<circle cx="629.9" cy="295.1" r="2.4"/>
<circle cx="522" cy="297.4" r="2.4"/>
<circle cx="433.3" cy="310.4" r="2.4"/>
<circle cx="617.3" cy="302.1" r="2.4"/>
<circle cx="442.1" cy="315.3" r="2.4"/>
<circle cx="466" cy="303.2" r="2.4"/>
<circle cx="517.3" cy="290.5" r="2.4"/>
<circle cx="496.8" cy="303.4" r="2.4"/>
<circle cx="569.5" cy="303.5" r="2.4"/>
<circle cx="504.5" cy="304.6" r="2.4"/>
<circle cx="519.9" cy="295.8" r="2.4"/>
<circle cx="464.4" cy="296.5" r="2.4"/>
<circle cx="458.8" cy="291.4" r="2.4"/>
<circle cx="527.5" cy="288.1" r="2.4"/>
<circle cx="480" cy="300.2" r="2.4"/>
<circle cx="510.3" cy="299.2" r="2.4"/>
<circle cx="471.1" cy="297.3" r="2.4"/>
<circle cx="556.5" cy="320" r="2.4"/>
<circle cx="561.9" cy="297.9" r="2.4"/>
<circle cx="489.8" cy="290.2" r="2.4"/>
<circle cx="449.7" cy="292" r="2.4"/>
<circle cx="545.4" cy="310.2" r="2.4"/>
<circle cx="453.8" cy="307.2" r="2.4"/>
<circle cx="444.6" cy="298.1" r="2.4"/>
<circle cx="437.9" cy="299.2" r="2.4"/>
<circle cx="456.5" cy="284.7" r="2.4"/>
<circle cx="500.2" cy="314.4" r="2.4"/>
<circle cx="544.9" cy="302.9" r="2.4"/>
<circle cx="568.4" cy="291.3" r="2.4"/>
<circle cx="605.4" cy="301.1" r="2.4"/>
<circle cx="469.8" cy="315.2" r="2.4"/>
<circle cx="426.4" cy="293.2" r="2.4"/>
<circle cx="454" cy="303.6" r="2.4"/>
<circle cx="489.9" cy="306.1" r="2.4"/>
<circle cx="500.7" cy="305" r="2.4"/>
<circle cx="514.3" cy="308.3" r="2.4"/>
<circle cx="446.4" cy="289.4" r="2.4"/>
<circle cx="456.6" cy="259" r="2.4"/>
<circle cx="430.2" cy="284.5" r="2.4"/>
<circle cx="459.1" cy="288.8" r="2.4"/>
<circle cx="476.1" cy="301.9" r="2.4"/>
<circle cx="492.6" cy="298.1" r="2.4"/>
<circle cx="430.1" cy="296.9" r="2.4"/>
<circle cx="567.3" cy="295.1" r="2.4"/>
<circle cx="494.8" cy="289" r="2.4"/>
<circle cx="489.5" cy="300.1" r="2.4"/>
<circle cx="472.9" cy="291.2" r="2.4"/>
<circle cx="493.2" cy="299.7" r="2.4"/>
<circle cx="469.2" cy="290.9" r="2.4"/>
<circle cx="444.4" cy="279.1" r="2.4"/>
<circle cx="465.3" cy="316.7" r="2.4"/>
<circle cx="464.4" cy="293.2" r="2.4"/>
<circle cx="437.3" cy="275.6" r="2.4"/>
<circle cx="442.7" cy="288.3" r="2.4"/>
<circle cx="473" cy="292" r="2.4"/>
<circle cx="433" cy="288.2" r="2.4"/>
<circle cx="436.5" cy="312.3" r="2.4"/>
<circle cx="536.4" cy="298.5" r="2.4"/>
<circle cx="442" cy="294.9" r="2.4"/>
<circle cx="505.8" cy="301" r="2.4"/>
<circle cx="561.9" cy="291" r="2.4"/>
<circle cx="494.1" cy="283.9" r="2.4"/>
<circle cx="509.9" cy="298.7" r="2.4"/>
<circle cx="500.2" cy="302.5" r="2.4"/>
<circle cx="433" cy="292.5" r="2.4"/>
<circle cx="452.5" cy="290.7" r="2.4"/>
<circle cx="443.1" cy="311.9" r="2.4"/>
<circle cx="439.8" cy="290.9" r="2.4"/>
<circle cx="449.4" cy="306.3" r="2.4"/>
<circle cx="456.8" cy="306.2" r="2.4"/>
<circle cx="515.3" cy="317.7" r="2.4"/>
<circle cx="483.1" cy="287.3" r="2.4"/>
<circle cx="483.9" cy="282.7" r="2.4"/>
<circle cx="479.9" cy="297.2" r="2.4"/>
<circle cx="437.3" cy="251.2" r="2.4"/>
<circle cx="431.1" cy="292.4" r="2.4"/>
<circle cx="465.2" cy="280.1" r="2.4"/>
<circle cx="503.7" cy="304.7" r="2.4"/>
<circle cx="442.2" cy="286.2" r="2.4"/>
<circle cx="461.7" cy="300.7" r="2.4"/>
<circle cx="430.9" cy="252.6" r="2.4"/>
<circle cx="435" cy="291.2" r="2.4"/>
<circle cx="468.8" cy="297.1" r="2.4"/>
<circle cx="597.6" cy="290.2" r="2.4"/>
<circle cx="466.4" cy="310.8" r="2.4"/>
<circle cx="463.2" cy="255.1" r="2.4"/>
<circle cx="426.4" cy="300.7" r="2.4"/>
<circle cx="489.2" cy="310.7" r="2.4"/>
<circle cx="456.1" cy="296.5" r="2.4"/>
<circle cx="465.8" cy="296.2" r="2.4"/>
<circle cx="449.8" cy="288.5" r="2.4"/>
<circle cx="486.8" cy="291.8" r="2.4"/>
<circle cx="427.5" cy="309.4" r="2.4"/>
<circle cx="461.6" cy="309.1" r="2.4"/>
<circle cx="489.5" cy="295.3" r="2.4"/>
<circle cx="552.2" cy="313.3" r="2.4"/>
<circle cx="456.8" cy="297.2" r="2.4"/>
<circle cx="471.6" cy="296.5" r="2.4"/>
<circle cx="442.6" cy="291" r="2.4"/>
<circle cx="492.9" cy="279.3" r="2.4"/>
<circle cx="490.2" cy="297" r="2.4"/>
<circle cx="464.3" cy="290.9" r="2.4"/>
<circle cx="471.2" cy="288.6" r="2.4"/>
<circle cx="449.9" cy="279.4" r="2.4"/>
<circle cx="551.4" cy="273.8" r="2.4"/>
<circle cx="442.2" cy="291.3" r="2.4"/>
<circle cx="451" cy="293.7" r="2.4"/>
<circle cx="551.5" cy="305.5" r="2.4"/>
<circle cx="476.7" cy="280.8" r="2.4"/>
<circle cx="438.8" cy="306.1" r="2.4"/>
<circle cx="561.7" cy="305.6" r="2.4"/>
<circle cx="458.9" cy="298.7" r="2.4"/>
<circle cx="445.8" cy="286.1" r="2.4"/>
<circle cx="580" cy="292" r="2.4"/>
<circle cx="454.9" cy="302.1" r="2.4"/>
<circle cx="434.6" cy="301.6" r="2.4"/>
<circle cx="470.3" cy="297.1" r="2.4"/>
<circle cx="487.6" cy="304.5" r="2.4"/>
<circle cx="492.1" cy="306.7" r="2.4"/>
<circle cx="435" cy="297" r="2.4"/>
<circle cx="485.5" cy="296.4" r="2.4"/>
<circle cx="440.1" cy="266.4" r="2.4"/>
<circle cx="435.6" cy="273.4" r="2.4"/>
<circle cx="557.2" cy="303.4" r="2.4"/>
<circle cx="458.1" cy="300.3" r="2.4"/>
<circle cx="427.3" cy="307.1" r="2.4"/>
<circle cx="472.1" cy="290.8" r="2.4"/>
<circle cx="438.3" cy="306.9" r="2.4"/>
<circle cx="518.8" cy="310.2" r="2.4"/>
<circle cx="457.8" cy="308.6" r="2.4"/>
<circle cx="518.1" cy="294.2" r="2.4"/>
<circle cx="446.2" cy="315.9" r="2.4"/>
<circle cx="494.9" cy="294.4" r="2.4"/>
<circle cx="444.5" cy="304.8" r="2.4"/>
<circle cx="445.9" cy="316.8" r="2.4"/>
<circle cx="459.8" cy="294.3" r="2.4"/>
<circle cx="557.1" cy="298.7" r="2.4"/>
<circle cx="441.9" cy="292.8" r="2.4"/>
<circle cx="604.1" cy="287.2" r="2.4"/>
<circle cx="456.3" cy="299.7" r="2.4"/>
<circle cx="432.3" cy="310.4" r="2.4"/>
<circle cx="437.2" cy="283.5" r="2.4"/>
<circle cx="448.8" cy="314.5" r="2.4"/>
<circle cx="454" cy="286.1" r="2.4"/>
<circle cx="427.8" cy="289.7" r="2.4"/>
<circle cx="510.4" cy="287.9" r="2.4"/>
<circle cx="472.5" cy="306" r="2.4"/>
<circle cx="525.9" cy="289.3" r="2.4"/>
<circle cx="532.3" cy="293.7" r="2.4"/>
<circle cx="433.4" cy="321.5" r="2.4"/>
<circle cx="429.8" cy="308.4" r="2.4"/>
<circle cx="437.5" cy="299.1" r="2.4"/>
<circle cx="454.7" cy="295.4" r="2.4"/>
<circle cx="456.6" cy="299.4" r="2.4"/>
<circle cx="513.7" cy="303.7" r="2.4"/>
<circle cx="450.5" cy="289.2" r="2.4"/>
<circle cx="460.4" cy="255.1" r="2.4"/>
<circle cx="485.5" cy="293.9" r="2.4"/>
<circle cx="496.5" cy="307.7" r="2.4"/>
<circle cx="477.6" cy="305.7" r="2.4"/>
<circle cx="468.7" cy="290" r="2.4"/>
<circle cx="428" cy="291.8" r="2.4"/>
<circle cx="510.2" cy="302.5" r="2.4"/>
<circle cx="498.7" cy="287.4" r="2.4"/>
<circle cx="493.6" cy="302.7" r="2.4"/>
<circle cx="485.8" cy="308.8" r="2.4"/>
<circle cx="438.2" cy="289.3" r="2.4"/>
<circle cx="456" cy="252.6" r="2.4"/>
<circle cx="467.1" cy="252.2" r="2.4"/>
<circle cx="471.6" cy="285.8" r="2.4"/>
<circle cx="442.3" cy="284" r="2.4"/>
<circle cx="457.5" cy="300" r="2.4"/>
<circle cx="476.4" cy="299.2" r="2.4"/>
<circle cx="444.6" cy="314.4" r="2.4"/>
<circle cx="498.2" cy="313.7" r="2.4"/>
<circle cx="436.4" cy="305.6" r="2.4"/>
<circle cx="498" cy="314.5" r="2.4"/>
<circle cx="475.7" cy="297.4" r="2.4"/>
<circle cx="444.9" cy="313" r="2.4"/>
<circle cx="526.3" cy="292" r="2.4"/>
<circle cx="473.6" cy="283.5" r="2.4"/>
<circle cx="431" cy="300.9" r="2.4"/>
<circle cx="468.2" cy="315.7" r="2.4"/>
<circle cx="539.8" cy="299.1" r="2.4"/>
<circle cx="506.1" cy="310.4" r="2.4"/>
<circle cx="487.7" cy="303.8" r="2.4"/>
<circle cx="442.2" cy="304.2" r="2.4"/>
<circle cx="469.3" cy="303.5" r="2.4"/>
<circle cx="494.7" cy="304.6" r="2.4"/>
<circle cx="450.7" cy="295.1" r="2.4"/>
<circle cx="432.2" cy="291.7" r="2.4"/>
<circle cx="567.1" cy="309" r="2.4"/>
<circle cx="444" cy="306.4" r="2.4"/>
<circle cx="560.8" cy="303.8" r="2.4"/>
<circle cx="493.9" cy="308.6" r="2.4"/>
<circle cx="481.1" cy="288.8" r="2.4"/>
<circle cx="450.5" cy="292.2" r="2.4"/>
<circle cx="458.3" cy="298.9" r="2.4"/>
<circle cx="494.3" cy="296.7" r="2.4"/>
<circle cx="494.8" cy="313.6" r="2.4"/>
<circle cx="487.2" cy="298.8" r="2.4"/>
<circle cx="497.7" cy="299.8" r="2.4"/>
<circle cx="524" cy="301.4" r="2.4"/>
<circle cx="448.8" cy="319.4" r="2.4"/>
<circle cx="494.6" cy="294.9" r="2.4"/>
<circle cx="451.4" cy="279" r="2.4"/>
<circle cx="474.8" cy="304.3" r="2.4"/>
<circle cx="437.7" cy="305.4" r="2.4"/>
<circle cx="501.7" cy="301.3" r="2.4"/>
<circle cx="470.3" cy="296.5" r="2.4"/>
<circle cx="469.3" cy="302.1" r="2.4"/>
<circle cx="498" cy="313" r="2.4"/>
<circle cx="476.1" cy="303.2" r="2.4"/>
<circle cx="501.8" cy="288.1" r="2.4"/>
<circle cx="496.2" cy="294.8" r="2.4"/>
<circle cx="472" cy="290.3" r="2.4"/>
<circle cx="429.9" cy="294.3" r="2.4"/>
<circle cx="469" cy="320.9" r="2.4"/>
<circle cx="488.4" cy="293.8" r="2.4"/>
<circle cx="432.1" cy="299" r="2.4"/>
<circle cx="494.6" cy="310.1" r="2.4"/>
<circle cx="460.5" cy="255.1" r="2.4"/>
<circle cx="453.3" cy="300.9" r="2.4"/>
<circle cx="436.2" cy="305.1" r="2.4"/>
<circle cx="462.4" cy="262.3" r="2.4"/>
<circle cx="496.7" cy="309.1" r="2.4"/>
<circle cx="463.2" cy="300.1" r="2.4"/>
<circle cx="473.2" cy="306.8" r="2.4"/>
<circle cx="469.3" cy="289.5" r="2.4"/>
<circle cx="440.6" cy="265.6" r="2.4"/>
<circle cx="454.5" cy="303.7" r="2.4"/>
<circle cx="494.2" cy="295" r="2.4"/>
<circle cx="432.8" cy="283.1" r="2.4"/>
<circle cx="429.1" cy="291.3" r="2.4"/>
<circle cx="512.9" cy="287.9" r="2.4"/>
<circle cx="453.3" cy="311.9" r="2.4"/>
<circle cx="462" cy="286.1" r="2.4"/>
<circle cx="450" cy="299" r="2.4"/>
<circle cx="474.9" cy="284.9" r="2.4"/>
<circle cx="481.3" cy="297.8" r="2.4"/>
<circle cx="632.7" cy="296.8" r="2.4"/>
<circle cx="494.9" cy="288.3" r="2.4"/>
<circle cx="526.7" cy="297" r="2.4"/>
<circle cx="452.6" cy="275.2" r="2.4"/>
<circle cx="482.8" cy="302" r="2.4"/>
<circle cx="433" cy="300.7" r="2.4"/>
<circle cx="437.5" cy="305.3" r="2.4"/>
<circle cx="445.7" cy="279.4" r="2.4"/>
<circle cx="429.4" cy="293" r="2.4"/>
<circle cx="453.3" cy="263.5" r="2.4"/>
<circle cx="433" cy="284.3" r="2.4"/>
<circle cx="506.5" cy="310.3" r="2.4"/>
<circle cx="628.6" cy="298.7" r="2.4"/>
<circle cx="464.7" cy="287.5" r="2.4"/>
<circle cx="474.7" cy="294" r="2.4"/>
<circle cx="466.2" cy="305.6" r="2.4"/>
<circle cx="514.4" cy="305.8" r="2.4"/>
<circle cx="451.3" cy="295.4" r="2.4"/>
<circle cx="439.9" cy="315.9" r="2.4"/>
<circle cx="518.7" cy="290.9" r="2.4"/>
<circle cx="491.8" cy="317.3" r="2.4"/>
<circle cx="554.8" cy="288.8" r="2.4"/>
<circle cx="491.6" cy="292.9" r="2.4"/>
<circle cx="460.5" cy="271.9" r="2.4"/>
<circle cx="430.8" cy="297.3" r="2.4"/>
<circle cx="509.3" cy="285.1" r="2.4"/>
<circle cx="508.6" cy="293.7" r="2.4"/>
<circle cx="427.8" cy="300.5" r="2.4"/>
<circle cx="425.7" cy="295.6" r="2.4"/>
<circle cx="496.2" cy="288" r="2.4"/>
<circle cx="437.9" cy="303.9" r="2.4"/>
<circle cx="467.1" cy="292.5" r="2.4"/>
<circle cx="513.7" cy="296.2" r="2.4"/>
<circle cx="468.9" cy="291.4" r="2.4"/>
<circle cx="450.2" cy="287.9" r="2.4"/>
<circle cx="537.9" cy="296.6" r="2.4"/>
<circle cx="455.1" cy="286.2" r="2.4"/>
<circle cx="535.2" cy="311.6" r="2.4"/>
<circle cx="432.7" cy="277.7" r="2.4"/>
<circle cx="440" cy="301.8" r="2.4"/>
<circle cx="553.7" cy="303.9" r="2.4"/>
<circle cx="543.1" cy="298.9" r="2.4"/>
<circle cx="444.6" cy="308.2" r="2.4"/>
<circle cx="509.8" cy="298" r="2.4"/>
<circle cx="452.3" cy="288.5" r="2.4"/>
<circle cx="470.5" cy="283.1" r="2.4"/>
<circle cx="455" cy="292.7" r="2.4"/>
<circle cx="469.7" cy="313.9" r="2.4"/>
<circle cx="460.8" cy="291.2" r="2.4"/>
<circle cx="427.6" cy="301.6" r="2.4"/>
<circle cx="466.8" cy="287.1" r="2.4"/>
<circle cx="473" cy="308.1" r="2.4"/>
<circle cx="445.7" cy="297.2" r="2.4"/>
<circle cx="490.4" cy="304" r="2.4"/>
<circle cx="470.1" cy="304.2" r="2.4"/>
<circle cx="457.6" cy="321.4" r="2.4"/>
<circle cx="443" cy="293.3" r="2.4"/>
<circle cx="430.1" cy="296" r="2.4"/>
<circle cx="427.3" cy="290.8" r="2.4"/>
<circle cx="468.6" cy="313.6" r="2.4"/>
<circle cx="428.3" cy="277.9" r="2.4"/>
<circle cx="557.2" cy="304.1" r="2.4"/>
<circle cx="501.8" cy="313.2" r="2.4"/>
<circle cx="610.1" cy="289.1" r="2.4"/>
<circle cx="473.6" cy="295.2" r="2.4"/>
<circle cx="478.9" cy="298.8" r="2.4"/>
<circle cx="484.4" cy="294.8" r="2.4"/>
<circle cx="531.7" cy="301.9" r="2.4"/>
<circle cx="482.2" cy="309.5" r="2.4"/>
<circle cx="536.6" cy="298.3" r="2.4"/>
<circle cx="528.8" cy="262.8" r="2.4"/>
<circle cx="464.5" cy="292.5" r="2.4"/>
<circle cx="482.9" cy="278.8" r="2.4"/>
<circle cx="503" cy="293.3" r="2.4"/>
<circle cx="508.5" cy="297.9" r="2.4"/>
<circle cx="443.8" cy="286.8" r="2.4"/>
<circle cx="529.4" cy="298.9" r="2.4"/>
<circle cx="475.9" cy="300.6" r="2.4"/>
<circle cx="481.7" cy="304.4" r="2.4"/>
<circle cx="429" cy="299.4" r="2.4"/>
<circle cx="507.8" cy="283.4" r="2.4"/>
<circle cx="565" cy="314.9" r="2.4"/>
<circle cx="425.7" cy="305.5" r="2.4"/>
<circle cx="443.9" cy="252.9" r="2.4"/>
<circle cx="525.3" cy="292.8" r="2.4"/>
<circle cx="451.4" cy="284.3" r="2.4"/>
<circle cx="467" cy="303.9" r="2.4"/>
<circle cx="490.7" cy="291.9" r="2.4"/>
<circle cx="478.5" cy="300.6" r="2.4"/>
<circle cx="454.5" cy="294.2" r="2.4"/>
<circle cx="457" cy="307.4" r="2.4"/>
<circle cx="504.3" cy="286.8" r="2.4"/>
<circle cx="463.3" cy="308.5" r="2.4"/>
<circle cx="436.5" cy="292.5" r="2.4"/>
<circle cx="455.5" cy="294.8" r="2.4"/>
<circle cx="494" cy="305.7" r="2.4"/>
<circle cx="451.5" cy="262.2" r="2.4"/>
<circle cx="464.2" cy="301.4" r="2.4"/>
<circle cx="434.5" cy="313.2" r="2.4"/>
<circle cx="468" cy="287.7" r="2.4"/>
<circle cx="522.7" cy="311.6" r="2.4"/>
<circle cx="501.3" cy="298.5" r="2.4"/>
<circle cx="462.9" cy="306.7" r="2.4"/>
<circle cx="449.2" cy="299.4" r="2.4"/>
<circle cx="432.2" cy="299.4" r="2.4"/>
<circle cx="545" cy="295.2" r="2.4"/>
<circle cx="496.1" cy="307.9" r="2.4"/>
<circle cx="497.9" cy="305.4" r="2.4"/>
<circle cx="462.6" cy="286.2" r="2.4"/>
<circle cx="493.4" cy="287.8" r="2.4"/>
<circle cx="508.2" cy="317.2" r="2.4"/>
<circle cx="523.5" cy="290.3" r="2.4"/>
<circle cx="437.3" cy="296.5" r="2.4"/>
<circle cx="457" cy="301.7" r="2.4"/>
<circle cx="542.6" cy="299.4" r="2.4"/>
<circle cx="429.9" cy="287.8" r="2.4"/>
<circle cx="447.9" cy="296.4" r="2.4"/>
<circle cx="440.4" cy="296.8" r="2.4"/>
<circle cx="494" cy="284.3" r="2.4"/>
<circle cx="515.9" cy="292.5" r="2.4"/>
<circle cx="465.9" cy="301.1" r="2.4"/>
<circle cx="426.9" cy="292.9" r="2.4"/>
<circle cx="493.1" cy="303.6" r="2.4"/>
<circle cx="477.1" cy="307.1" r="2.4"/>
<circle cx="478.7" cy="307.3" r="2.4"/>
<circle cx="472.8" cy="303.4" r="2.4"/>
<circle cx="443.4" cy="289.9" r="2.4"/>
<circle cx="436.6" cy="289.5" r="2.4"/>
<circle cx="469.5" cy="302" r="2.4"/>
<circle cx="453.3" cy="308.5" r="2.4"/>
<circle cx="574.6" cy="294.8" r="2.4"/>
<circle cx="510" cy="295.2" r="2.4"/>
<circle cx="475.3" cy="319" r="2.4"/>
<circle cx="451.2" cy="272" r="2.4"/>
<circle cx="444.8" cy="292.9" r="2.4"/>
<circle cx="454.4" cy="290.6" r="2.4"/>
<circle cx="491.1" cy="301.1" r="2.4"/>
<circle cx="552.7" cy="299.4" r="2.4"/>
<circle cx="466.5" cy="294.1" r="2.4"/>
<circle cx="581.2" cy="306.1" r="2.4"/>
<circle cx="476.3" cy="305.1" r="2.4"/>
<circle cx="499.8" cy="296.6" r="2.4"/>
<circle cx="446.4" cy="288" r="2.4"/>
<circle cx="445.8" cy="299.6" r="2.4"/>
<circle cx="471.7" cy="266" r="2.4"/>
<circle cx="449.4" cy="302.3" r="2.4"/>
<circle cx="612.4" cy="298.8" r="2.4"/>
<circle cx="454.3" cy="316.2" r="2.4"/>
<circle cx="454.5" cy="300.3" r="2.4"/>
<circle cx="499.1" cy="296.2" r="2.4"/>
<circle cx="508.3" cy="304.9" r="2.4"/>
<circle cx="444.9" cy="281.6" r="2.4"/>
<circle cx="525.9" cy="297.5" r="2.4"/>
<circle cx="490" cy="308.9" r="2.4"/>
<circle cx="500.7" cy="303.9" r="2.4"/>
<circle cx="473.4" cy="297.9" r="2.4"/>
<circle cx="465.1" cy="294.4" r="2.4"/>
<circle cx="488" cy="294.7" r="2.4"/>
<circle cx="497" cy="295.8" r="2.4"/>
<circle cx="431.5" cy="269.2" r="2.4"/>
<circle cx="460.3" cy="287.8" r="2.4"/>
<circle cx="556.9" cy="308" r="2.4"/>
<circle cx="496.9" cy="310.1" r="2.4"/>
<circle cx="441.2" cy="297" r="2.4"/>
<circle cx="507.4" cy="296" r="2.4"/>
<circle cx="498.7" cy="300.2" r="2.4"/>
<circle cx="462.1" cy="289" r="2.4"/>
<circle cx="469.5" cy="303.3" r="2.4"/>
<circle cx="456.4" cy="301.8" r="2.4"/>
<circle cx="546.8" cy="290.2" r="2.4"/>
<circle cx="445.1" cy="317" r="2.4"/>
<circle cx="442.7" cy="308.6" r="2.4"/>
<circle cx="565.1" cy="304.3" r="2.4"/>
<circle cx="480.7" cy="297.3" r="2.4"/>
<circle cx="476.8" cy="303.4" r="2.4"/>
<circle cx="512.2" cy="297.1" r="2.4"/>
<circle cx="460.2" cy="281.6" r="2.4"/>
<circle cx="433.3" cy="292.3" r="2.4"/>
<circle cx="517.5" cy="292.8" r="2.4"/>
<circle cx="430.6" cy="280.9" r="2.4"/>
<circle cx="445.4" cy="296.7" r="2.4"/>
<circle cx="455.3" cy="286" r="2.4"/>
<circle cx="484" cy="310.5" r="2.4"/>
<circle cx="511.1" cy="302.3" r="2.4"/>
<circle cx="448.5" cy="301.8" r="2.4"/>
<circle cx="443.4" cy="305.2" r="2.4"/>
<circle cx="493.8" cy="286.1" r="2.4"/>
<circle cx="428" cy="292.6" r="2.4"/>
<circle cx="438.5" cy="312.3" r="2.4"/>
<circle cx="500" cy="286.3" r="2.4"/>
<circle cx="491.1" cy="298.1" r="2.4"/>
<circle cx="563.7" cy="296.1" r="2.4"/>
<circle cx="438.4" cy="315.6" r="2.4"/>
<circle cx="449.2" cy="297.6" r="2.4"/>
<circle cx="448" cy="294.9" r="2.4"/>
<circle cx="525.2" cy="301.2" r="2.4"/>
<circle cx="506.1" cy="288.2" r="2.4"/>
<circle cx="459.8" cy="312" r="2.4"/>
<circle cx="507.8" cy="303.9" r="2.4"/>
<circle cx="607.4" cy="301.2" r="2.4"/>
<circle cx="507.1" cy="304.3" r="2.4"/>
<circle cx="466.2" cy="300.5" r="2.4"/>
<circle cx="486" cy="299.7" r="2.4"/>
<circle cx="439.8" cy="288" r="2.4"/>
<circle cx="456.4" cy="301" r="2.4"/>
<circle cx="442" cy="285.1" r="2.4"/>
<circle cx="453" cy="289.9" r="2.4"/>
<circle cx="442" cy="304.6" r="2.4"/>
<circle cx="443.2" cy="280" r="2.4"/>
<circle cx="501" cy="293.3" r="2.4"/>
<circle cx="463.2" cy="299.3" r="2.4"/>
<circle cx="482.6" cy="304.6" r="2.4"/>
<circle cx="433.1" cy="297.3" r="2.4"/>
<circle cx="426.1" cy="280" r="2.4"/>
<circle cx="472.8" cy="295.7" r="2.4"/>
<circle cx="497.1" cy="294.4" r="2.4"/>
<circle cx="491.2" cy="296.2" r="2.4"/>
<circle cx="470.6" cy="306.4" r="2.4"/>
<circle cx="448.8" cy="295.7" r="2.4"/>
<circle cx="488.7" cy="297.9" r="2.4"/>
<circle cx="471" cy="294" r="2.4"/>
<circle cx="465.5" cy="264.4" r="2.4"/>
<circle cx="562.8" cy="265.3" r="2.4"/>
<circle cx="431.1" cy="300.3" r="2.4"/>
<circle cx="462.6" cy="288.6" r="2.4"/>
<circle cx="536.7" cy="306.3" r="2.4"/>
<circle cx="482" cy="307.2" r="2.4"/>
<circle cx="481" cy="292.8" r="2.4"/>
<circle cx="460.8" cy="296.5" r="2.4"/>
<circle cx="464.8" cy="288.5" r="2.4"/>
<circle cx="453" cy="312" r="2.4"/>
<circle cx="458.7" cy="283.9" r="2.4"/>
<circle cx="460.9" cy="311.5" r="2.4"/>
<circle cx="525.1" cy="298.9" r="2.4"/>
<circle cx="464.8" cy="282.9" r="2.4"/>
<circle cx="552.5" cy="295.2" r="2.4"/>
<circle cx="505" cy="315.8" r="2.4"/>
<circle cx="486.2" cy="294.4" r="2.4"/>
<circle cx="481.5" cy="287.3" r="2.4"/>
<circle cx="445.7" cy="279.6" r="2.4"/>
<circle cx="456.7" cy="290.8" r="2.4"/>
<circle cx="444.4" cy="308.4" r="2.4"/>
<circle cx="624.6" cy="294" r="2.4"/>
<circle cx="460.9" cy="304.3" r="2.4"/>
<circle cx="477.4" cy="296.3" r="2.4"/>
<circle cx="528.1" cy="293.1" r="2.4"/>
<circle cx="561.1" cy="311.8" r="2.4"/>
<circle cx="444.2" cy="285.3" r="2.4"/>
<circle cx="499.2" cy="304.4" r="2.4"/>
<circle cx="549.9" cy="293.6" r="2.4"/>
<circle cx="513.5" cy="283.4" r="2.4"/>
<circle cx="471.8" cy="243.5" r="2.4"/>
<circle cx="469.5" cy="296.5" r="2.4"/>
<circle cx="449.5" cy="290.8" r="2.4"/>
<circle cx="461.4" cy="312.8" r="2.4"/>
<circle cx="491.3" cy="298.6" r="2.4"/>
<circle cx="481.4" cy="291.8" r="2.4"/>
<circle cx="437.2" cy="298.2" r="2.4"/>
<circle cx="475.1" cy="265.2" r="2.4"/>
<circle cx="488.3" cy="308.6" r="2.4"/>
<circle cx="436.7" cy="318.4" r="2.4"/>
<circle cx="495.6" cy="298.4" r="2.4"/>
<circle cx="484.4" cy="310.4" r="2.4"/>
<circle cx="488.6" cy="310.4" r="2.4"/>
<circle cx="525.2" cy="305.1" r="2.4"/>
<circle cx="433.3" cy="298.4" r="2.4"/>
<circle cx="458.1" cy="304.2" r="2.4"/>
<circle cx="480.4" cy="305.4" r="2.4"/>
<circle cx="485.2" cy="300.1" r="2.4"/>
<circle cx="446.2" cy="286.3" r="2.4"/>
<circle cx="441.7" cy="291.2" r="2.4"/>
<circle cx="524.7" cy="301.3" r="2.4"/>
<circle cx="471.3" cy="283.9" r="2.4"/>
<circle cx="535.1" cy="306.5" r="2.4"/>
<circle cx="437.2" cy="286.7" r="2.4"/>
<circle cx="479.2" cy="291.4" r="2.4"/>
<circle cx="504.5" cy="303" r="2.4"/>
<circle cx="534.8" cy="297.1" r="2.4"/>
<circle cx="428.5" cy="299.6" r="2.4"/>
<circle cx="438.9" cy="320.1" r="2.4"/>
<circle cx="469.3" cy="252.8" r="2.4"/>
<circle cx="471.7" cy="283.5" r="2.4"/>
<circle cx="476.4" cy="308" r="2.4"/>
<circle cx="516.5" cy="288.3" r="2.4"/>
<circle cx="449.4" cy="299.8" r="2.4"/>
<circle cx="494.3" cy="298.5" r="2.4"/>
<circle cx="471.4" cy="311.1" r="2.4"/>
<circle cx="448.5" cy="298" r="2.4"/>
<circle cx="567.2" cy="290.4" r="2.4"/>
<circle cx="432.3" cy="270.5" r="2.4"/>
<circle cx="618.5" cy="302.5" r="2.4"/>
<circle cx="506.5" cy="295" r="2.4"/>
<circle cx="463.3" cy="291.9" r="2.4"/>
<circle cx="461.8" cy="290.2" r="2.4"/>
<circle cx="470.8" cy="295.5" r="2.4"/>
<circle cx="446" cy="293.3" r="2.4"/>
<circle cx="511.2" cy="291.8" r="2.4"/>
<circle cx="470.4" cy="308.3" r="2.4"/>
<circle cx="429.2" cy="297.7" r="2.4"/>
<circle cx="486.5" cy="294" r="2.4"/>
<circle cx="513.9" cy="316.6" r="2.4"/>
<circle cx="494.3" cy="299.2" r="2.4"/>
<circle cx="512.7" cy="286.1" r="2.4"/>
<circle cx="445.2" cy="296" r="2.4"/>
<circle cx="563.7" cy="301.6" r="2.4"/>
<circle cx="498.5" cy="300.4" r="2.4"/>
<circle cx="481.2" cy="296.2" r="2.4"/>
<circle cx="500.1" cy="293.9" r="2.4"/>
<circle cx="547.1" cy="298.4" r="2.4"/>
<circle cx="538" cy="296.7" r="2.4"/>
<circle cx="442.3" cy="300.9" r="2.4"/>
<circle cx="496.2" cy="288" r="2.4"/>
<circle cx="426.9" cy="283.3" r="2.4"/>
<circle cx="441" cy="302.2" r="2.4"/>
<circle cx="432.6" cy="295.1" r="2.4"/>
<circle cx="431.2" cy="290.2" r="2.4"/>
<circle cx="445.6" cy="286.8" r="2.4"/>
<circle cx="446.8" cy="285.1" r="2.4"/>
<circle cx="555.5" cy="306.8" r="2.4"/>
<circle cx="475.2" cy="308" r="2.4"/>
<circle cx="442.6" cy="285" r="2.4"/>
<circle cx="469.5" cy="316" r="2.4"/>
<circle cx="488.8" cy="307.1" r="2.4"/>
<circle cx="435" cy="301.5" r="2.4"/>
<circle cx="477.6" cy="291.5" r="2.4"/>
<circle cx="439.2" cy="290.1" r="2.4"/>
<circle cx="490" cy="279.4" r="2.4"/>
<circle cx="523.4" cy="309.3" r="2.4"/>
<circle cx="528.3" cy="313.2" r="2.4"/>
<circle cx="426.8" cy="290.4" r="2.4"/>
<circle cx="487.4" cy="274.7" r="2.4"/>
<circle cx="507.8" cy="297.4" r="2.4"/>
<circle cx="449.9" cy="290" r="2.4"/>
<circle cx="503.3" cy="275.6" r="2.4"/>
<circle cx="545.9" cy="306.6" r="2.4"/>
<circle cx="458.4" cy="318.4" r="2.4"/>
<circle cx="480" cy="314.4" r="2.4"/>
<circle cx="457.4" cy="301.8" r="2.4"/>
<circle cx="464.5" cy="293.7" r="2.4"/>
<circle cx="489.8" cy="297.2" r="2.4"/>
<circle cx="433" cy="296.5" r="2.4"/>
<circle cx="458" cy="301.9" r="2.4"/>
<circle cx="437.1" cy="306.3" r="2.4"/>
<circle cx="455.6" cy="312.6" r="2.4"/>
<circle cx="506.3" cy="296.7" r="2.4"/>
<circle cx="466.2" cy="313.4" r="2.4"/>
<circle cx="492.1" cy="307.9" r="2.4"/>
<circle cx="433.9" cy="293.8" r="2.4"/>
<circle cx="426.4" cy="310.8" r="2.4"/>
<circle cx="473" cy="295.3" r="2.4"/>
<circle cx="472.6" cy="304.6" r="2.4"/>
<circle cx="449.2" cy="302.8" r="2.4"/>
<circle cx="479.8" cy="290.3" r="2.4"/>
<circle cx="429.2" cy="296.7" r="2.4"/>
<circle cx="481.9" cy="294.1" r="2.4"/>
<circle cx="446.6" cy="299.7" r="2.4"/>
<circle cx="444.3" cy="304.1" r="2.4"/>
<circle cx="449.7" cy="287.4" r="2.4"/>
<circle cx="442.6" cy="253.8" r="2.4"/>
<circle cx="507.1" cy="302.3" r="2.4"/>
<circle cx="457" cy="292.2" r="2.4"/>
<circle cx="447.6" cy="294.4" r="2.4"/>
<circle cx="452.6" cy="286.9" r="2.4"/>
<circle cx="502.7" cy="306.5" r="2.4"/>
<circle cx="475.2" cy="313.1" r="2.4"/>
<circle cx="445" cy="292.2" r="2.4"/>
<circle cx="436.8" cy="288" r="2.4"/>
<circle cx="525.6" cy="302" r="2.4"/>
<circle cx="475.4" cy="296.7" r="2.4"/>
<circle cx="495.1" cy="300.5" r="2.4"/>
<circle cx="476.5" cy="293.4" r="2.4"/>
<circle cx="469.9" cy="311.8" r="2.4"/>
<circle cx="489.1" cy="300.2" r="2.4"/>
<circle cx="428.7" cy="272" r="2.4"/>
<circle cx="476.2" cy="284.1" r="2.4"/>
<circle cx="438" cy="291.4" r="2.4"/>
<circle cx="525.6" cy="293.7" r="2.4"/>
<circle cx="449.5" cy="299.8" r="2.4"/>
<circle cx="495.4" cy="296.4" r="2.4"/>
<circle cx="520.9" cy="305.8" r="2.4"/>
<circle cx="543.6" cy="297.9" r="2.4"/>
<circle cx="445.3" cy="300" r="2.4"/>
<circle cx="468.4" cy="287.4" r="2.4"/>
<circle cx="480.3" cy="288.5" r="2.4"/>
<circle cx="470" cy="295" r="2.4"/>
<circle cx="446.1" cy="241.7" r="2.4"/>
<circle cx="450.7" cy="270.2" r="2.4"/>
<circle cx="436.3" cy="317.5" r="2.4"/>
<circle cx="452.9" cy="298.3" r="2.4"/>
<circle cx="553.4" cy="298.8" r="2.4"/>
<circle cx="487" cy="306.2" r="2.4"/>
<circle cx="438.2" cy="300.1" r="2.4"/>
<circle cx="567.9" cy="293" r="2.4"/>
<circle cx="463.9" cy="290.1" r="2.4"/>
<circle cx="427" cy="295.5" r="2.4"/>
<circle cx="441.9" cy="302.6" r="2.4"/>
<circle cx="495.3" cy="299.6" r="2.4"/>
<circle cx="448.3" cy="291.2" r="2.4"/>
<circle cx="470.8" cy="305.4" r="2.4"/>
<circle cx="446.7" cy="290.2" r="2.4"/>
<circle cx="542.6" cy="315" r="2.4"/>
<circle cx="480.1" cy="295.6" r="2.4"/>
<circle cx="463.6" cy="283.1" r="2.4"/>
<circle cx="506" cy="313.6" r="2.4"/>
<circle cx="443" cy="294.6" r="2.4"/>
<circle cx="443.7" cy="313.1" r="2.4"/>
<circle cx="460.2" cy="296.4" r="2.4"/>
<circle cx="434" cy="298.5" r="2.4"/>
<circle cx="438.7" cy="247.5" r="2.4"/>
<circle cx="521.6" cy="300.6" r="2.4"/>
<circle cx="541.3" cy="279" r="2.4"/>
<circle cx="475.2" cy="314.2" r="2.4"/>
<circle cx="527.1" cy="301.9" r="2.4"/>
<circle cx="470.2" cy="285.6" r="2.4"/>
<circle cx="477.2" cy="314.1" r="2.4"/>
<circle cx="511.3" cy="307.1" r="2.4"/>
<circle cx="504" cy="321.5" r="2.4"/>
<circle cx="443.7" cy="283.8" r="2.4"/>
<circle cx="481.7" cy="297.2" r="2.4"/>
<circle cx="462.6" cy="287.7" r="2.4"/>
<circle cx="427.8" cy="303.8" r="2.4"/>
<circle cx="453.7" cy="298.6" r="2.4"/>
<circle cx="509.4" cy="297.2" r="2.4"/>
<circle cx="522.4" cy="298.3" r="2.4"/>
<circle cx="465.9" cy="295" r="2.4"/>
<circle cx="493.7" cy="299.7" r="2.4"/>
<circle cx="429" cy="283.8" r="2.4"/>
<circle cx="551.1" cy="310.3" r="2.4"/>
<circle cx="497.7" cy="297.7" r="2.4"/>
<circle cx="486.7" cy="297.1" r="2.4"/>
<circle cx="447.1" cy="292.1" r="2.4"/>
<circle cx="436" cy="303" r="2.4"/>
<circle cx="503.8" cy="312.8" r="2.4"/>
<circle cx="534.1" cy="301.6" r="2.4"/>
<circle cx="511.3" cy="307" r="2.4"/>
<circle cx="480.9" cy="292.7" r="2.4"/>
<circle cx="449.2" cy="294.7" r="2.4"/>
<circle cx="548.7" cy="288" r="2.4"/>
<circle cx="512.2" cy="291.9" r="2.4"/>
<circle cx="452.7" cy="268.7" r="2.4"/>
<circle cx="538.6" cy="305.7" r="2.4"/>
<circle cx="479.2" cy="288.7" r="2.4"/>
<circle cx="428.4" cy="322.5" r="2.4"/>
<circle cx="440.4" cy="286.9" r="2.4"/>
<circle cx="436.3" cy="291.5" r="2.4"/>
<circle cx="510.6" cy="311.6" r="2.4"/>
<circle cx="587.5" cy="307.7" r="2.4"/>
<circle cx="458.7" cy="309.3" r="2.4"/>
<circle cx="455.5" cy="298.8" r="2.4"/>
<circle cx="439.8" cy="286.4" r="2.4"/>
<circle cx="463.2" cy="304.7" r="2.4"/>
<circle cx="452.7" cy="284.9" r="2.4"/>
<circle cx="541.5" cy="303.5" r="2.4"/>
<circle cx="537.5" cy="302.8" r="2.4"/>
<circle cx="515.2" cy="300.2" r="2.4"/>
<circle cx="498.2" cy="297.4" r="2.4"/>
<circle cx="478.3" cy="294" r="2.4"/>
<circle cx="468.6" cy="300.1" r="2.4"/>
<circle cx="430.1" cy="290.3" r="2.4"/>
<circle cx="474.9" cy="289.4" r="2.4"/>
<circle cx="617.6" cy="290.5" r="2.4"/>
<circle cx="469" cy="300.7" r="2.4"/>
<circle cx="555.1" cy="300.4" r="2.4"/>
<circle cx="603.3" cy="311" r="2.4"/>
<circle cx="462.1" cy="314.4" r="2.4"/>
<circle cx="450.6" cy="287.9" r="2.4"/>
<circle cx="448.6" cy="297.2" r="2.4"/>
<circle cx="444.1" cy="289.6" r="2.4"/>
<circle cx="462.3" cy="289.6" r="2.4"/>
<circle cx="431.4" cy="297.7" r="2.4"/>
<circle cx="445.5" cy="314.7" r="2.4"/>
<circle cx="452" cy="289.9" r="2.4"/>
<circle cx="438.1" cy="312" r="2.4"/>
<circle cx="512.5" cy="302.7" r="2.4"/>
<circle cx="487.5" cy="303.7" r="2.4"/>
<circle cx="439" cy="307.5" r="2.4"/>
<circle cx="488.6" cy="291.5" r="2.4"/>
<circle cx="434.3" cy="309.9" r="2.4"/>
<circle cx="530.3" cy="301" r="2.4"/>
<circle cx="505.8" cy="304.1" r="2.4"/>
<circle cx="521.5" cy="292.5" r="2.4"/>
<circle cx="507.2" cy="296.1" r="2.4"/>
<circle cx="476.3" cy="285.3" r="2.4"/>
<circle cx="574.5" cy="303" r="2.4"/>
<circle cx="565.9" cy="299.2" r="2.4"/>
<circle cx="477.1" cy="281.7" r="2.4"/>
<circle cx="512" cy="274.9" r="2.4"/>
<circle cx="496.9" cy="307.3" r="2.4"/>
<circle cx="482.6" cy="281" r="2.4"/>
<circle cx="458.3" cy="312.5" r="2.4"/>
<circle cx="537.8" cy="310.7" r="2.4"/>
<circle cx="478.8" cy="307.6" r="2.4"/>
<circle cx="495.6" cy="300.6" r="2.4"/>
<circle cx="447" cy="289.8" r="2.4"/>
<circle cx="430.5" cy="307.1" r="2.4"/>
<circle cx="465.5" cy="300.8" r="2.4"/>
<circle cx="436.6" cy="300.4" r="2.4"/>
<circle cx="472.5" cy="289.3" r="2.4"/>
<circle cx="428.3" cy="322" r="2.4"/>
<circle cx="472.9" cy="310.7" r="2.4"/>
<circle cx="569.7" cy="295.3" r="2.4"/>
<circle cx="447.5" cy="284.5" r="2.4"/>
<circle cx="480.8" cy="308.5" r="2.4"/>
<circle cx="501.4" cy="293.2" r="2.4"/>
<circle cx="434.4" cy="300.3" r="2.4"/>
<circle cx="462.8" cy="271.9" r="2.4"/>
<circle cx="529.8" cy="289.2" r="2.4"/>
<circle cx="456.1" cy="294.8" r="2.4"/>
<circle cx="436.5" cy="282.5" r="2.4"/>
<circle cx="431.5" cy="302.5" r="2.4"/>
<circle cx="440.9" cy="303" r="2.4"/>
<circle cx="475.7" cy="306" r="2.4"/>
<circle cx="460.7" cy="296.2" r="2.4"/>
<circle cx="440.3" cy="294.4" r="2.4"/>
<circle cx="511.3" cy="300" r="2.4"/>
<circle cx="435.9" cy="297.3" r="2.4"/>
<circle cx="492.9" cy="303.9" r="2.4"/>
<circle cx="447.3" cy="297.3" r="2.4"/>
<circle cx="456.5" cy="297.3" r="2.4"/>
<circle cx="434.8" cy="259.5" r="2.4"/>
<circle cx="494.1" cy="301.4" r="2.4"/>
<circle cx="451.3" cy="283.1" r="2.4"/>
<circle cx="542.8" cy="289.3" r="2.4"/>
<circle cx="442" cy="260.9" r="2.4"/>
<circle cx="427.6" cy="291.1" r="2.4"/>
<circle cx="432.9" cy="317.4" r="2.4"/>
<circle cx="438.7" cy="285.4" r="2.4"/>
<circle cx="499.4" cy="302.7" r="2.4"/>
<circle cx="486.9" cy="289.9" r="2.4"/>
<circle cx="455.2" cy="303.3" r="2.4"/>
<circle cx="565.5" cy="305.3" r="2.4"/>
<circle cx="544.4" cy="296.8" r="2.4"/>
<circle cx="470.4" cy="306.3" r="2.4"/>
<circle cx="533.8" cy="302.6" r="2.4"/>
<circle cx="450.3" cy="307.1" r="2.4"/>
<circle cx="499.6" cy="308.1" r="2.4"/>
<circle cx="431.2" cy="283.6" r="2.4"/>
<circle cx="437.4" cy="308.5" r="2.4"/>
<circle cx="470.5" cy="301.9" r="2.4"/>
<circle cx="531.5" cy="301" r="2.4"/>
<circle cx="476.3" cy="310.2" r="2.4"/>
<circle cx="458.9" cy="248.1" r="2.4"/>
<circle cx="537.9" cy="297.2" r="2.4"/>
<circle cx="462.4" cy="309.5" r="2.4"/>
<circle cx="426.2" cy="297.2" r="2.4"/>
<circle cx="452.7" cy="305.5" r="2.4"/>
<circle cx="428" cy="297.1" r="2.4"/>
<circle cx="436.7" cy="308.2" r="2.4"/>
<circle cx="449.8" cy="291" r="2.4"/>
<circle cx="506.5" cy="316.4" r="2.4"/>
<circle cx="446.8" cy="315" r="2.4"/>
<circle cx="512.4" cy="294.7" r="2.4"/>
<circle cx="478" cy="289.2" r="2.4"/>
<circle cx="435.8" cy="251.1" r="2.4"/>
<circle cx="451" cy="307.4" r="2.4"/>
<circle cx="537.2" cy="283.4" r="2.4"/>
<circle cx="440.5" cy="306.4" r="2.4"/>
<circle cx="460" cy="301.7" r="2.4"/>
<circle cx="431" cy="287.3" r="2.4"/>
<circle cx="439.7" cy="290.2" r="2.4"/>
<circle cx="427.5" cy="300.4" r="2.4"/>
<circle cx="448.9" cy="321.6" r="2.4"/>
<circle cx="454" cy="299.3" r="2.4"/>
<circle cx="426.4" cy="286.3" r="2.4"/>
<circle cx="441.8" cy="309.6" r="2.4"/>
<circle cx="444.7" cy="320.7" r="2.4"/>
<circle cx="548.3" cy="306.9" r="2.4"/>
<circle cx="473.4" cy="300.4" r="2.4"/>
<circle cx="485.2" cy="311.3" r="2.4"/>
<circle cx="444.3" cy="286.2" r="2.4"/>
<circle cx="460.9" cy="297.5" r="2.4"/>
<circle cx="432.4" cy="291.6" r="2.4"/>
<circle cx="473.5" cy="295.8" r="2.4"/>
<circle cx="478.8" cy="312" r="2.4"/>
<circle cx="446" cy="286.2" r="2.4"/>
<circle cx="478.6" cy="281.4" r="2.4"/>
<circle cx="503.6" cy="293.7" r="2.4"/>
<circle cx="458.2" cy="295.4" r="2.4"/>
<circle cx="472.7" cy="306" r="2.4"/>
<circle cx="474.1" cy="301.3" r="2.4"/>
<circle cx="457.2" cy="286.4" r="2.4"/>
<circle cx="483.2" cy="293.5" r="2.4"/>
<circle cx="475.3" cy="293.6" r="2.4"/>
<circle cx="427.8" cy="287.4" r="2.4"/>
<circle cx="569.9" cy="304.7" r="2.4"/>
<circle cx="579.6" cy="298.2" r="2.4"/>
<circle cx="460.4" cy="283.5" r="2.4"/>
<circle cx="540.6" cy="304.1" r="2.4"/>
<circle cx="455.1" cy="308.8" r="2.4"/>
<circle cx="512.2" cy="286.4" r="2.4"/>
<circle cx="440.4" cy="308.6" r="2.4"/>
<circle cx="543.7" cy="298.1" r="2.4"/>
<circle cx="464" cy="290" r="2.4"/>
<circle cx="426.7" cy="302.6" r="2.4"/>
<circle cx="449" cy="293" r="2.4"/>
<circle cx="459.1" cy="304" r="2.4"/>
<circle cx="433.2" cy="314.9" r="2.4"/>
<circle cx="495.2" cy="291.9" r="2.4"/>
<circle cx="510.4" cy="295.9" r="2.4"/>
<circle cx="491.3" cy="294.7" r="2.4"/>
<circle cx="588.2" cy="293" r="2.4"/>
<circle cx="429.6" cy="297.6" r="2.4"/>
<circle cx="458.8" cy="286" r="2.4"/>
<circle cx="456.8" cy="280.7" r="2.4"/>
<circle cx="426.9" cy="309" r="2.4"/>
<circle cx="442.9" cy="302.8" r="2.4"/>
<circle cx="484.2" cy="298" r="2.4"/>
<circle cx="460.2" cy="298.7" r="2.4"/>
<circle cx="606.4" cy="304.1" r="2.4"/>
<circle cx="500.9" cy="299.7" r="2.4"/>
<circle cx="470.4" cy="299.8" r="2.4"/>
<circle cx="429.8" cy="313.3" r="2.4"/>
<circle cx="471.7" cy="291.3" r="2.4"/>
<circle cx="471.1" cy="271.2" r="2.4"/>
<circle cx="435.6" cy="305.8" r="2.4"/>
<circle cx="524.3" cy="303.8" r="2.4"/>
<circle cx="432.5" cy="300.9" r="2.4"/>
<circle cx="440.8" cy="298.4" r="2.4"/>
<circle cx="519.6" cy="289.9" r="2.4"/>
<circle cx="426.2" cy="285.4" r="2.4"/>
<circle cx="488.8" cy="309.5" r="2.4"/>
<circle cx="444.4" cy="290.8" r="2.4"/>
<circle cx="481.6" cy="297.2" r="2.4"/>
<circle cx="560.6" cy="299" r="2.4"/>
<circle cx="628.1" cy="294.4" r="2.4"/>
<circle cx="462.8" cy="278.5" r="2.4"/>
<circle cx="493.8" cy="300.2" r="2.4"/>
<circle cx="535.3" cy="305.8" r="2.4"/>
<circle cx="529.4" cy="292.9" r="2.4"/>
<circle cx="477.2" cy="309.9" r="2.4"/>
<circle cx="446.8" cy="246" r="2.4"/>
<circle cx="483.8" cy="280" r="2.4"/>
<circle cx="468.2" cy="299.9" r="2.4"/>
<circle cx="528.5" cy="286.5" r="2.4"/>
<circle cx="434.7" cy="306.1" r="2.4"/>
<circle cx="427.5" cy="293.3" r="2.4"/>
<circle cx="427.3" cy="284.9" r="2.4"/>
<circle cx="489" cy="293.9" r="2.4"/>
</g>
<path d="M504,288.8 H699" stroke="#000" stroke-width="3.6" stroke-dasharray="11.3 9" stroke-dashoffset="-1.6"/>
<path d="M423.7,147 V337.8 M421.9,336 H706" stroke="#000" stroke-width="3.6" fill="none"/>
<path d="M418.2,336H423M418.2,298.5H423M418.2,261H423M418.2,223.5H423M418.2,186H423M418.2,148.5H423M423.7,337V341.8M479.8,337V341.8M535.9,337V341.8M592,337V341.8M648.1,337V341.8M704.2,337V341.8" stroke="#000" stroke-width="3.4"/>
<text x="416.5" y="341" font-size="15" font-weight="bold" text-anchor="end" fill="#000" >0.0</text>
<text x="416.5" y="303.5" font-size="15" font-weight="bold" text-anchor="end" fill="#000" >0.5</text>
<text x="416.5" y="266" font-size="15" font-weight="bold" text-anchor="end" fill="#000" >1.0</text>
<text x="416.5" y="228.5" font-size="15" font-weight="bold" text-anchor="end" fill="#000" >1.5</text>
<text x="416.5" y="191" font-size="15" font-weight="bold" text-anchor="end" fill="#000" >2.0</text>
<text x="416.5" y="153.5" font-size="15" font-weight="bold" text-anchor="end" fill="#000" >2.5</text>
<text x="423.7" y="360.2" font-size="15" font-weight="bold" text-anchor="middle" fill="#000" >0</text>
<text x="479.8" y="360.2" font-size="15" font-weight="bold" text-anchor="middle" fill="#000" >10</text>
<text x="535.9" y="360.2" font-size="15" font-weight="bold" text-anchor="middle" fill="#000" >20</text>
<text x="592" y="360.2" font-size="15" font-weight="bold" text-anchor="middle" fill="#000" >30</text>
<text x="648.1" y="360.2" font-size="15" font-weight="bold" text-anchor="middle" fill="#000" >40</text>
<text x="704.2" y="360.2" font-size="15" font-weight="bold" text-anchor="middle" fill="#000" >50</text>
<text x="504.5" y="385" font-size="16.8" font-weight="bold" text-anchor="start" fill="#000" >Velocity [µm/min]</text>
<text transform="translate(389.3,275.5) rotate(-90)" font-size="16.8" font-weight="bold">YFP/CFP</text>
<path d="M593,225 V289 M587,225 H599.3" stroke="#000" stroke-width="2.6"/>
<text x="607.5" y="262.8" font-size="14.5" font-weight="bold" text-anchor="start" fill="#000" >5 %</text>
<text x="665" y="283.3" font-size="15" font-weight="bold" text-anchor="start" fill="#000" >0.63</text>
</g>
<g id="D">
<text x="0.8" y="411.3" font-size="23" font-weight="normal" text-anchor="start" fill="#000" >D</text>
<rect x="169.2" y="405" width="34.6" height="203" fill="#cbcbcb"/>
<path d="M52.2,514 H352" stroke="#000" stroke-width="3.3" stroke-dasharray="8 6.8"/>
<polyline points="51.2,541.9 61,545.5 70.7,526.7 80.5,564.4 90.2,514.4 100,536.1 109.7,550.5 119.5,524.7 129.3,521.4 139,548.4 148.8,548 158.5,541 168.3,516.5 178,485.8 187.8,436.2 197.5,446 207.3,561.5 217.1,527.9 226.8,547.6 236.6,515.7 246.3,562.7 256.1,542.7 265.8,514.4 275.6,577.5 285.4,555.8 295.1,535.3 304.9,537.8 314.6,537.8 324.4,540.2 334.1,526.7 343.9,562.7" fill="none" stroke="#a3141f" stroke-width="2.2" stroke-linejoin="round"/>
<rect x="49.2" y="539.9" width="4" height="4" fill="#a3141f"/>
<rect x="59" y="543.5" width="4" height="4" fill="#a3141f"/>
<rect x="68.7" y="524.7" width="4" height="4" fill="#a3141f"/>
<rect x="78.5" y="562.4" width="4" height="4" fill="#a3141f"/>
<rect x="88.2" y="512.4" width="4" height="4" fill="#a3141f"/>
<rect x="98" y="534.1" width="4" height="4" fill="#a3141f"/>
<rect x="107.7" y="548.5" width="4" height="4" fill="#a3141f"/>
<rect x="117.5" y="522.7" width="4" height="4" fill="#a3141f"/>
<rect x="127.3" y="519.4" width="4" height="4" fill="#a3141f"/>
<rect x="137" y="546.4" width="4" height="4" fill="#a3141f"/>
<rect x="146.8" y="546" width="4" height="4" fill="#a3141f"/>
<rect x="156.5" y="539" width="4" height="4" fill="#a3141f"/>
<rect x="166.3" y="514.5" width="4" height="4" fill="#a3141f"/>
<rect x="176" y="483.8" width="4" height="4" fill="#a3141f"/>
<rect x="185.8" y="434.2" width="4" height="4" fill="#a3141f"/>
<rect x="195.5" y="444" width="4" height="4" fill="#a3141f"/>
<rect x="205.3" y="559.5" width="4" height="4" fill="#a3141f"/>
<rect x="215.1" y="525.9" width="4" height="4" fill="#a3141f"/>
<rect x="224.8" y="545.6" width="4" height="4" fill="#a3141f"/>
<rect x="234.6" y="513.7" width="4" height="4" fill="#a3141f"/>
<rect x="244.3" y="560.7" width="4" height="4" fill="#a3141f"/>
<rect x="254.1" y="540.7" width="4" height="4" fill="#a3141f"/>
<rect x="263.8" y="512.4" width="4" height="4" fill="#a3141f"/>
<rect x="273.6" y="575.5" width="4" height="4" fill="#a3141f"/>
<rect x="283.4" y="553.8" width="4" height="4" fill="#a3141f"/>
<rect x="293.1" y="533.3" width="4" height="4" fill="#a3141f"/>
<rect x="302.9" y="535.8" width="4" height="4" fill="#a3141f"/>
<rect x="312.6" y="535.8" width="4" height="4" fill="#a3141f"/>
<rect x="322.4" y="538.2" width="4" height="4" fill="#a3141f"/>
<rect x="332.1" y="524.7" width="4" height="4" fill="#a3141f"/>
<rect x="341.9" y="560.7" width="4" height="4" fill="#a3141f"/>
<polyline points="60.3,432.2 70,545.1 79.8,502.8 89.6,584.7 99.4,452.6 109.2,579.8 118.9,556 128.7,582.6 138.5,534.5 148.3,546.1 158.1,553.3 167.8,546.1 177.6,561.6 187.4,592 197.2,592 207,514.7 216.7,559.3 226.5,580.2 236.3,555.3 246.1,527.9 255.9,509.6 265.7,532.9 275.4,580.8 285.2,494.1 295,594.1 304.8,564.3 314.6,518.6 324.3,553.3 334.1,578.1 343.9,526.8" fill="none" stroke="#000" stroke-width="2.2" stroke-linejoin="round"/>
<circle cx="60.3" cy="432.2" r="2.3" fill="#000"/>
<circle cx="70" cy="545.1" r="2.3" fill="#000"/>
<circle cx="79.8" cy="502.8" r="2.3" fill="#000"/>
<circle cx="89.6" cy="584.7" r="2.3" fill="#000"/>
<circle cx="99.4" cy="452.6" r="2.3" fill="#000"/>
<circle cx="109.2" cy="579.8" r="2.3" fill="#000"/>
<circle cx="118.9" cy="556" r="2.3" fill="#000"/>
<circle cx="128.7" cy="582.6" r="2.3" fill="#000"/>
<circle cx="138.5" cy="534.5" r="2.3" fill="#000"/>
<circle cx="148.3" cy="546.1" r="2.3" fill="#000"/>
<circle cx="158.1" cy="553.3" r="2.3" fill="#000"/>
<circle cx="167.8" cy="546.1" r="2.3" fill="#000"/>
<circle cx="177.6" cy="561.6" r="2.3" fill="#000"/>
<circle cx="187.4" cy="592" r="2.3" fill="#000"/>
<circle cx="197.2" cy="592" r="2.3" fill="#000"/>
<circle cx="207" cy="514.7" r="2.3" fill="#000"/>
<circle cx="216.7" cy="559.3" r="2.3" fill="#000"/>
<circle cx="226.5" cy="580.2" r="2.3" fill="#000"/>
<circle cx="236.3" cy="555.3" r="2.3" fill="#000"/>
<circle cx="246.1" cy="527.9" r="2.3" fill="#000"/>
<circle cx="255.9" cy="509.6" r="2.3" fill="#000"/>
<circle cx="265.7" cy="532.9" r="2.3" fill="#000"/>
<circle cx="275.4" cy="580.8" r="2.3" fill="#000"/>
<circle cx="285.2" cy="494.1" r="2.3" fill="#000"/>
<circle cx="295" cy="594.1" r="2.3" fill="#000"/>
<circle cx="304.8" cy="564.3" r="2.3" fill="#000"/>
<circle cx="314.6" cy="518.6" r="2.3" fill="#000"/>
<circle cx="324.3" cy="553.3" r="2.3" fill="#000"/>
<circle cx="334.1" cy="578.1" r="2.3" fill="#000"/>
<circle cx="343.9" cy="526.8" r="2.3" fill="#000"/>
<path d="M51.7,402 V609.5 M46.5,608 H358 M353,402 V609.5" stroke="#000" stroke-width="3" fill="none"/>
<path d="M45,608.2H51M45,557H51M45,505.9H51M45,454.7H51M45,403.5H51M353,608.2H358M353,567.2H358M353,526.3H358M353,485.4H358M353,444.4H358M353,403.5H358M51.2,608V613.2M97.7,608V613.2M144.1,608V613.2M190.6,608V613.2M237,608V613.2M283.5,608V613.2M330,608V613.2" stroke="#000" stroke-width="3"/>
<text x="44" y="613.2" font-size="15" font-weight="bold" text-anchor="end" fill="#000" >0</text>
<text x="44" y="562" font-size="15" font-weight="bold" text-anchor="end" fill="#000" >5</text>
<text x="44" y="510.9" font-size="15" font-weight="bold" text-anchor="end" fill="#000" >10</text>
<text x="44" y="459.7" font-size="15" font-weight="bold" text-anchor="end" fill="#000" >15</text>
<text x="44" y="408.5" font-size="15" font-weight="bold" text-anchor="end" fill="#000" >20</text>
<text x="362.8" y="613.6" font-size="15.4" font-weight="bold" text-anchor="start" fill="#000" >0.4</text>
<text x="362.8" y="572.6" font-size="15.4" font-weight="bold" text-anchor="start" fill="#000" >0.5</text>
<text x="362.8" y="531.7" font-size="15.4" font-weight="bold" text-anchor="start" fill="#000" >0.6</text>
<text x="362.8" y="490.8" font-size="15.4" font-weight="bold" text-anchor="start" fill="#000" >0.7</text>
<text x="362.8" y="449.8" font-size="15.4" font-weight="bold" text-anchor="start" fill="#000" >0.8</text>
<text x="362.8" y="408.9" font-size="15.4" font-weight="bold" text-anchor="start" fill="#000" >0.9</text>
<text x="51.2" y="631.5" font-size="15" font-weight="bold" text-anchor="middle" fill="#000" >0</text>
<text x="97.7" y="631.5" font-size="15" font-weight="bold" text-anchor="middle" fill="#000" >2</text>
<text x="144.1" y="631.5" font-size="15" font-weight="bold" text-anchor="middle" fill="#000" >4</text>
<text x="190.6" y="631.5" font-size="15" font-weight="bold" text-anchor="middle" fill="#000" >6</text>
<text x="237" y="631.5" font-size="15" font-weight="bold" text-anchor="middle" fill="#000" >8</text>
<text x="283.5" y="631.5" font-size="15" font-weight="bold" text-anchor="middle" fill="#000" >10</text>
<text x="330" y="631.5" font-size="15" font-weight="bold" text-anchor="middle" fill="#000" >12</text>
<text x="160.5" y="654.7" font-size="17.2" font-weight="bold" text-anchor="start" fill="#000" >Time [min]</text>
<text transform="translate(19,574.5) rotate(-90)" font-size="16.8" font-weight="bold">Velocity [µm/min]</text>
<text transform="translate(396.2,471.4) rotate(90)" font-size="16.8" font-weight="bold">YFP/CFP</text>
<path d="M239.8,413.3 H260.4" stroke="#000" stroke-width="2.2"/><circle cx="250" cy="413.3" r="2.3"/>
<text x="273.5" y="419" font-size="16.4" font-weight="bold" text-anchor="start" fill="#000" >Velocity</text>
<path d="M239.8,440.5 H260.4" stroke="#a3141f" stroke-width="2.2"/><rect x="248" y="438.5" width="4" height="4" fill="#a3141f"/>
<text x="275.3" y="446.3" font-size="16.4" font-weight="bold" text-anchor="start" fill="#000" >YFP/CFP</text>
</g>
<g id="E">
<text x="405" y="411.3" font-size="23" font-weight="normal" text-anchor="start" fill="#000" >E</text>
<rect x="442.5" y="407.5" width="80.3" height="100" fill="#0d0612"/>
<g clip-path="url(#clipE)"><g filter="url(#bl15)">
<ellipse cx="452.8" cy="452.8" rx="3" ry="5.1" fill="rgb(168,10,25)" opacity="0.68"/>
<ellipse cx="449.8" cy="417.7" rx="3.9" ry="3.7" fill="rgb(164,15,18)" opacity="0.60"/>
<ellipse cx="466.6" cy="485.6" rx="5.4" ry="4.1" fill="rgb(96,10,23)" opacity="0.73"/>
<ellipse cx="521.7" cy="427.1" rx="4.2" ry="7.1" fill="rgb(129,18,24)" opacity="0.52"/>
<ellipse cx="495.2" cy="418" rx="4.3" ry="4.1" fill="rgb(70,18,17)" opacity="0.54"/>
<ellipse cx="511.4" cy="500.9" rx="5.4" ry="6.7" fill="rgb(100,11,16)" opacity="0.73"/>
<ellipse cx="504.3" cy="410.5" rx="4.7" ry="6.6" fill="rgb(101,13,21)" opacity="0.76"/>
<ellipse cx="469.1" cy="476.6" rx="5.1" ry="5" fill="rgb(139,12,24)" opacity="0.79"/>
<ellipse cx="509.1" cy="498.5" rx="3.8" ry="4.5" fill="rgb(153,18,25)" opacity="0.80"/>
<ellipse cx="483.8" cy="456.8" rx="3.3" ry="3.7" fill="rgb(144,14,22)" opacity="0.52"/>
<ellipse cx="504.1" cy="479.1" rx="4.7" ry="6.6" fill="rgb(85,8,21)" opacity="0.69"/>
<ellipse cx="458.7" cy="489.5" rx="4.2" ry="4.8" fill="rgb(163,5,15)" opacity="0.66"/>
<ellipse cx="509.8" cy="417.5" rx="3.1" ry="5.1" fill="rgb(146,6,24)" opacity="0.76"/>
<ellipse cx="453.3" cy="508.1" rx="3.9" ry="5.7" fill="rgb(152,16,26)" opacity="0.52"/>
<ellipse cx="507.8" cy="496.7" rx="5.5" ry="7.2" fill="rgb(76,7,15)" opacity="0.47"/>
<ellipse cx="458.3" cy="414.5" rx="2.7" ry="7.3" fill="rgb(102,11,13)" opacity="0.69"/>
<ellipse cx="480.5" cy="441.1" rx="4.1" ry="5.9" fill="rgb(128,18,20)" opacity="0.64"/>
<ellipse cx="510.2" cy="492" rx="5.3" ry="5.9" fill="rgb(79,11,20)" opacity="0.83"/>
<ellipse cx="448.5" cy="428.9" rx="3.7" ry="4.6" fill="rgb(76,9,21)" opacity="0.47"/>
<ellipse cx="442.7" cy="491.4" rx="3.2" ry="3.5" fill="rgb(107,6,19)" opacity="0.58"/>
<ellipse cx="494.7" cy="470.8" rx="5" ry="4.9" fill="rgb(81,15,26)" opacity="0.47"/>
<ellipse cx="505.4" cy="500" rx="2.6" ry="6" fill="rgb(80,10,16)" opacity="0.52"/>
<ellipse cx="499.3" cy="476.6" rx="4.6" ry="5.5" fill="rgb(71,7,24)" opacity="0.62"/>
<ellipse cx="478.2" cy="427.3" rx="4.3" ry="5.8" fill="rgb(90,9,14)" opacity="0.73"/>
<ellipse cx="493.9" cy="419.3" rx="5.1" ry="5.5" fill="rgb(144,15,21)" opacity="0.51"/>
<ellipse cx="449.9" cy="469.7" rx="3.7" ry="5.3" fill="rgb(76,16,23)" opacity="0.84"/>
<ellipse cx="447.9" cy="409.9" rx="3.7" ry="5.8" fill="rgb(126,12,15)" opacity="0.76"/>
<ellipse cx="465.3" cy="475.7" rx="4.2" ry="7.4" fill="rgb(141,7,16)" opacity="0.53"/>
<ellipse cx="520.6" cy="482.4" rx="4.6" ry="6.4" fill="rgb(118,15,27)" opacity="0.83"/>
<ellipse cx="450.3" cy="501.1" rx="3.9" ry="6.8" fill="rgb(170,8,23)" opacity="0.55"/>
<ellipse cx="517.6" cy="428.6" rx="4.1" ry="4" fill="rgb(84,15,13)" opacity="0.78"/>
<ellipse cx="470" cy="455.1" rx="2.6" ry="7.1" fill="rgb(133,18,28)" opacity="0.71"/>
<ellipse cx="443" cy="460.2" rx="4.8" ry="6.3" fill="rgb(174,5,19)" opacity="0.66"/>
<ellipse cx="499.1" cy="417" rx="5.1" ry="4" fill="rgb(116,9,15)" opacity="0.59"/>
<ellipse cx="514.8" cy="478.1" rx="3.1" ry="3.9" fill="rgb(149,10,16)" opacity="0.87"/>
<ellipse cx="500.6" cy="413.6" rx="4.3" ry="4.8" fill="rgb(110,7,15)" opacity="0.65"/>
<ellipse cx="504.3" cy="406.7" rx="3" ry="6.5" fill="rgb(136,18,13)" opacity="0.83"/>
<ellipse cx="477.7" cy="441.8" rx="4" ry="5.2" fill="rgb(80,11,16)" opacity="0.54"/>
<ellipse cx="455.7" cy="432.9" rx="5.4" ry="5.1" fill="rgb(97,11,20)" opacity="0.60"/>
<ellipse cx="501.8" cy="430.3" rx="3" ry="6.1" fill="rgb(136,6,23)" opacity="0.50"/>
<ellipse cx="506.9" cy="454.6" rx="4.8" ry="5.6" fill="rgb(97,11,12)" opacity="0.66"/>
<ellipse cx="468.9" cy="432.8" rx="5.5" ry="6.7" fill="rgb(146,10,13)" opacity="0.87"/>
<ellipse cx="462.3" cy="466.1" rx="4.4" ry="6.9" fill="rgb(143,13,24)" opacity="0.61"/>
<ellipse cx="453.8" cy="418.2" rx="3.5" ry="6.6" fill="rgb(93,14,25)" opacity="0.56"/>
<ellipse cx="482.6" cy="415.2" rx="3" ry="4.5" fill="rgb(97,5,20)" opacity="0.83"/>
<ellipse cx="459" cy="504.5" rx="3.7" ry="3.7" fill="rgb(112,9,27)" opacity="0.60"/>
<ellipse cx="469.4" cy="479.8" rx="4" ry="6.9" fill="rgb(79,16,17)" opacity="0.62"/>
<ellipse cx="523" cy="447.4" rx="2.5" ry="4.6" fill="rgb(75,6,15)" opacity="0.82"/>
<ellipse cx="463.7" cy="449.5" rx="4.1" ry="6.5" fill="rgb(131,15,13)" opacity="0.67"/>
<ellipse cx="493.6" cy="437.7" rx="2.8" ry="5.5" fill="rgb(81,15,18)" opacity="0.69"/>
<ellipse cx="469.1" cy="479.6" rx="4" ry="5.1" fill="rgb(121,11,17)" opacity="0.81"/>
<ellipse cx="477.1" cy="431" rx="4.7" ry="6.2" fill="rgb(157,12,23)" opacity="0.88"/>
<ellipse cx="440.6" cy="449.5" rx="5" ry="5.9" fill="rgb(127,17,18)" opacity="0.81"/>
<ellipse cx="481.7" cy="480" rx="3.9" ry="4.3" fill="rgb(86,15,21)" opacity="0.63"/>
<ellipse cx="442.6" cy="447.1" rx="4.8" ry="7.4" fill="rgb(84,17,19)" opacity="0.51"/>
<ellipse cx="510.9" cy="485.2" rx="5" ry="6.8" fill="rgb(100,11,21)" opacity="0.58"/>
<ellipse cx="512.6" cy="445.4" rx="4.6" ry="6.2" fill="rgb(143,6,16)" opacity="0.46"/>
<ellipse cx="503.5" cy="407.1" rx="3.7" ry="4.4" fill="rgb(124,6,14)" opacity="0.55"/>
<ellipse cx="472.6" cy="437.5" rx="3" ry="6" fill="rgb(164,14,23)" opacity="0.75"/>
<ellipse cx="469.8" cy="447.8" rx="3.8" ry="7.4" fill="rgb(79,11,12)" opacity="0.58"/>
<ellipse cx="486.3" cy="471.8" rx="5" ry="6.1" fill="rgb(167,12,25)" opacity="0.56"/>
<ellipse cx="452.1" cy="478.8" rx="4.8" ry="4.9" fill="rgb(149,5,14)" opacity="0.63"/>
<ellipse cx="484.5" cy="446.9" rx="4.5" ry="4.6" fill="rgb(96,5,14)" opacity="0.69"/>
<ellipse cx="509.3" cy="495.7" rx="3.9" ry="4.9" fill="rgb(166,5,23)" opacity="0.72"/>
<ellipse cx="497.4" cy="426.2" rx="5" ry="6.5" fill="rgb(153,14,21)" opacity="0.68"/>
<ellipse cx="519" cy="435.1" rx="3.5" ry="4.8" fill="rgb(152,6,17)" opacity="0.75"/>
<ellipse cx="520.8" cy="507.7" rx="3.2" ry="4.5" fill="rgb(151,7,24)" opacity="0.66"/>
<ellipse cx="452.4" cy="442" rx="4.7" ry="4.5" fill="rgb(92,8,21)" opacity="0.58"/>
<ellipse cx="516.9" cy="436.5" rx="4.4" ry="4.6" fill="rgb(141,10,12)" opacity="0.81"/>
<ellipse cx="493" cy="463.9" rx="5" ry="5.6" fill="rgb(131,16,12)" opacity="0.77"/>
<ellipse cx="524.4" cy="481.4" rx="4.3" ry="4.9" fill="rgb(112,10,25)" opacity="0.50"/>
<ellipse cx="455.9" cy="482.7" rx="2.9" ry="5.4" fill="rgb(160,8,17)" opacity="0.48"/>
<ellipse cx="500.5" cy="462.8" rx="4.6" ry="5.9" fill="rgb(128,6,24)" opacity="0.49"/>
<ellipse cx="482.1" cy="451.4" rx="4.2" ry="5.7" fill="rgb(166,14,13)" opacity="0.71"/>
<ellipse cx="501.9" cy="420.6" rx="4.7" ry="5.8" fill="rgb(73,16,22)" opacity="0.46"/>
</g></g>
<rect x="442.5" y="510" width="80.3" height="99.5" fill="#090626"/>
<rect x="442.5" y="510" width="80.3" height="99.5" filter="url(#blun0)"/>
<rect x="525" y="407.5" width="80.5" height="100" fill="#0d0612"/>
<g clip-path="url(#clipE)"><g filter="url(#bl15)">
<ellipse cx="572.1" cy="425.4" rx="5.3" ry="5.4" fill="rgb(139,15,28)" opacity="0.55"/>
<ellipse cx="541.7" cy="435.3" rx="4.8" ry="4.8" fill="rgb(158,12,14)" opacity="0.56"/>
<ellipse cx="536.6" cy="451.7" rx="3.6" ry="5.4" fill="rgb(138,10,19)" opacity="0.74"/>
<ellipse cx="557.1" cy="426.9" rx="3.9" ry="4.3" fill="rgb(125,15,22)" opacity="0.75"/>
<ellipse cx="597.6" cy="446.4" rx="3.2" ry="3.8" fill="rgb(118,16,25)" opacity="0.45"/>
<ellipse cx="562.2" cy="461.2" rx="4.9" ry="5" fill="rgb(114,10,12)" opacity="0.57"/>
<ellipse cx="592.2" cy="508.5" rx="3" ry="3.8" fill="rgb(125,7,24)" opacity="0.76"/>
<ellipse cx="584.5" cy="443.1" rx="4.2" ry="4.2" fill="rgb(153,18,28)" opacity="0.59"/>
<ellipse cx="596.5" cy="477.6" rx="5.1" ry="7.3" fill="rgb(157,6,13)" opacity="0.71"/>
<ellipse cx="568.1" cy="478.7" rx="5" ry="4" fill="rgb(126,16,26)" opacity="0.81"/>
<ellipse cx="534.9" cy="423.8" rx="3.1" ry="7.2" fill="rgb(171,13,26)" opacity="0.89"/>
<ellipse cx="604.9" cy="413.5" rx="5.2" ry="4.9" fill="rgb(89,6,13)" opacity="0.70"/>
<ellipse cx="581.2" cy="441.8" rx="3.1" ry="6.2" fill="rgb(77,10,14)" opacity="0.58"/>
<ellipse cx="536" cy="453.9" rx="2.8" ry="7.4" fill="rgb(124,10,19)" opacity="0.49"/>
<ellipse cx="578.2" cy="498.2" rx="2.5" ry="5.1" fill="rgb(71,14,26)" opacity="0.75"/>
<ellipse cx="526.8" cy="440.3" rx="3.3" ry="6.1" fill="rgb(171,13,22)" opacity="0.60"/>
<ellipse cx="602.2" cy="435.3" rx="3.6" ry="5.1" fill="rgb(156,15,13)" opacity="0.79"/>
<ellipse cx="566.6" cy="427.7" rx="2.9" ry="4.9" fill="rgb(155,10,12)" opacity="0.65"/>
<ellipse cx="579.2" cy="476.1" rx="5" ry="5.6" fill="rgb(157,15,18)" opacity="0.51"/>
<ellipse cx="569.1" cy="438.4" rx="3.4" ry="4.5" fill="rgb(156,11,18)" opacity="0.65"/>
<ellipse cx="548.1" cy="409.3" rx="4.2" ry="4.9" fill="rgb(76,12,26)" opacity="0.75"/>
<ellipse cx="545.7" cy="479.6" rx="4.8" ry="5.4" fill="rgb(74,14,13)" opacity="0.46"/>
<ellipse cx="601.4" cy="475.1" rx="4.3" ry="4.1" fill="rgb(168,16,13)" opacity="0.47"/>
<ellipse cx="596.5" cy="468.5" rx="4.6" ry="7.4" fill="rgb(85,17,26)" opacity="0.60"/>
<ellipse cx="584.7" cy="420.4" rx="5.4" ry="3.9" fill="rgb(161,5,19)" opacity="0.61"/>
<ellipse cx="577.4" cy="460.8" rx="4.7" ry="6.1" fill="rgb(99,7,18)" opacity="0.65"/>
<ellipse cx="526.2" cy="424.9" rx="5.3" ry="6.7" fill="rgb(136,15,28)" opacity="0.85"/>
<ellipse cx="531.9" cy="460.4" rx="3.5" ry="7.2" fill="rgb(71,7,27)" opacity="0.86"/>
<ellipse cx="532.3" cy="508.8" rx="4.3" ry="6.4" fill="rgb(127,14,14)" opacity="0.90"/>
<ellipse cx="557" cy="419.1" rx="2.8" ry="6.2" fill="rgb(77,5,15)" opacity="0.58"/>
<ellipse cx="542.9" cy="480.9" rx="4.5" ry="5" fill="rgb(119,17,22)" opacity="0.76"/>
<ellipse cx="543.3" cy="445.9" rx="3.9" ry="4.3" fill="rgb(100,7,17)" opacity="0.67"/>
<ellipse cx="564.1" cy="425.3" rx="4.8" ry="6.5" fill="rgb(105,8,22)" opacity="0.80"/>
<ellipse cx="541.9" cy="460.2" rx="4.8" ry="5" fill="rgb(74,9,23)" opacity="0.80"/>
<ellipse cx="599.1" cy="453.1" rx="5" ry="3.7" fill="rgb(103,15,21)" opacity="0.49"/>
<ellipse cx="578.9" cy="444" rx="5.1" ry="5" fill="rgb(75,10,13)" opacity="0.55"/>
<ellipse cx="555.1" cy="456.3" rx="5" ry="7.2" fill="rgb(120,7,25)" opacity="0.76"/>
<ellipse cx="590.2" cy="481.3" rx="3.6" ry="6.8" fill="rgb(104,8,21)" opacity="0.83"/>
<ellipse cx="534.7" cy="422.2" rx="4" ry="7.2" fill="rgb(154,11,28)" opacity="0.47"/>
<ellipse cx="567.8" cy="479.9" rx="4.8" ry="5.5" fill="rgb(71,12,23)" opacity="0.73"/>
<ellipse cx="534.5" cy="504.1" rx="4.8" ry="6.6" fill="rgb(101,16,14)" opacity="0.62"/>
<ellipse cx="575.5" cy="455.6" rx="2.7" ry="6.2" fill="rgb(139,9,23)" opacity="0.82"/>
<ellipse cx="536.9" cy="413" rx="3.2" ry="6.5" fill="rgb(170,16,28)" opacity="0.79"/>
<ellipse cx="558.3" cy="448.9" rx="5.2" ry="3.7" fill="rgb(92,16,15)" opacity="0.46"/>
<ellipse cx="544.6" cy="480.2" rx="2.9" ry="6.4" fill="rgb(137,13,19)" opacity="0.70"/>
<ellipse cx="584.8" cy="414.2" rx="2.7" ry="4.3" fill="rgb(87,12,15)" opacity="0.72"/>
<ellipse cx="563.7" cy="506.9" rx="2.9" ry="4.1" fill="rgb(93,11,27)" opacity="0.81"/>
<ellipse cx="537.5" cy="489.6" rx="4.2" ry="4.2" fill="rgb(79,5,12)" opacity="0.89"/>
<ellipse cx="526.2" cy="433" rx="3" ry="6.4" fill="rgb(151,11,19)" opacity="0.74"/>
<ellipse cx="539.8" cy="420.4" rx="3.5" ry="7.3" fill="rgb(144,18,24)" opacity="0.59"/>
<ellipse cx="571.4" cy="435.9" rx="4" ry="5.2" fill="rgb(106,17,17)" opacity="0.75"/>
<ellipse cx="535.3" cy="507.7" rx="2.8" ry="5.2" fill="rgb(118,17,17)" opacity="0.56"/>
<ellipse cx="560.6" cy="502.2" rx="2.9" ry="3.8" fill="rgb(96,15,24)" opacity="0.84"/>
<ellipse cx="524" cy="423.4" rx="4" ry="6.5" fill="rgb(86,5,23)" opacity="0.73"/>
<ellipse cx="581.1" cy="426.5" rx="5.1" ry="6.8" fill="rgb(141,17,12)" opacity="0.53"/>
<ellipse cx="527.5" cy="443.3" rx="4" ry="6.7" fill="rgb(161,15,28)" opacity="0.67"/>
<ellipse cx="535.7" cy="490" rx="2.5" ry="5.4" fill="rgb(92,15,19)" opacity="0.59"/>
<ellipse cx="560.3" cy="412.3" rx="3.8" ry="6.3" fill="rgb(155,5,23)" opacity="0.67"/>
<ellipse cx="590.7" cy="443.4" rx="3.5" ry="3.8" fill="rgb(143,6,26)" opacity="0.62"/>
<ellipse cx="541.9" cy="488.8" rx="5" ry="4.3" fill="rgb(92,7,28)" opacity="0.68"/>
<ellipse cx="545.6" cy="495.9" rx="5.2" ry="4.1" fill="rgb(83,16,12)" opacity="0.87"/>
<ellipse cx="574.6" cy="475.3" rx="3.3" ry="5.8" fill="rgb(146,16,16)" opacity="0.64"/>
<ellipse cx="566" cy="487.1" rx="3.8" ry="3.7" fill="rgb(98,9,23)" opacity="0.90"/>
<ellipse cx="539.5" cy="484.9" rx="3" ry="7.4" fill="rgb(170,9,14)" opacity="0.59"/>
<ellipse cx="546.1" cy="441.4" rx="3.2" ry="6.3" fill="rgb(163,13,12)" opacity="0.58"/>
<ellipse cx="572" cy="413.7" rx="4.8" ry="5.1" fill="rgb(113,11,24)" opacity="0.77"/>
<ellipse cx="551.4" cy="448.6" rx="2.8" ry="4.7" fill="rgb(143,12,14)" opacity="0.64"/>
<ellipse cx="536" cy="428.7" rx="2.8" ry="5.6" fill="rgb(90,7,28)" opacity="0.72"/>
<ellipse cx="539" cy="444.9" rx="2.7" ry="4.1" fill="rgb(129,9,22)" opacity="0.84"/>
<ellipse cx="580.6" cy="500.4" rx="4.8" ry="6.2" fill="rgb(81,14,20)" opacity="0.47"/>
<ellipse cx="602.1" cy="478.9" rx="5.4" ry="6.4" fill="rgb(114,5,24)" opacity="0.46"/>
<ellipse cx="537.3" cy="474.5" rx="5" ry="3.7" fill="rgb(162,13,18)" opacity="0.51"/>
<ellipse cx="563.9" cy="481.6" rx="3.8" ry="5" fill="rgb(89,18,28)" opacity="0.73"/>
<ellipse cx="590.9" cy="495.6" rx="2.8" ry="3.6" fill="rgb(167,7,26)" opacity="0.75"/>
<ellipse cx="578.8" cy="421.6" rx="3.3" ry="5.8" fill="rgb(165,12,15)" opacity="0.53"/>
</g></g>
<rect x="525" y="510" width="80.5" height="99.5" fill="#090626"/>
<rect x="525" y="510" width="80.5" height="99.5" filter="url(#blun1)"/>
<rect x="607.5" y="407.5" width="80.2" height="100" fill="#0d0612"/>
<g clip-path="url(#clipE)"><g filter="url(#bl15)">
<ellipse cx="618" cy="469.7" rx="4.2" ry="6.1" fill="rgb(91,7,24)" opacity="0.58"/>
<ellipse cx="641.6" cy="466" rx="4.1" ry="6" fill="rgb(162,13,17)" opacity="0.78"/>
<ellipse cx="637.3" cy="428.8" rx="2.8" ry="3.7" fill="rgb(86,7,26)" opacity="0.85"/>
<ellipse cx="676" cy="480" rx="2.9" ry="6" fill="rgb(137,15,27)" opacity="0.75"/>
<ellipse cx="626.3" cy="414.7" rx="3.6" ry="4.3" fill="rgb(112,11,25)" opacity="0.83"/>
<ellipse cx="616.7" cy="489.5" rx="3.1" ry="5.9" fill="rgb(116,15,21)" opacity="0.64"/>
<ellipse cx="652.5" cy="451.3" rx="4.8" ry="4.6" fill="rgb(155,10,27)" opacity="0.74"/>
<ellipse cx="650.7" cy="496.7" rx="4.6" ry="5.1" fill="rgb(135,16,18)" opacity="0.72"/>
<ellipse cx="682.5" cy="470.4" rx="5" ry="5" fill="rgb(138,5,24)" opacity="0.50"/>
<ellipse cx="645.4" cy="496.9" rx="2.7" ry="6.9" fill="rgb(109,11,20)" opacity="0.64"/>
<ellipse cx="680.2" cy="423.1" rx="3.8" ry="6.2" fill="rgb(110,8,28)" opacity="0.64"/>
<ellipse cx="617.5" cy="455.4" rx="2.5" ry="4.5" fill="rgb(99,9,16)" opacity="0.50"/>
<ellipse cx="670.9" cy="405.5" rx="3.5" ry="6.4" fill="rgb(105,11,19)" opacity="0.64"/>
<ellipse cx="663.3" cy="492.5" rx="3.1" ry="5.4" fill="rgb(157,17,26)" opacity="0.71"/>
<ellipse cx="622.9" cy="482.7" rx="2.8" ry="4.2" fill="rgb(103,17,24)" opacity="0.75"/>
<ellipse cx="669.9" cy="502.2" rx="3.9" ry="3.5" fill="rgb(157,9,25)" opacity="0.55"/>
<ellipse cx="660.2" cy="478.7" rx="4.6" ry="7.3" fill="rgb(100,15,15)" opacity="0.66"/>
<ellipse cx="676" cy="433.8" rx="3" ry="4.2" fill="rgb(169,17,13)" opacity="0.76"/>
<ellipse cx="661.8" cy="501.6" rx="3.9" ry="5.9" fill="rgb(87,12,14)" opacity="0.88"/>
<ellipse cx="634.2" cy="419.1" rx="3.9" ry="4.5" fill="rgb(170,7,12)" opacity="0.57"/>
<ellipse cx="687.9" cy="499.5" rx="5.3" ry="5.4" fill="rgb(89,8,14)" opacity="0.49"/>
<ellipse cx="652.5" cy="426.3" rx="2.6" ry="5.5" fill="rgb(126,13,17)" opacity="0.66"/>
<ellipse cx="628.5" cy="499.8" rx="4.6" ry="7.3" fill="rgb(166,13,14)" opacity="0.81"/>
<ellipse cx="664.1" cy="417.8" rx="4.4" ry="4.3" fill="rgb(174,7,14)" opacity="0.77"/>
<ellipse cx="678.5" cy="446.7" rx="5.2" ry="4" fill="rgb(151,10,27)" opacity="0.57"/>
<ellipse cx="627.5" cy="451.9" rx="4" ry="4.3" fill="rgb(96,6,13)" opacity="0.76"/>
<ellipse cx="634.1" cy="456.1" rx="4.7" ry="5.9" fill="rgb(158,17,26)" opacity="0.90"/>
<ellipse cx="607.1" cy="452.5" rx="5" ry="7.5" fill="rgb(84,13,12)" opacity="0.48"/>
<ellipse cx="645.2" cy="494" rx="2.7" ry="4.3" fill="rgb(120,16,24)" opacity="0.89"/>
<ellipse cx="685.5" cy="472" rx="3.5" ry="6.7" fill="rgb(102,16,18)" opacity="0.83"/>
<ellipse cx="658.9" cy="434.8" rx="2.8" ry="5.7" fill="rgb(80,18,20)" opacity="0.58"/>
<ellipse cx="648.8" cy="425.2" rx="2.6" ry="4.2" fill="rgb(80,8,19)" opacity="0.76"/>
<ellipse cx="674.7" cy="491" rx="2.5" ry="4.3" fill="rgb(158,18,26)" opacity="0.72"/>
<ellipse cx="639.3" cy="469.2" rx="4.3" ry="4.2" fill="rgb(146,11,27)" opacity="0.82"/>
<ellipse cx="606.3" cy="461.3" rx="5.2" ry="5.5" fill="rgb(125,13,19)" opacity="0.60"/>
<ellipse cx="613.7" cy="447.2" rx="5.4" ry="5.2" fill="rgb(156,16,14)" opacity="0.67"/>
<ellipse cx="625.2" cy="505.3" rx="5.2" ry="6.4" fill="rgb(71,9,12)" opacity="0.60"/>
<ellipse cx="675" cy="458.5" rx="2.6" ry="4.2" fill="rgb(151,8,24)" opacity="0.56"/>
<ellipse cx="637.8" cy="461" rx="4" ry="3.8" fill="rgb(89,13,21)" opacity="0.82"/>
<ellipse cx="665.2" cy="502.3" rx="3.6" ry="5.2" fill="rgb(133,5,12)" opacity="0.78"/>
<ellipse cx="634.7" cy="470" rx="5.3" ry="4.6" fill="rgb(139,15,15)" opacity="0.85"/>
<ellipse cx="625.9" cy="442.4" rx="4.8" ry="4.1" fill="rgb(90,6,24)" opacity="0.74"/>
<ellipse cx="634.4" cy="489.7" rx="3.8" ry="4.9" fill="rgb(101,7,21)" opacity="0.62"/>
<ellipse cx="687.3" cy="447.4" rx="5" ry="5.5" fill="rgb(112,5,22)" opacity="0.80"/>
<ellipse cx="682.9" cy="444.2" rx="5.5" ry="7.1" fill="rgb(74,16,18)" opacity="0.81"/>
<ellipse cx="683.2" cy="405.8" rx="5.5" ry="6.8" fill="rgb(165,13,17)" opacity="0.50"/>
<ellipse cx="651.5" cy="420.3" rx="4.8" ry="5.4" fill="rgb(132,18,17)" opacity="0.54"/>
<ellipse cx="662" cy="491" rx="5.3" ry="4.3" fill="rgb(123,8,17)" opacity="0.66"/>
<ellipse cx="637" cy="483.9" rx="3.9" ry="4.2" fill="rgb(112,6,15)" opacity="0.47"/>
<ellipse cx="685.8" cy="476.4" rx="3.7" ry="3.9" fill="rgb(142,10,28)" opacity="0.73"/>
<ellipse cx="625.9" cy="472.5" rx="4.7" ry="4.4" fill="rgb(151,12,22)" opacity="0.75"/>
<ellipse cx="622.9" cy="435.4" rx="3.7" ry="4.9" fill="rgb(81,14,21)" opacity="0.84"/>
<ellipse cx="653.1" cy="494.7" rx="5.3" ry="7.2" fill="rgb(133,16,25)" opacity="0.76"/>
<ellipse cx="638.3" cy="416.2" rx="3.7" ry="4.9" fill="rgb(156,13,12)" opacity="0.50"/>
<ellipse cx="671.5" cy="503.8" rx="5.3" ry="5.8" fill="rgb(98,12,17)" opacity="0.62"/>
<ellipse cx="615.9" cy="483.8" rx="5.2" ry="5.4" fill="rgb(144,12,15)" opacity="0.47"/>
<ellipse cx="683.5" cy="448.8" rx="2.8" ry="7.2" fill="rgb(96,11,26)" opacity="0.81"/>
<ellipse cx="611.4" cy="455.5" rx="2.7" ry="4.4" fill="rgb(165,13,27)" opacity="0.52"/>
<ellipse cx="638.9" cy="472.8" rx="4.3" ry="7.1" fill="rgb(172,14,19)" opacity="0.58"/>
<ellipse cx="647" cy="406.5" rx="4" ry="5.1" fill="rgb(172,8,19)" opacity="0.55"/>
<ellipse cx="608.3" cy="481.1" rx="5" ry="6.2" fill="rgb(80,17,12)" opacity="0.55"/>
<ellipse cx="687.9" cy="425" rx="4.6" ry="6.4" fill="rgb(144,7,28)" opacity="0.64"/>
<ellipse cx="655.4" cy="496" rx="5.5" ry="6.4" fill="rgb(152,9,14)" opacity="0.56"/>
<ellipse cx="620.9" cy="405.6" rx="3.1" ry="5.8" fill="rgb(121,13,12)" opacity="0.75"/>
<ellipse cx="684.5" cy="474" rx="2.8" ry="6.2" fill="rgb(92,8,24)" opacity="0.83"/>
<ellipse cx="688.2" cy="429.3" rx="5.1" ry="7.5" fill="rgb(171,9,15)" opacity="0.77"/>
<ellipse cx="659.9" cy="407.8" rx="3.7" ry="6.2" fill="rgb(97,8,25)" opacity="0.84"/>
<ellipse cx="668.4" cy="489.8" rx="2.7" ry="6.4" fill="rgb(101,14,20)" opacity="0.60"/>
<ellipse cx="684.7" cy="478.4" rx="4.8" ry="6.7" fill="rgb(127,18,20)" opacity="0.61"/>
<ellipse cx="670.7" cy="428.2" rx="3.1" ry="6" fill="rgb(119,18,24)" opacity="0.60"/>
<ellipse cx="664.4" cy="487" rx="4.1" ry="5.3" fill="rgb(73,11,18)" opacity="0.81"/>
<ellipse cx="625.9" cy="446.8" rx="4.7" ry="5.9" fill="rgb(132,15,19)" opacity="0.54"/>
<ellipse cx="653.3" cy="483.4" rx="4.1" ry="4.4" fill="rgb(126,8,26)" opacity="0.55"/>
<ellipse cx="674.7" cy="411.8" rx="4.1" ry="7.3" fill="rgb(168,15,20)" opacity="0.46"/>
<ellipse cx="637.4" cy="418.3" rx="3.3" ry="3.8" fill="rgb(139,15,22)" opacity="0.89"/>
</g></g>
<rect x="607.5" y="510" width="80.2" height="99.5" fill="#090626"/>
<rect x="607.5" y="510" width="80.2" height="99.5" filter="url(#blun2)"/>
<g clip-path="url(#clipE)">
<ellipse cx="478" cy="421" rx="7" ry="5.5" fill="#30bcb8" opacity="1" transform="rotate(-15 478 421)" filter="url(#bl2)"/>
<ellipse cx="476.5" cy="429" rx="4" ry="6" fill="#28a8a4" opacity="1" transform="rotate(0 476.5 429)" filter="url(#bl2)"/>
<ellipse cx="477.5" cy="420.5" rx="3.5" ry="3.5" fill="#6ae8e0" opacity="1" transform="rotate(-25 477.5 420.5)" filter="url(#bl2)"/>
<ellipse cx="474.5" cy="467" rx="6.5" ry="8.5" fill="#1f9890" opacity="1" transform="rotate(0 474.5 467)" filter="url(#bl2)"/>
<ellipse cx="474" cy="463" rx="3.5" ry="3.5" fill="#3cc0b0" opacity="1" transform="rotate(0 474 463)" filter="url(#bl2)"/>
<ellipse cx="474.5" cy="471" rx="3" ry="4" fill="#2aa8a0" opacity="1" transform="rotate(0 474.5 471)" filter="url(#bl2)"/>
<ellipse cx="504" cy="471" rx="5" ry="7" fill="#1d8a94" opacity="0.9" transform="rotate(-25 504 471)" filter="url(#bl2)"/>
<ellipse cx="566.5" cy="417" rx="4" ry="7.5" fill="#36c4c6" opacity="1" transform="rotate(30 566.5 417)" filter="url(#bl2)"/>
<ellipse cx="575" cy="444" rx="3" ry="4.5" fill="#b01515" opacity="1" transform="rotate(0 575 444)" filter="url(#bl2)"/>
<ellipse cx="571" cy="458" rx="5.8" ry="9.5" fill="#26b055" opacity="1" transform="rotate(15 571 458)" filter="url(#bl2)"/>
<ellipse cx="571.5" cy="459" rx="3" ry="5" fill="#48d070" opacity="1" transform="rotate(15 571.5 459)" filter="url(#bl2)"/>
<ellipse cx="588.5" cy="455" rx="3" ry="8" fill="#1a7f90" opacity="0.9" transform="rotate(-10 588.5 455)" filter="url(#bl2)"/>
<ellipse cx="656" cy="409.5" rx="5" ry="3.5" fill="#32b0c0" opacity="1" transform="rotate(0 656 409.5)" filter="url(#bl2)"/>
<ellipse cx="665.5" cy="457" rx="3.5" ry="11" fill="#28a8bc" opacity="1" transform="rotate(8 665.5 457)" filter="url(#bl2)"/>
<ellipse cx="653" cy="462" rx="4.5" ry="4" fill="#1a7868" opacity="0.9" transform="rotate(30 653 462)" filter="url(#bl2)"/>
<ellipse cx="477" cy="528" rx="7" ry="8.5" fill="#8a26d0" opacity="1" transform="rotate(-10 477 528)" filter="url(#bl2)"/>
<ellipse cx="472" cy="536" rx="3" ry="4" fill="#7a24d0" opacity="1" transform="rotate(0 472 536)" filter="url(#bl2)"/>
<ellipse cx="476" cy="525.5" rx="3.5" ry="4" fill="#d02a90" opacity="1" transform="rotate(0 476 525.5)" filter="url(#bl2)"/>
<ellipse cx="474.5" cy="571" rx="6.5" ry="8.5" fill="#8a2ae0" opacity="1" transform="rotate(0 474.5 571)" filter="url(#bl2)"/>
<ellipse cx="474" cy="572" rx="3.5" ry="4.5" fill="#a040f0" opacity="1" transform="rotate(0 474 572)" filter="url(#bl2)"/>
<ellipse cx="503.5" cy="576" rx="5" ry="6.5" fill="#6424d0" opacity="1" transform="rotate(-20 503.5 576)" filter="url(#bl2)"/>
<ellipse cx="497.7" cy="529.4" rx="1.5" ry="1.5" fill="#3020b0" opacity="1" transform="rotate(0 497.7 529.4)" filter="url(#bl2)"/>
<ellipse cx="515" cy="522.5" rx="1.8" ry="1.8" fill="#3020b0" opacity="1" transform="rotate(0 515 522.5)" filter="url(#bl2)"/>
<ellipse cx="567" cy="521" rx="5" ry="5.5" fill="#7424dc" opacity="1" transform="rotate(0 567 521)" filter="url(#bl2)"/>
<ellipse cx="571" cy="561" rx="5.5" ry="8.5" fill="#a01cc0" opacity="1" transform="rotate(15 571 561)" filter="url(#bl2)"/>
<ellipse cx="570.5" cy="561" rx="3" ry="4.5" fill="#ee3a30" opacity="1" transform="rotate(15 570.5 561)" filter="url(#bl2)"/>
<ellipse cx="588.5" cy="560" rx="2.5" ry="6.5" fill="#4a1cc0" opacity="0.8" transform="rotate(0 588.5 560)" filter="url(#bl2)"/>
<ellipse cx="655" cy="512" rx="5" ry="3" fill="#6020d0" opacity="1" transform="rotate(0 655 512)" filter="url(#bl2)"/>
<ellipse cx="665.5" cy="560" rx="3.5" ry="10" fill="#6a22d0" opacity="1" transform="rotate(8 665.5 560)" filter="url(#bl2)"/>
<ellipse cx="653" cy="565" rx="4.5" ry="4" fill="#5a1ec8" opacity="1" transform="rotate(30 653 565)" filter="url(#bl2)"/>
</g>
<path d="M466.2,459.8 C468,457 472,455.8 475.7,455.8 C479,456 482,458 482.9,461 C483.5,464 482,468 480.5,470.1 C479,473 477,476 474.1,477.2 C471.5,476.5 469,473 467.8,470.1 C466.5,467 465,463 466.2,459.8 Z" transform="translate(0,0)" fill="none" stroke="#fff" stroke-width="2.2" stroke-dasharray="0.7 3.3" stroke-linecap="round"/>
<path d="M466.2,459.8 C468,457 472,455.8 475.7,455.8 C479,456 482,458 482.9,461 C483.5,464 482,468 480.5,470.1 C479,473 477,476 474.1,477.2 C471.5,476.5 469,473 467.8,470.1 C466.5,467 465,463 466.2,459.8 Z" transform="translate(0,103)" fill="none" stroke="#fff" stroke-width="2.2" stroke-dasharray="0.7 3.3" stroke-linecap="round"/>
<path d="M570.5,446.5 C574,447 577,452 578,458 C578.5,463 576,468 572,470.5 C569,470 566,467 564.5,462 C562.5,457 563,452 565.5,449 C567,447 569,446.5 570.5,446.5 Z" transform="translate(0,0)" fill="none" stroke="#fff" stroke-width="2.2" stroke-dasharray="0.7 3.3" stroke-linecap="round"/>
<path d="M570.5,446.5 C574,447 577,452 578,458 C578.5,463 576,468 572,470.5 C569,470 566,467 564.5,462 C562.5,457 563,452 565.5,449 C567,447 569,446.5 570.5,446.5 Z" transform="translate(0,103)" fill="none" stroke="#fff" stroke-width="2.2" stroke-dasharray="0.7 3.3" stroke-linecap="round"/>
<path d="M665,439.6 C667.5,441 668,446 668.5,452 C671,454 672,458 671.3,461 C671,464 670,467 668,469.8 C666,470.5 664,470.5 662.5,469.5 C661,468.5 659.5,467.5 658.8,467.5 C657.5,469 657.5,472 656.7,472.3 C654,470.5 651.5,468 649.5,465 C647.5,462.5 646,459.5 646.8,457 C647.5,455 650,454.8 653.9,456.5 C656,457 658.5,457 660.1,456.3 C660.5,452 660.5,447 661.5,443.5 C662.5,441 663.5,439.8 665,439.6 Z" transform="translate(0,0)" fill="none" stroke="#fff" stroke-width="2.2" stroke-dasharray="0.7 3.3" stroke-linecap="round"/>
<path d="M665,439.6 C667.5,441 668,446 668.5,452 C671,454 672,458 671.3,461 C671,464 670,467 668,469.8 C666,470.5 664,470.5 662.5,469.5 C661,468.5 659.5,467.5 658.8,467.5 C657.5,469 657.5,472 656.7,472.3 C654,470.5 651.5,468 649.5,465 C647.5,462.5 646,459.5 646.8,457 C647.5,455 650,454.8 653.9,456.5 C656,457 658.5,457 660.1,456.3 C660.5,452 660.5,447 661.5,443.5 C662.5,441 663.5,439.8 665,439.6 Z" transform="translate(0,103)" fill="none" stroke="#fff" stroke-width="2.2" stroke-dasharray="0.7 3.3" stroke-linecap="round"/>
<text x="445.5" y="499" font-size="11.5" font-weight="bold" text-anchor="start" fill="#fff" >25 µm</text>
<rect x="446.4" y="502" width="33.7" height="2.2" fill="#fff"/>
<text x="521.5" y="608.2" font-size="11" font-weight="bold" text-anchor="end" fill="#fff" >4.6 min</text>
<text x="604.5" y="608.2" font-size="11" font-weight="bold" text-anchor="end" fill="#fff" >5.7 min</text>
<text x="687" y="608.2" font-size="11" font-weight="bold" text-anchor="end" fill="#fff" >6.6 min</text>
<rect x="690" y="524" width="12.4" height="85.7" fill="url(#cbar)"/>
<text x="690.8" y="534.9" font-size="11" font-weight="bold" text-anchor="start" fill="#111" >Hi</text>
<text x="690" y="609.5" font-size="12" font-weight="bold" text-anchor="start" fill="#fff" >Lo</text>
</g>
</svg>
</body></html>
